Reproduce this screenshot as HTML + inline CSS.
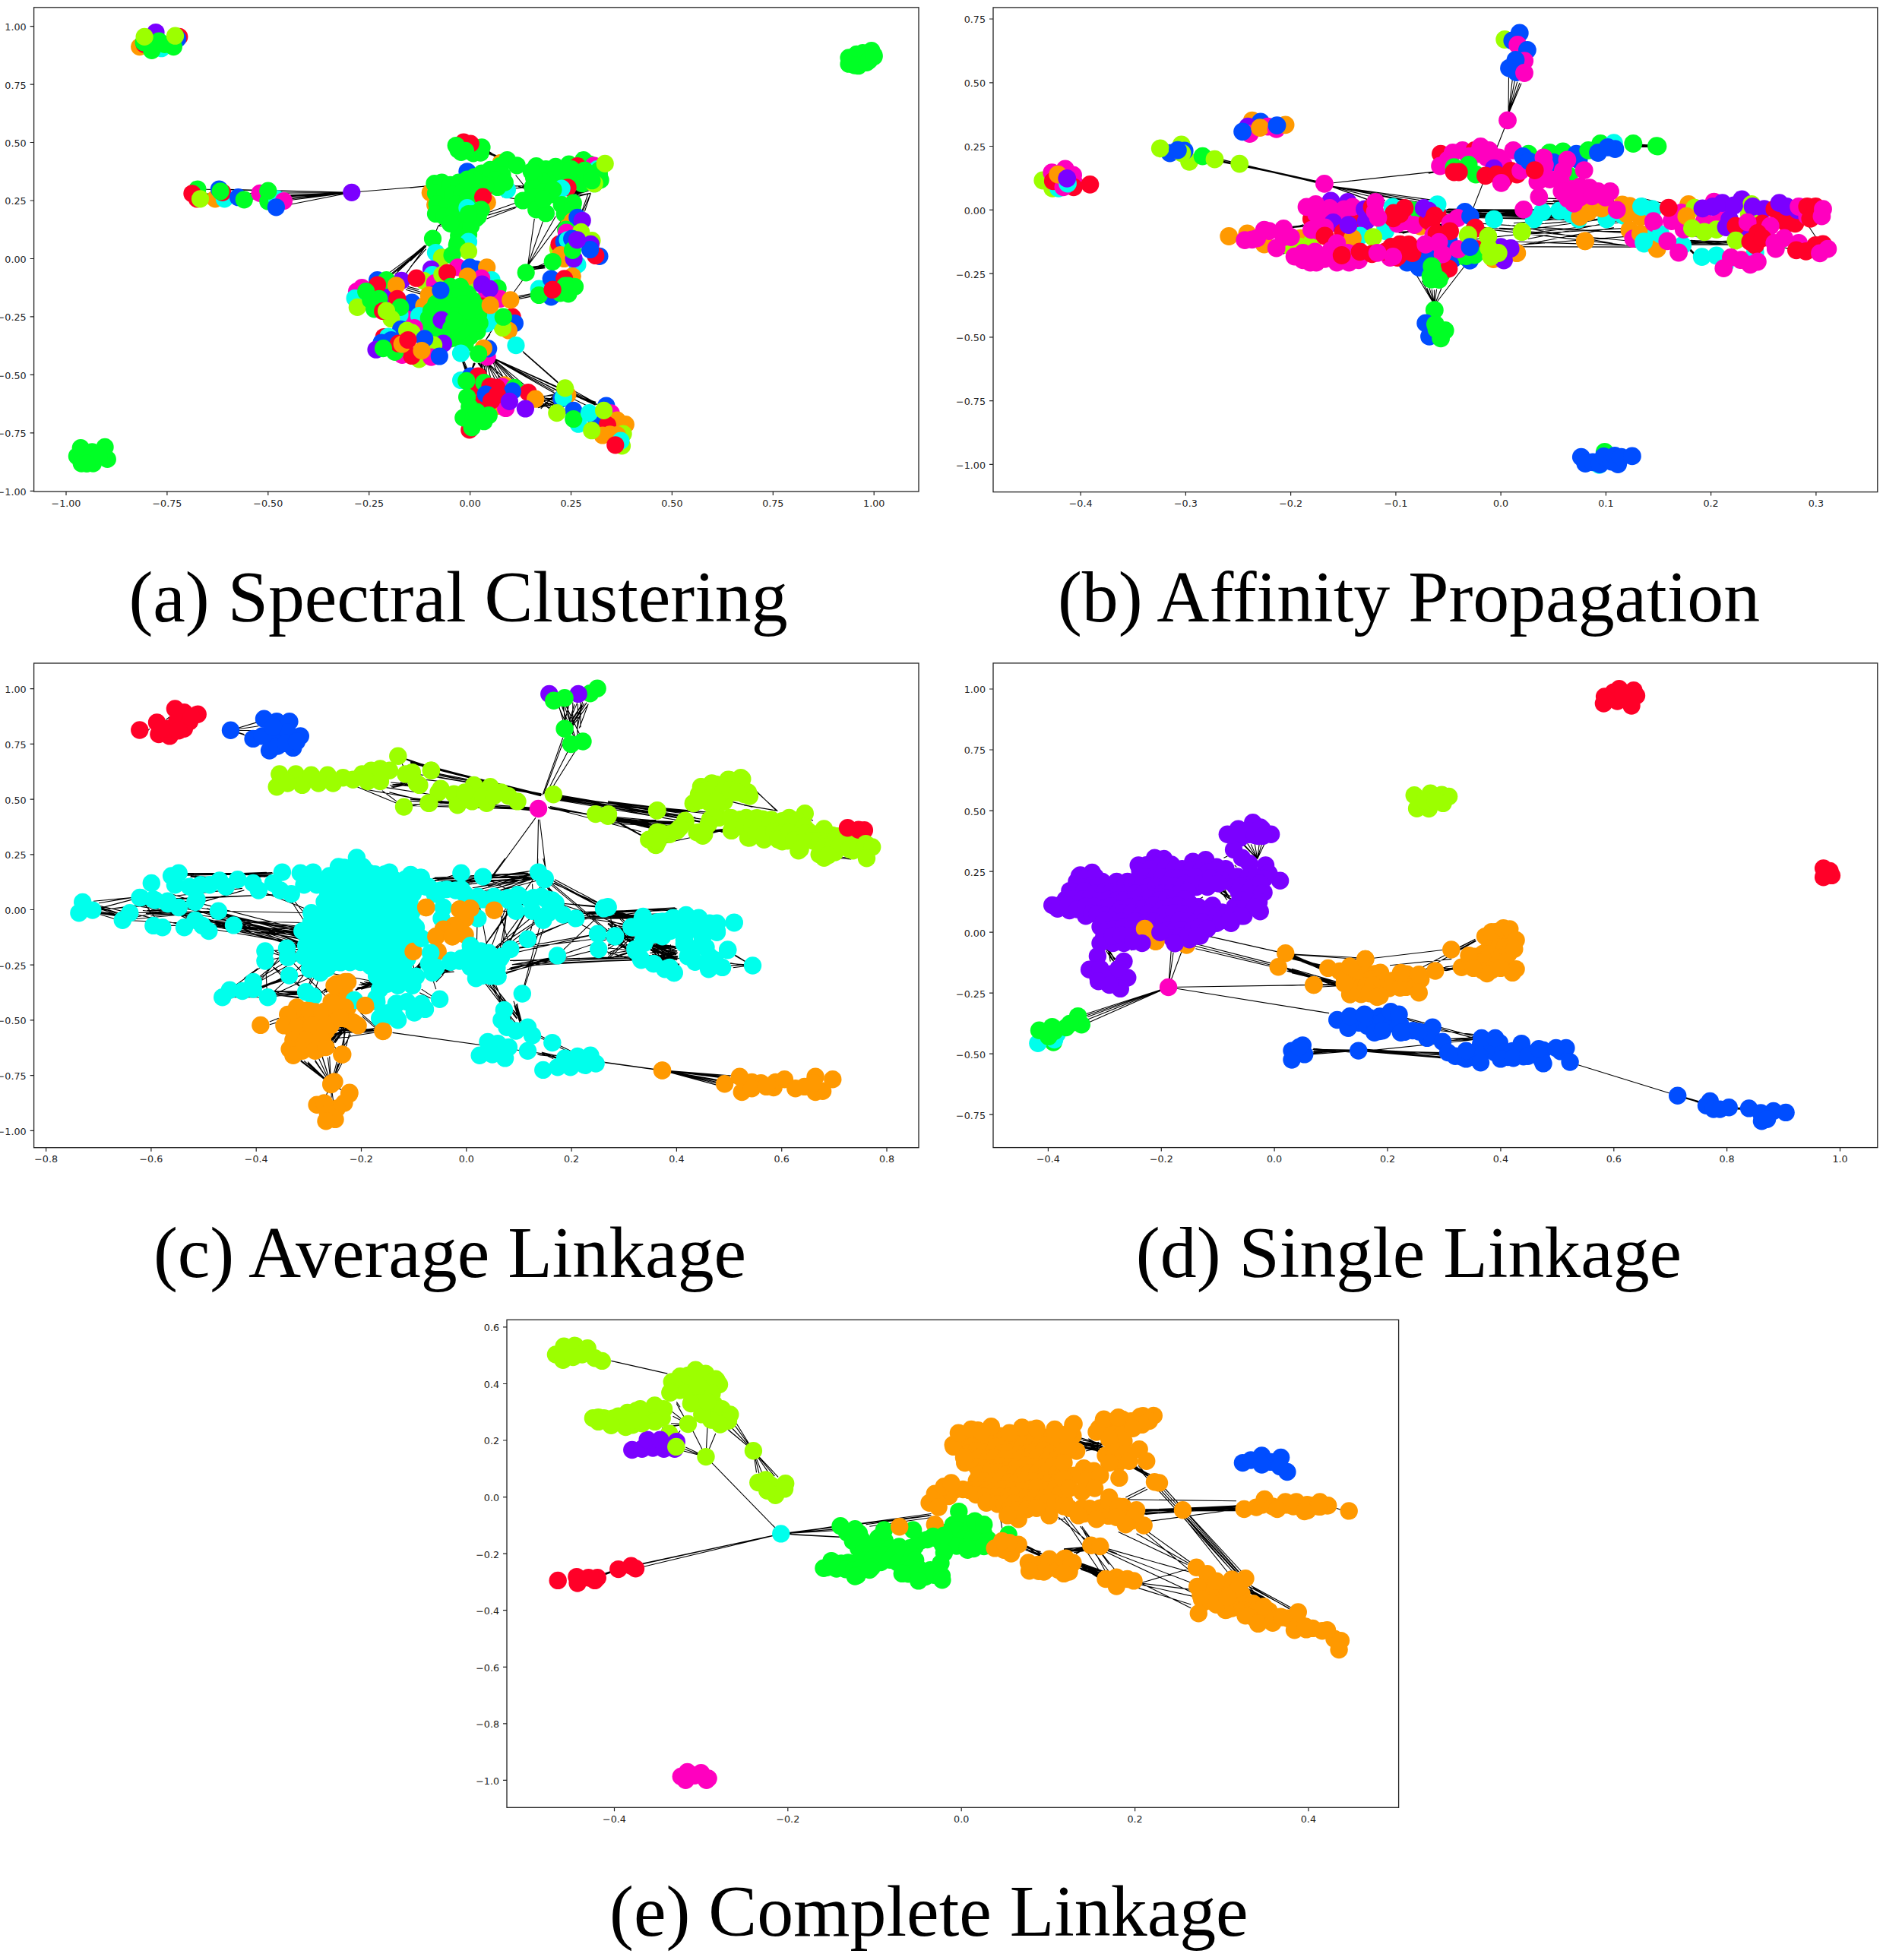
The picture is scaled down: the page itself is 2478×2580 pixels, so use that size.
<!DOCTYPE html>
<html><head><meta charset="utf-8"><title>Clustering figure</title>
<style>
html,body{margin:0;padding:0;background:#fff}
svg{display:block}
text{font-family:"DejaVu Sans","Liberation Sans",sans-serif;font-size:12.7px;fill:#222}
text.cap{font-family:"Liberation Serif","DejaVu Serif",serif;font-size:95.8px;fill:#000}
</style></head><body>
<svg width="2478" height="2580" viewBox="0 0 2478 2580">
<rect width="2478" height="2580" fill="#fff"/>
<g id="pa"><path d="M462.8 253.3L259.9 249.0M462.8 253.3L252.9 255.4M462.8 253.3L283.1 261.8M462.8 253.3L295.4 261.8M462.8 253.3L288.4 249.0M462.8 253.3L313.5 259.7M462.8 253.3L321.3 262.8M462.8 253.3L342.1 254.3M462.8 253.3L352.8 251.2M462.8 253.3L352.8 265.0M462.8 253.3L364.5 261.8M462.8 253.3L373.4 264.5M462.8 253.3L363.4 272.8M462.8 253.3L263.5 261.8M462.8 253.3L568.4 244.4M636.4 201.1L663.2 208.3M638.7 199.2L662.3 211.7M636.2 197.2L663.8 209.4M640.5 197.1L660.6 211.2M637.0 201.6L664.3 206.8M635.8 199.7L664.6 209.1M637.0 199.1L657.3 208.1M638.4 199.5L659.0 208.1M692.1 250.0L693.7 239.6M689.8 248.4L701.5 242.4M685.4 247.3L700.4 240.5M682.1 245.6L702.2 251.2M692.0 246.8L698.6 241.9M678.6 230.5L697.7 254.4M661.1 259.2L683.4 262.4M642.0 279.9L683.4 265.6M642.0 283.1L680.2 272.0M640.4 287.9L678.6 273.6M675.4 244.9L699.3 244.9M673.8 248.1L696.1 246.5M694.5 350.0L703.3 287.9M694.5 350.0L714.5 291.1M694.5 350.0L731.2 284.7M694.5 350.0L738.4 291.1M700.1 353.4L716.4 350.1M701.3 351.6L715.3 351.9M700.1 352.2L718.4 349.0M702.0 353.1L717.3 346.5M701.3 354.6L716.9 351.2M701.5 351.6L717.7 350.0M700.3 351.4L718.0 349.0M701.6 354.7L717.5 352.6M748.5 253.5L768.1 248.0M746.4 255.4L774.7 251.1M755.3 254.3L769.9 248.6M747.7 253.5L765.8 251.7M756.1 258.0L773.3 248.2M749.5 256.8L772.4 251.4M756.7 253.4L770.8 250.5M752.0 254.0L769.1 247.7M757.4 258.4L770.0 248.7M757.1 256.5L774.3 251.3M777.4 254.4L747.1 259.2M777.4 254.4L751.9 260.8M777.4 254.4L766.2 279.9M777.4 254.4L769.4 278.3M774.2 254.4L764.6 281.5M576.6 297.5L570.3 313.4M576.6 297.5L581.4 294.3M576.6 297.5L587.8 297.5M559.1 322.9L540.0 338.9M560.7 324.5L540.0 343.7M560.7 327.7L540.0 351.6M540.0 247.3L560.7 244.9M561.1 322.9L506.9 363.0M561.1 322.9L510.1 364.3M561.1 322.9L514.1 363.0M561.1 322.9L534.0 360.6M561.1 322.9L522.8 357.4M561.1 322.9L519.7 361.4M688.5 367.8L675.8 385.3M682.2 390.1L698.1 386.9M682.2 391.7L698.1 388.5M682.2 393.6L698.1 390.4M650.3 429.9L631.2 460.2M669.4 439.5L677.4 446.7M670.2 437.9L678.2 445.1M534.0 381.3L553.1 386.9M535.6 378.9L553.9 384.5M537.2 377.4L551.5 381.3M543.6 418.8L535.6 425.2M558.7 422.0L558.7 434.7M646.5 470.3L659.2 503.7M646.5 470.3L665.6 502.1M646.5 470.3L673.6 503.7M646.5 470.3L681.5 506.9M646.5 470.3L694.3 510.1M646.5 470.3L729.3 514.9M646.5 470.3L730.9 518.1M646.5 470.3L781.9 530.8M646.5 470.3L783.5 533.2M646.5 470.3L734.1 510.1M646.5 470.3L775.5 535.6M640.1 475.8L633.7 497.4M640.1 475.8L640.1 500.5M640.1 475.8L646.5 500.5M640.1 475.8L652.8 502.1M640.1 475.8L659.2 505.3M640.1 475.8L667.2 506.9M640.1 475.8L675.2 508.5M649.7 471.9L738.9 522.8M649.7 471.9L745.3 519.7M649.7 471.9L793.0 535.6M649.7 471.9L688.7 511.7M609.4 476.1L616.1 490.3M609.9 476.4L613.3 491.0M608.7 476.5L613.4 490.3M609.6 477.2L613.6 490.5M610.2 477.4L615.8 490.8M611.0 475.9L617.1 490.6M608.9 476.0L614.5 491.5M624.1 479.0L618.2 491.3M623.6 477.8L621.0 490.5M625.4 478.2L619.2 491.0M624.0 478.8L618.1 490.6M623.4 477.9L619.1 491.6M624.6 477.6L618.6 491.8M623.6 478.4L619.0 491.2M633.4 478.0L633.9 497.9M629.0 478.2L643.6 496.7M634.2 478.4L632.7 497.2M635.7 478.2L641.4 496.8M631.2 477.6L638.6 498.0M634.6 478.7L637.0 497.7M629.9 477.9L640.7 497.7M633.0 477.6L635.5 496.9M687.9 462.3L734.1 502.9M688.7 463.9L735.7 505.3M673.6 440.0L675.9 445.6M672.0 440.0L676.7 446.4M644.9 440.0L640.1 446.4M709.1 527.9L729.8 523.3M710.6 535.4L730.3 522.2M708.7 525.9L727.7 542.4M711.8 520.5L731.6 533.4M707.9 525.1L730.4 529.7M709.8 532.3L727.0 537.6M711.7 538.2L730.0 519.2M705.4 522.2L732.1 525.8M707.8 536.8L728.1 532.1M708.2 520.9L729.9 539.6M706.4 523.9L728.8 519.0M708.6 535.3L730.3 531.7M710.9 522.5L729.7 527.6M709.3 521.8L731.1 520.5M706.5 535.1L732.2 529.1M708.1 524.4L727.9 533.8M753.1 518.4L784.8 531.4M753.2 518.5L782.5 531.7M753.6 519.5L782.2 530.7M751.9 519.5L784.1 529.4M754.8 520.3L784.0 532.2M752.1 515.7L783.6 529.5M752.2 516.8L782.0 531.4M753.0 519.7L783.6 532.3M753.2 518.8L783.4 530.5M754.8 520.4L784.6 532.6M756.4 514.9L781.9 529.2" fill="none" stroke="#000" stroke-width="1.1"/>
<g fill="#ff9900"><circle cx="183.7" cy="61.6" r="11.6"/></g>
<g fill="#ff0028"><circle cx="190.1" cy="58.4" r="11.6"/></g>
<g fill="#00ffec"><circle cx="212.4" cy="63.7" r="11.6"/></g>
<g fill="#7b00ff"><circle cx="205.0" cy="42.5" r="11.6"/></g>
<g fill="#ff0028"><circle cx="235.8" cy="48.4" r="11.6"/></g>
<g fill="#004dff"><circle cx="233.7" cy="51.0" r="11.6"/></g>
<g fill="#00ff25"><circle cx="199.7" cy="66.3" r="11.6"/><circle cx="189.1" cy="55.7" r="11.6"/><circle cx="209.2" cy="54.2" r="11.6"/><circle cx="228.4" cy="61.6" r="11.6"/><circle cx="216.7" cy="58.4" r="11.6"/></g>
<g fill="#9cff00"><circle cx="190.1" cy="48.4" r="11.6"/><circle cx="230.5" cy="47.2" r="11.6"/></g>
<g fill="#00ff25"><circle cx="259.9" cy="249.0" r="11.6"/></g>
<g fill="#ff0028"><circle cx="252.9" cy="254.8" r="11.6"/><circle cx="259.3" cy="261.8" r="11.6"/></g>
<g fill="#ff9900"><circle cx="283.1" cy="261.8" r="11.6"/></g>
<g fill="#00ffec"><circle cx="295.4" cy="261.8" r="11.6"/></g>
<g fill="#004dff"><circle cx="288.4" cy="249.0" r="11.6"/></g>
<g fill="#ff0028"><circle cx="292.7" cy="253.3" r="11.6"/></g>
<g fill="#00ff25"><circle cx="290.1" cy="251.8" r="11.6"/></g>
<g fill="#9cff00"><circle cx="263.5" cy="261.8" r="11.6"/></g>
<g fill="#004dff"><circle cx="313.5" cy="259.7" r="11.6"/></g>
<g fill="#00ff25"><circle cx="321.3" cy="262.8" r="11.6"/></g>
<g fill="#ff00bf"><circle cx="342.1" cy="254.3" r="11.6"/></g>
<g fill="#00ff25"><circle cx="352.8" cy="265.0" r="11.6"/></g>
<g fill="#00ffec"><circle cx="364.5" cy="261.8" r="11.6"/></g>
<g fill="#ff00bf"><circle cx="373.4" cy="264.5" r="11.6"/></g>
<g fill="#00ff25"><circle cx="352.8" cy="251.2" r="11.6"/></g>
<g fill="#004dff"><circle cx="363.4" cy="272.8" r="11.6"/></g>
<g fill="#7b00ff"><circle cx="462.8" cy="253.3" r="11.6"/></g>
<g fill="#00ff25"><circle cx="634.0" cy="193.9" r="11.6"/><circle cx="632.4" cy="201.1" r="11.6"/><circle cx="622.8" cy="201.9" r="11.6"/></g>
<g fill="#ff0028"><circle cx="610.1" cy="187.2" r="11.6"/><circle cx="619.2" cy="189.1" r="11.6"/></g>
<g fill="#00ff25"><circle cx="600.2" cy="191.5" r="11.6"/><circle cx="612.5" cy="198.4" r="11.6"/><circle cx="606.9" cy="200.3" r="11.6"/><circle cx="602.9" cy="197.1" r="11.6"/></g>
<g fill="#ff9900"><circle cx="659.2" cy="214.3" r="11.6"/><circle cx="566.3" cy="253.6" r="11.6"/><circle cx="572.7" cy="269.6" r="11.6"/></g>
<g fill="#004dff"><circle cx="614.9" cy="225.8" r="11.6"/></g>
<g fill="#00ffec"><circle cx="667.5" cy="249.7" r="11.6"/></g>
<g fill="#00ff25"><circle cx="667.5" cy="210.6" r="11.6"/><circle cx="680.2" cy="217.8" r="11.6"/><circle cx="657.9" cy="218.6" r="11.6"/><circle cx="645.2" cy="223.4" r="11.6"/><circle cx="634.0" cy="228.2" r="11.6"/><circle cx="624.4" cy="232.9" r="11.6"/><circle cx="705.7" cy="218.6" r="11.6"/><circle cx="718.4" cy="222.6" r="11.6"/><circle cx="731.2" cy="219.4" r="11.6"/><circle cx="748.7" cy="216.2" r="11.6"/><circle cx="767.8" cy="210.6" r="11.6"/><circle cx="775.8" cy="216.2" r="11.6"/><circle cx="788.5" cy="230.5" r="11.6"/><circle cx="790.1" cy="236.9" r="11.6"/><circle cx="782.2" cy="241.7" r="11.6"/><circle cx="769.4" cy="233.7" r="11.6"/><circle cx="755.1" cy="230.5" r="11.6"/><circle cx="742.3" cy="233.7" r="11.6"/><circle cx="728.0" cy="236.9" r="11.6"/><circle cx="713.7" cy="238.5" r="11.6"/><circle cx="702.5" cy="233.7" r="11.6"/><circle cx="700.9" cy="246.5" r="11.6"/><circle cx="715.3" cy="252.8" r="11.6"/><circle cx="724.8" cy="256.0" r="11.6"/><circle cx="763.0" cy="222.6" r="11.6"/><circle cx="779.0" cy="225.8" r="11.6"/><circle cx="661.1" cy="230.5" r="11.6"/><circle cx="651.5" cy="236.9" r="11.6"/><circle cx="664.3" cy="240.1" r="11.6"/><circle cx="643.6" cy="243.3" r="11.6"/><circle cx="699.3" cy="225.8" r="11.6"/><circle cx="654.7" cy="246.5" r="11.6"/><circle cx="737.6" cy="224.2" r="11.6"/><circle cx="751.9" cy="240.1" r="11.6"/><circle cx="766.2" cy="241.7" r="11.6"/></g>
<g fill="#ff0028"><circle cx="759.9" cy="218.6" r="11.6"/></g>
<g fill="#ff00bf"><circle cx="781.4" cy="217.8" r="11.6"/></g>
<g fill="#00ffec"><circle cx="786.1" cy="222.6" r="11.6"/></g>
<g fill="#00ff25"><circle cx="751.9" cy="222.6" r="11.6"/><circle cx="769.4" cy="224.2" r="11.6"/><circle cx="779.0" cy="232.1" r="11.6"/><circle cx="788.5" cy="224.2" r="11.6"/></g>
<g fill="#9cff00"><circle cx="796.2" cy="215.4" r="11.6"/></g>
<g fill="#ff0028"><circle cx="747.1" cy="246.8" r="11.6"/></g>
<g fill="#9cff00"><circle cx="782.2" cy="241.7" r="11.6"/></g>
<g fill="#00ff25"><circle cx="779.0" cy="237.7" r="11.6"/></g>
<g fill="#00ffec"><circle cx="739.2" cy="248.1" r="11.6"/></g>
<g fill="#00ff25"><circle cx="688.2" cy="264.0" r="11.6"/><circle cx="699.3" cy="259.2" r="11.6"/><circle cx="705.7" cy="275.9" r="11.6"/><circle cx="718.4" cy="280.7" r="11.6"/><circle cx="739.2" cy="269.6" r="11.6"/><circle cx="754.3" cy="267.2" r="11.6"/><circle cx="743.1" cy="281.5" r="11.6"/><circle cx="753.5" cy="275.9" r="11.6"/><circle cx="728.0" cy="249.7" r="11.6"/><circle cx="715.3" cy="262.4" r="11.6"/></g>
<g fill="#ff0028"><circle cx="637.2" cy="248.1" r="11.6"/></g>
<g fill="#00ff25"><circle cx="571.9" cy="241.7" r="11.6"/><circle cx="581.4" cy="240.1" r="11.6"/><circle cx="592.6" cy="243.3" r="11.6"/><circle cx="603.7" cy="240.1" r="11.6"/><circle cx="613.3" cy="238.5" r="11.6"/><circle cx="573.5" cy="254.4" r="11.6"/><circle cx="584.6" cy="259.2" r="11.6"/><circle cx="595.8" cy="256.0" r="11.6"/><circle cx="608.5" cy="252.8" r="11.6"/><circle cx="619.7" cy="256.0" r="11.6"/><circle cx="575.1" cy="268.8" r="11.6"/><circle cx="587.8" cy="272.0" r="11.6"/><circle cx="600.5" cy="268.8" r="11.6"/><circle cx="614.9" cy="264.0" r="11.6"/><circle cx="573.5" cy="281.5" r="11.6"/><circle cx="584.6" cy="284.7" r="11.6"/><circle cx="597.4" cy="281.5" r="11.6"/><circle cx="638.8" cy="244.9" r="11.6"/><circle cx="629.2" cy="240.1" r="11.6"/><circle cx="622.8" cy="235.3" r="11.6"/><circle cx="614.9" cy="236.1" r="11.6"/></g>
<g fill="#ff9900"><circle cx="641.2" cy="266.4" r="11.6"/></g>
<g fill="#ff0028"><circle cx="635.6" cy="259.2" r="11.6"/></g>
<g fill="#00ffec"><circle cx="614.9" cy="273.6" r="11.6"/></g>
<g fill="#00ff25"><circle cx="622.8" cy="281.5" r="11.6"/><circle cx="633.2" cy="275.9" r="11.6"/><circle cx="611.7" cy="291.1" r="11.6"/><circle cx="626.0" cy="287.9" r="11.6"/><circle cx="600.5" cy="297.5" r="11.6"/><circle cx="613.3" cy="302.2" r="11.6"/><circle cx="603.7" cy="310.2" r="11.6"/><circle cx="616.5" cy="308.6" r="11.6"/><circle cx="602.1" cy="319.8" r="11.6"/><circle cx="629.2" cy="284.7" r="11.6"/><circle cx="592.6" cy="294.3" r="11.6"/><circle cx="619.7" cy="297.5" r="11.6"/><circle cx="616.5" cy="281.5" r="11.6"/></g>
<g fill="#00ffec"><circle cx="616.5" cy="318.2" r="11.6"/></g>
<g fill="#00ff25"><circle cx="569.5" cy="314.2" r="11.6"/><circle cx="601.3" cy="322.9" r="11.6"/></g>
<g fill="#00ffec"><circle cx="573.5" cy="332.5" r="11.6"/></g>
<g fill="#9cff00"><circle cx="581.4" cy="338.9" r="11.6"/><circle cx="616.5" cy="330.9" r="11.6"/></g>
<g fill="#00ff25"><circle cx="595.0" cy="335.7" r="11.6"/></g>
<g fill="#ff9900"><circle cx="753.5" cy="291.1" r="11.6"/><circle cx="747.1" cy="299.0" r="11.6"/></g>
<g fill="#004dff"><circle cx="759.9" cy="286.3" r="11.6"/></g>
<g fill="#7b00ff"><circle cx="766.2" cy="290.3" r="11.6"/></g>
<g fill="#00ff25"><circle cx="744.7" cy="302.2" r="11.6"/></g>
<g fill="#ff00bf"><circle cx="745.5" cy="306.2" r="11.6"/></g>
<g fill="#9cff00"><circle cx="764.6" cy="305.4" r="11.6"/><circle cx="779.0" cy="316.6" r="11.6"/><circle cx="734.4" cy="327.7" r="11.6"/></g>
<g fill="#ff0028"><circle cx="736.0" cy="321.4" r="11.6"/></g>
<g fill="#004dff"><circle cx="742.3" cy="318.2" r="11.6"/></g>
<g fill="#00ffec"><circle cx="747.1" cy="315.8" r="11.6"/></g>
<g fill="#004dff"><circle cx="752.7" cy="314.2" r="11.6"/></g>
<g fill="#ff9900"><circle cx="737.6" cy="335.7" r="11.6"/><circle cx="742.3" cy="340.5" r="11.6"/></g>
<g fill="#004dff"><circle cx="788.9" cy="337.3" r="11.6"/></g>
<g fill="#ff0028"><circle cx="783.8" cy="336.5" r="11.6"/></g>
<g fill="#00ffec"><circle cx="759.9" cy="348.4" r="11.6"/></g>
<g fill="#7b00ff"><circle cx="755.1" cy="340.5" r="11.6"/><circle cx="777.4" cy="321.4" r="11.6"/></g>
<g fill="#00ff25"><circle cx="753.5" cy="329.3" r="11.6"/></g>
<g fill="#004dff"><circle cx="776.6" cy="328.5" r="11.6"/></g>
<g fill="#7b00ff"><circle cx="759.5" cy="315.8" r="11.6"/></g>
<g fill="#00ff25"><circle cx="727.2" cy="344.5" r="11.6"/><circle cx="692.2" cy="358.8" r="11.6"/></g>
<g fill="#004dff"><circle cx="496.6" cy="368.6" r="11.6"/></g>
<g fill="#7b00ff"><circle cx="528.4" cy="369.4" r="11.6"/><circle cx="510.1" cy="388.5" r="11.6"/></g>
<g fill="#00ff25"><circle cx="508.5" cy="368.6" r="11.6"/></g>
<g fill="#ff00bf"><circle cx="469.5" cy="383.7" r="11.6"/><circle cx="476.3" cy="378.6" r="11.6"/></g>
<g fill="#00ffec"><circle cx="467.1" cy="392.5" r="11.6"/></g>
<g fill="#9cff00"><circle cx="470.3" cy="404.4" r="11.6"/></g>
<g fill="#ff0028"><circle cx="496.6" cy="375.0" r="11.6"/></g>
<g fill="#00ff25"><circle cx="481.7" cy="383.7" r="11.6"/><circle cx="487.8" cy="394.9" r="11.6"/><circle cx="498.9" cy="393.3" r="11.6"/></g>
<g fill="#ff9900"><circle cx="521.3" cy="375.8" r="11.6"/></g>
<g fill="#ff00bf"><circle cx="535.6" cy="414.0" r="11.6"/></g>
<g fill="#00ffec"><circle cx="526.0" cy="414.3" r="11.6"/></g>
<g fill="#004dff"><circle cx="542.0" cy="398.1" r="11.6"/></g>
<g fill="#ff0028"><circle cx="522.8" cy="393.3" r="11.6"/></g>
<g fill="#00ff25"><circle cx="526.8" cy="404.4" r="11.6"/><circle cx="492.6" cy="406.8" r="11.6"/></g>
<g fill="#9cff00"><circle cx="514.9" cy="419.6" r="11.6"/></g>
<g fill="#ff0028"><circle cx="503.7" cy="409.5" r="11.6"/></g>
<g fill="#9cff00"><circle cx="508.5" cy="409.2" r="11.6"/></g>
<g fill="#7b00ff"><circle cx="567.5" cy="354.3" r="11.6"/></g>
<g fill="#00ffec"><circle cx="569.0" cy="361.7" r="11.6"/></g>
<g fill="#9cff00"><circle cx="557.9" cy="369.7" r="11.6"/></g>
<g fill="#ff0028"><circle cx="548.0" cy="366.2" r="11.6"/></g>
<g fill="#ff00bf"><circle cx="572.2" cy="372.6" r="11.6"/><circle cx="602.5" cy="351.9" r="11.6"/></g>
<g fill="#9cff00"><circle cx="581.8" cy="361.7" r="11.6"/></g>
<g fill="#004dff"><circle cx="618.4" cy="351.9" r="11.6"/><circle cx="626.4" cy="354.3" r="11.6"/></g>
<g fill="#ff9900"><circle cx="640.7" cy="351.9" r="11.6"/></g>
<g fill="#00ffec"><circle cx="647.1" cy="368.6" r="11.6"/></g>
<g fill="#00ff25"><circle cx="655.1" cy="379.3" r="11.6"/></g>
<g fill="#9cff00"><circle cx="616.8" cy="378.9" r="11.6"/></g>
<g fill="#ff00bf"><circle cx="633.6" cy="366.2" r="11.6"/></g>
<g fill="#ff9900"><circle cx="615.3" cy="363.8" r="11.6"/></g>
<g fill="#ff0028"><circle cx="588.6" cy="359.0" r="11.6"/></g>
<g fill="#7b00ff"><circle cx="572.2" cy="386.9" r="11.6"/></g>
<g fill="#ff9900"><circle cx="564.3" cy="388.5" r="11.6"/><circle cx="557.9" cy="402.8" r="11.6"/></g>
<g fill="#00ffec"><circle cx="551.5" cy="415.6" r="11.6"/><circle cx="561.1" cy="428.3" r="11.6"/></g>
<g fill="#ff00bf"><circle cx="636.0" cy="394.9" r="11.6"/><circle cx="658.3" cy="393.3" r="11.6"/></g>
<g fill="#ff0028"><circle cx="634.4" cy="403.2" r="11.6"/><circle cx="674.2" cy="417.2" r="11.6"/></g>
<g fill="#004dff"><circle cx="677.4" cy="425.5" r="11.6"/></g>
<g fill="#ff9900"><circle cx="669.4" cy="435.0" r="11.6"/></g>
<g fill="#9cff00"><circle cx="661.5" cy="431.5" r="11.6"/></g>
<g fill="#00ffec"><circle cx="645.5" cy="418.8" r="11.6"/><circle cx="640.7" cy="425.9" r="11.6"/></g>
<g fill="#00ff25"><circle cx="592.9" cy="377.4" r="11.6"/><circle cx="605.7" cy="377.4" r="11.6"/><circle cx="615.3" cy="386.9" r="11.6"/><circle cx="599.3" cy="390.1" r="11.6"/><circle cx="586.6" cy="394.9" r="11.6"/><circle cx="573.8" cy="399.7" r="11.6"/><circle cx="567.5" cy="409.2" r="11.6"/><circle cx="564.3" cy="418.8" r="11.6"/><circle cx="567.5" cy="429.9" r="11.6"/><circle cx="572.2" cy="437.9" r="11.6"/><circle cx="583.4" cy="441.1" r="11.6"/><circle cx="592.9" cy="445.9" r="11.6"/><circle cx="605.7" cy="447.5" r="11.6"/><circle cx="612.1" cy="452.2" r="11.6"/><circle cx="618.4" cy="442.7" r="11.6"/><circle cx="628.0" cy="436.3" r="11.6"/><circle cx="631.2" cy="425.2" r="11.6"/><circle cx="629.6" cy="414.0" r="11.6"/><circle cx="626.4" cy="402.8" r="11.6"/><circle cx="621.6" cy="394.9" r="11.6"/><circle cx="608.9" cy="399.7" r="11.6"/><circle cx="596.1" cy="402.8" r="11.6"/><circle cx="583.4" cy="409.2" r="11.6"/><circle cx="599.3" cy="415.6" r="11.6"/><circle cx="612.1" cy="418.8" r="11.6"/><circle cx="620.0" cy="428.3" r="11.6"/><circle cx="607.3" cy="434.7" r="11.6"/><circle cx="592.9" cy="431.5" r="11.6"/><circle cx="615.3" cy="409.2" r="11.6"/><circle cx="602.5" cy="425.2" r="11.6"/></g>
<g fill="#7b00ff"><circle cx="634.4" cy="374.2" r="11.6"/><circle cx="644.2" cy="380.2" r="11.6"/></g>
<g fill="#004dff"><circle cx="579.9" cy="382.1" r="11.6"/></g>
<g fill="#ff9900"><circle cx="645.2" cy="401.7" r="11.6"/><circle cx="671.8" cy="394.9" r="11.6"/></g>
<g fill="#00ff25"><circle cx="662.3" cy="417.2" r="11.6"/></g>
<g fill="#7b00ff"><circle cx="581.0" cy="421.2" r="11.6"/></g>
<g fill="#00ff25"><circle cx="593.7" cy="432.3" r="11.6"/><circle cx="597.7" cy="422.0" r="11.6"/></g>
<g fill="#ff00bf"><circle cx="545.2" cy="431.5" r="11.6"/></g>
<g fill="#004dff"><circle cx="527.6" cy="433.4" r="11.6"/></g>
<g fill="#9cff00"><circle cx="535.6" cy="435.0" r="11.6"/><circle cx="542.0" cy="437.9" r="11.6"/></g>
<g fill="#ff0028"><circle cx="505.3" cy="443.5" r="11.6"/></g>
<g fill="#00ffec"><circle cx="510.9" cy="443.0" r="11.6"/></g>
<g fill="#004dff"><circle cx="502.1" cy="451.0" r="11.6"/><circle cx="514.9" cy="447.5" r="11.6"/></g>
<g fill="#7b00ff"><circle cx="495.0" cy="460.2" r="11.6"/><circle cx="583.4" cy="452.2" r="11.6"/></g>
<g fill="#9cff00"><circle cx="570.6" cy="454.1" r="11.6"/><circle cx="551.5" cy="472.9" r="11.6"/></g>
<g fill="#ff00bf"><circle cx="529.2" cy="467.4" r="11.6"/><circle cx="567.5" cy="470.1" r="11.6"/></g>
<g fill="#ff0028"><circle cx="542.0" cy="468.5" r="11.6"/></g>
<g fill="#00ff25"><circle cx="519.7" cy="463.4" r="11.6"/></g>
<g fill="#ff0028"><circle cx="524.4" cy="452.2" r="11.6"/></g>
<g fill="#ff9900"><circle cx="529.2" cy="453.0" r="11.6"/></g>
<g fill="#004dff"><circle cx="558.7" cy="445.9" r="11.6"/></g>
<g fill="#ff0028"><circle cx="536.9" cy="447.5" r="11.6"/></g>
<g fill="#00ff25"><circle cx="504.5" cy="458.6" r="11.6"/></g>
<g fill="#ff9900"><circle cx="555.0" cy="461.5" r="11.6"/></g>
<g fill="#004dff"><circle cx="578.3" cy="469.0" r="11.6"/></g>
<g fill="#ff00bf"><circle cx="641.1" cy="469.8" r="11.6"/></g>
<g fill="#004dff"><circle cx="642.7" cy="458.9" r="11.6"/></g>
<g fill="#ff9900"><circle cx="636.3" cy="458.3" r="11.6"/></g>
<g fill="#00ffec"><circle cx="606.5" cy="465.0" r="11.6"/><circle cx="679.0" cy="454.6" r="11.6"/></g>
<g fill="#00ff25"><circle cx="629.6" cy="465.8" r="11.6"/></g>
<g fill="#00ffec"><circle cx="709.3" cy="380.2" r="11.6"/></g>
<g fill="#004dff"><circle cx="725.2" cy="367.0" r="11.6"/><circle cx="725.2" cy="390.9" r="11.6"/></g>
<g fill="#00ff25"><circle cx="709.3" cy="388.5" r="11.6"/><circle cx="738.2" cy="381.3" r="11.6"/></g>
<g fill="#ff0028"><circle cx="727.3" cy="381.3" r="11.6"/><circle cx="617.8" cy="565.9" r="11.6"/></g>
<g fill="#00ffec"><circle cx="606.6" cy="500.5" r="11.6"/></g>
<g fill="#004dff"><circle cx="619.4" cy="495.0" r="11.6"/></g>
<g fill="#ff0028"><circle cx="629.3" cy="495.0" r="11.6"/><circle cx="624.2" cy="510.1" r="11.6"/></g>
<g fill="#00ff25"><circle cx="613.8" cy="501.3" r="11.6"/><circle cx="636.9" cy="503.7" r="11.6"/></g>
<g fill="#ff9900"><circle cx="664.0" cy="506.9" r="11.6"/><circle cx="656.0" cy="534.3" r="11.6"/></g>
<g fill="#ff00bf"><circle cx="660.8" cy="508.8" r="11.6"/><circle cx="633.7" cy="535.6" r="11.6"/><circle cx="665.6" cy="537.5" r="11.6"/></g>
<g fill="#00ff25"><circle cx="677.1" cy="510.4" r="11.6"/></g>
<g fill="#9cff00"><circle cx="628.9" cy="531.1" r="11.6"/></g>
<g fill="#ff0028"><circle cx="644.9" cy="508.5" r="11.6"/><circle cx="653.6" cy="510.1" r="11.6"/><circle cx="633.7" cy="529.2" r="11.6"/><circle cx="695.1" cy="516.5" r="11.6"/></g>
<g fill="#004dff"><circle cx="674.4" cy="514.9" r="11.6"/><circle cx="639.3" cy="518.9" r="11.6"/></g>
<g fill="#ff9900"><circle cx="704.6" cy="525.2" r="11.6"/></g>
<g fill="#ff0028"><circle cx="646.5" cy="527.6" r="11.6"/><circle cx="654.4" cy="519.7" r="11.6"/></g>
<g fill="#7b00ff"><circle cx="670.4" cy="528.4" r="11.6"/><circle cx="691.4" cy="538.0" r="11.6"/></g>
<g fill="#00ff25"><circle cx="614.6" cy="522.8" r="11.6"/><circle cx="617.8" cy="535.6" r="11.6"/><circle cx="609.8" cy="549.9" r="11.6"/><circle cx="622.6" cy="551.5" r="11.6"/><circle cx="633.7" cy="549.9" r="11.6"/><circle cx="643.3" cy="546.7" r="11.6"/><circle cx="621.0" cy="562.7" r="11.6"/><circle cx="636.9" cy="554.7" r="11.6"/><circle cx="627.4" cy="542.0" r="11.6"/></g>
<g fill="#ff9900"><circle cx="746.8" cy="519.7" r="11.6"/></g>
<g fill="#004dff"><circle cx="738.9" cy="524.8" r="11.6"/></g>
<g fill="#00ffec"><circle cx="741.3" cy="523.2" r="11.6"/></g>
<g fill="#9cff00"><circle cx="743.7" cy="510.9" r="11.6"/></g>
<g fill="#00ffec"><circle cx="761.2" cy="558.2" r="11.6"/></g>
<g fill="#004dff"><circle cx="754.8" cy="540.4" r="11.6"/><circle cx="797.8" cy="534.0" r="11.6"/><circle cx="785.1" cy="555.0" r="11.6"/></g>
<g fill="#9cff00"><circle cx="732.8" cy="543.6" r="11.6"/></g>
<g fill="#00ff25"><circle cx="754.8" cy="551.5" r="11.6"/></g>
<g fill="#ff00bf"><circle cx="804.2" cy="543.9" r="11.6"/></g>
<g fill="#ff9900"><circle cx="812.2" cy="553.1" r="11.6"/><circle cx="823.3" cy="558.7" r="11.6"/></g>
<g fill="#ff0028"><circle cx="799.4" cy="559.5" r="11.6"/></g>
<g fill="#00ffec"><circle cx="775.5" cy="543.6" r="11.6"/></g>
<g fill="#9cff00"><circle cx="794.6" cy="540.4" r="11.6"/><circle cx="820.1" cy="571.0" r="11.6"/><circle cx="818.5" cy="586.9" r="11.6"/></g>
<g fill="#ff9900"><circle cx="793.0" cy="573.0" r="11.6"/><circle cx="802.6" cy="571.9" r="11.6"/><circle cx="812.2" cy="572.6" r="11.6"/></g>
<g fill="#00ffec"><circle cx="816.9" cy="580.2" r="11.6"/></g>
<g fill="#9cff00"><circle cx="778.7" cy="566.7" r="11.6"/></g>
<g fill="#ff0028"><circle cx="809.8" cy="585.8" r="11.6"/></g>
<g fill="#ff9900"><circle cx="753.3" cy="363.5" r="11.6"/></g>
<g fill="#ff0028"><circle cx="742.7" cy="366.9" r="11.6"/></g>
<g fill="#00ff25"><circle cx="748.0" cy="376.2" r="11.6"/><circle cx="756.5" cy="377.3" r="11.6"/><circle cx="748.0" cy="386.8" r="11.6"/><circle cx="743.7" cy="376.2" r="11.6"/><circle cx="737.4" cy="385.8" r="11.6"/></g>
<g fill="#ff0028"><circle cx="727.1" cy="381.3" r="11.6"/></g>
<g fill="#00ff25"><circle cx="1146.9" cy="66.6" r="11.6"/><circle cx="1150.1" cy="72.7" r="11.6"/><circle cx="1135.4" cy="69.5" r="11.6"/><circle cx="1127.2" cy="71.4" r="11.6"/><circle cx="1117.0" cy="75.9" r="11.6"/><circle cx="1117.0" cy="84.2" r="11.6"/><circle cx="1124.6" cy="86.1" r="11.6"/><circle cx="1129.7" cy="86.7" r="11.6"/><circle cx="1140.5" cy="82.3" r="11.6"/><circle cx="1143.7" cy="79.7" r="11.6"/><circle cx="1150.1" cy="74.6" r="11.6"/><circle cx="106.2" cy="589.7" r="11.6"/><circle cx="138.1" cy="588.4" r="11.6"/><circle cx="121.2" cy="594.8" r="11.6"/><circle cx="101.4" cy="600.5" r="11.6"/><circle cx="141.3" cy="604.4" r="11.6"/><circle cx="107.2" cy="610.1" r="11.6"/><circle cx="122.5" cy="610.1" r="11.6"/><circle cx="117.4" cy="603.7" r="11.6"/><circle cx="130.1" cy="600.5" r="11.6"/><circle cx="114.2" cy="610.4" r="11.6"/></g></g>
<g id="pb"><path d="M1598.0 211.0L1743.3 241.2M1598.5 209.5L1743.1 242.6M1597.9 207.9L1743.4 241.7M1599.0 207.8L1742.8 242.4M1598.1 211.4L1743.5 240.6M1597.8 209.8L1743.6 241.5M1631.2 216.0L1743.1 240.9M1630.4 215.2L1742.5 242.6M1631.5 215.8L1743.0 242.3M1630.6 215.4L1742.3 242.9M1754.5 240.7L1891.6 225.6M1749.8 244.7L1900.0 268.6M1749.8 244.7L1900.0 265.4M1749.8 244.7L1799.2 262.2M1749.8 244.7L1807.1 265.4M1749.8 244.7L1854.9 265.4M1749.8 244.7L1870.8 267.0M1749.8 244.7L1823.0 263.8M1697.0 301.3L1714.9 295.9M1696.7 300.8L1716.8 296.5M1695.9 300.5L1716.6 296.1M1695.4 299.9L1717.0 298.3M1697.0 300.3L1716.1 296.4M1694.1 299.0L1716.2 296.5M1834.0 303.0L1899.8 298.8M1841.4 298.4L1899.2 301.0M1834.4 300.0L1900.8 297.5M1845.4 302.3L1900.2 294.5M1841.6 306.1L1900.0 300.1M1842.3 298.4L1900.4 298.7M1835.2 298.1L1900.6 297.5M1843.2 306.2L1900.3 301.8M1837.0 305.5L1899.9 302.0M1846.2 298.7L1899.4 295.1M1847.9 302.0L1900.2 295.9M1839.1 301.5L1899.8 298.6M1840.6 306.4L1900.3 301.9M1845.8 307.3L1900.3 294.6M1689.2 334.4L1697.2 324.9M1984.0 158.3L1934.2 285.4M1880.0 228.1L1889.6 226.5M1907.2 275.6L2051.3 276.7M1899.1 279.4L2071.2 287.0M1932.5 277.1L2056.7 278.7M1904.2 275.6L2044.3 289.0M1935.6 284.6L2066.7 277.4M1910.7 282.3L2064.1 287.9M1938.0 275.4L2059.3 285.0M1920.1 276.5L2054.2 275.7M1940.6 285.3L2057.1 279.1M1939.4 281.6L2069.9 287.8M1920.2 279.5L2059.0 281.1M1903.6 278.2L2067.2 275.0M1898.1 282.3L2046.9 282.8M1918.5 278.6L2074.3 277.4M1915.7 276.9L2060.3 278.7M1912.9 283.8L2048.4 283.2M1939.2 275.6L2038.5 277.9M1932.5 282.1L2045.2 279.5M1904.4 280.1L2037.8 285.4M1938.8 286.4L2064.2 289.6M1896.8 278.0L2073.1 286.6M1915.5 286.3L2059.9 287.3M1910.0 276.7L2053.1 276.4M1914.2 286.5L2048.8 274.4M1898.1 276.4L2066.1 280.0M1909.8 275.5L2073.7 281.0M1905.9 275.0L2038.2 277.0M1928.3 276.2L2037.7 282.1M1907.8 287.0L2040.8 282.7M1932.9 279.5L2073.9 281.9M1985.4 317.8L2167.8 323.9M1994.7 324.1L2123.8 299.6M2010.9 314.5L2173.8 281.6M1973.1 300.4L2153.4 305.1M1936.8 299.4L2138.2 322.6M1996.8 297.4L2167.9 282.9M1984.9 296.2L2122.3 320.3M1952.4 299.3L2178.5 320.3M1958.8 325.5L2153.1 310.4M1952.1 324.8L2161.8 325.1M2007.0 302.3L2142.9 284.3M1947.4 294.1L2139.5 306.6M1936.0 315.6L2141.5 291.7M2001.0 308.6L2140.3 300.4M1991.9 293.8L2178.1 277.0M2044.9 268.8L2180.0 266.5M2029.8 266.8L2179.9 276.0M2036.9 268.2L2179.3 276.9M2043.7 263.6L2180.1 274.6M2033.5 265.4L2181.0 266.6M2045.1 267.1L2181.1 267.9M2031.5 268.5L2181.0 270.0M2031.6 260.9L2180.4 267.1M2160.1 190.6L2171.8 190.9M2160.5 191.3L2170.9 192.2M2159.7 191.5L2170.9 190.9M2160.3 192.8L2171.0 191.3M2160.6 193.2L2171.7 191.9M2161.2 190.3L2172.1 191.5M2158.0 193.5L2175.3 193.1M2157.7 191.7L2176.7 191.9M2158.6 192.2L2175.9 192.6M2157.9 193.1L2175.3 191.9M2157.6 191.7L2175.8 193.6M2158.2 191.3L2175.5 193.9M2223.6 318.8L2273.6 322.1M2222.2 319.8L2276.0 317.1M2223.9 320.7L2273.2 319.0M2224.4 319.4L2275.4 317.6M2222.9 316.7L2274.7 322.5M2224.0 321.9L2274.3 321.3M2222.5 318.1L2275.3 321.2M2223.5 316.5L2274.0 317.9M2223.0 322.2L2273.8 322.2M2224.9 316.2L2274.3 319.7M2223.8 329.1L2231.8 334.8M2224.2 330.4L2231.9 334.6M2223.8 328.8L2231.3 337.1M2224.5 327.9L2232.3 336.0M2223.5 328.6L2232.0 335.6M2224.0 329.8L2231.1 336.5M2379.9 297.5L2389.4 311.8M2160.0 260.8L2187.1 267.2M2335.3 310.2L2328.9 305.4M2348.0 326.1L2357.6 327.7M2351.2 326.9L2359.2 329.3M1887.8 401.5L1861.9 358.5M1887.8 401.5L1871.4 369.7M1887.8 401.5L1877.8 379.2M1887.8 401.5L1884.2 380.8M1887.8 401.5L1890.5 380.8M1887.8 401.5L1896.9 379.2M1887.8 401.5L1927.2 350.5M1887.8 401.5L1881.0 379.2M1887.8 401.5L1887.4 381.6M1985.0 150.2L1985.5 101.3M1985.0 150.2L1990.3 104.5M1985.0 150.2L1993.5 105.6M1985.0 150.2L1996.7 107.7M1985.0 150.2L1999.8 109.3M1985.0 150.2L2002.0 109.8" fill="none" stroke="#000" stroke-width="1.1"/>
<g fill="#9cff00"><circle cx="1372.3" cy="237.5" r="11.9"/><circle cx="1385.1" cy="247.9" r="11.9"/></g>
<g fill="#ff00bf"><circle cx="1384.3" cy="227.2" r="11.9"/><circle cx="1401.8" cy="222.4" r="11.9"/><circle cx="1412.1" cy="230.4" r="11.9"/></g>
<g fill="#00ffec"><circle cx="1393.0" cy="247.9" r="11.9"/></g>
<g fill="#ff0028"><circle cx="1385.8" cy="238.3" r="11.9"/></g>
<g fill="#ff00bf"><circle cx="1413.7" cy="241.5" r="11.9"/></g>
<g fill="#ff0028"><circle cx="1412.9" cy="246.3" r="11.9"/></g>
<g fill="#ff00bf"><circle cx="1399.4" cy="246.3" r="11.9"/></g>
<g fill="#00ffec"><circle cx="1405.0" cy="241.5" r="11.9"/></g>
<g fill="#ff9900"><circle cx="1392.2" cy="229.6" r="11.9"/></g>
<g fill="#7b00ff"><circle cx="1404.2" cy="234.8" r="11.9"/></g>
<g fill="#ff0028"><circle cx="1434.4" cy="242.8" r="11.9"/></g>
<g fill="#9cff00"><circle cx="1554.7" cy="190.5" r="11.9"/><circle cx="1565.1" cy="212.8" r="11.9"/></g>
<g fill="#004dff"><circle cx="1558.7" cy="198.5" r="11.9"/><circle cx="1539.6" cy="201.7" r="11.9"/></g>
<g fill="#9cff00"><circle cx="1526.8" cy="195.3" r="11.9"/><circle cx="1555.5" cy="201.7" r="11.9"/></g>
<g fill="#004dff"><circle cx="1549.9" cy="197.7" r="11.9"/></g>
<g fill="#00ff25"><circle cx="1582.6" cy="205.7" r="11.9"/></g>
<g fill="#9cff00"><circle cx="1598.5" cy="209.7" r="11.9"/><circle cx="1631.2" cy="215.6" r="11.9"/></g>
<g fill="#ff9900"><circle cx="1647.8" cy="158.7" r="11.9"/></g>
<g fill="#004dff"><circle cx="1658.9" cy="160.3" r="11.9"/></g>
<g fill="#7b00ff"><circle cx="1642.2" cy="166.6" r="11.9"/></g>
<g fill="#ff00bf"><circle cx="1644.6" cy="176.2" r="11.9"/><circle cx="1668.5" cy="166.6" r="11.9"/></g>
<g fill="#004dff"><circle cx="1635.1" cy="173.3" r="11.9"/></g>
<g fill="#ff9900"><circle cx="1658.2" cy="168.2" r="11.9"/></g>
<g fill="#ff00bf"><circle cx="1679.7" cy="169.8" r="11.9"/></g>
<g fill="#ff9900"><circle cx="1691.6" cy="164.3" r="11.9"/></g>
<g fill="#004dff"><circle cx="1680.5" cy="165.1" r="11.9"/></g>
<g fill="#ff00bf"><circle cx="1742.9" cy="241.8" r="11.9"/></g>
<g fill="#ff9900"><circle cx="1617.2" cy="311.0" r="11.9"/><circle cx="1641.4" cy="307.4" r="11.9"/><circle cx="1663.7" cy="310.5" r="11.9"/><circle cx="1663.7" cy="321.7" r="11.9"/><circle cx="1711.5" cy="313.7" r="11.9"/><circle cx="1703.6" cy="318.5" r="11.9"/></g>
<g fill="#9cff00"><circle cx="1698.8" cy="324.9" r="11.9"/><circle cx="1727.5" cy="316.9" r="11.9"/><circle cx="1711.5" cy="324.9" r="11.9"/></g>
<g fill="#ff00bf"><circle cx="1663.7" cy="302.6" r="11.9"/><circle cx="1670.1" cy="304.2" r="11.9"/><circle cx="1689.2" cy="301.0" r="11.9"/><circle cx="1689.2" cy="312.1" r="11.9"/><circle cx="1679.7" cy="326.5" r="11.9"/><circle cx="1698.8" cy="312.1" r="11.9"/><circle cx="1638.2" cy="316.1" r="11.9"/><circle cx="1654.2" cy="313.7" r="11.9"/><circle cx="1647.8" cy="315.3" r="11.9"/></g>
<g fill="#ff0028"><circle cx="1725.9" cy="288.2" r="11.9"/><circle cx="1783.2" cy="288.2" r="11.9"/></g>
<g fill="#7b00ff"><circle cx="1751.4" cy="264.3" r="11.9"/><circle cx="1773.7" cy="265.9" r="11.9"/></g>
<g fill="#ff00bf"><circle cx="1719.5" cy="272.3" r="11.9"/><circle cx="1731.4" cy="268.8" r="11.9"/><circle cx="1749.8" cy="273.9" r="11.9"/><circle cx="1768.9" cy="275.5" r="11.9"/><circle cx="1780.0" cy="272.3" r="11.9"/><circle cx="1732.2" cy="281.9" r="11.9"/><circle cx="1743.4" cy="283.5" r="11.9"/><circle cx="1759.3" cy="281.9" r="11.9"/></g>
<g fill="#7b00ff"><circle cx="1796.0" cy="275.5" r="11.9"/><circle cx="1754.5" cy="293.0" r="11.9"/><circle cx="1797.6" cy="291.4" r="11.9"/></g>
<g fill="#ff0028"><circle cx="1805.5" cy="272.3" r="11.9"/></g>
<g fill="#ff00bf"><circle cx="1810.3" cy="265.9" r="11.9"/></g>
<g fill="#00ffec"><circle cx="1832.6" cy="272.3" r="11.9"/></g>
<g fill="#00ff25"><circle cx="1859.7" cy="277.1" r="11.9"/></g>
<g fill="#9cff00"><circle cx="1823.0" cy="297.8" r="11.9"/></g>
<g fill="#ff9900"><circle cx="1869.3" cy="297.8" r="11.9"/></g>
<g fill="#00ffec"><circle cx="1823.0" cy="304.2" r="11.9"/><circle cx="1789.6" cy="310.5" r="11.9"/></g>
<g fill="#ff00bf"><circle cx="1848.5" cy="291.4" r="11.9"/><circle cx="1861.3" cy="296.2" r="11.9"/><circle cx="1839.0" cy="294.6" r="11.9"/></g>
<g fill="#ff0028"><circle cx="1848.5" cy="273.9" r="11.9"/><circle cx="1834.2" cy="280.3" r="11.9"/><circle cx="1833.4" cy="287.4" r="11.9"/><circle cx="1891.6" cy="281.9" r="11.9"/><circle cx="1878.8" cy="289.8" r="11.9"/><circle cx="1842.2" cy="281.9" r="11.9"/></g>
<g fill="#ff00bf"><circle cx="1809.5" cy="278.7" r="11.9"/><circle cx="1813.5" cy="286.6" r="11.9"/></g>
<g fill="#00ffec"><circle cx="1891.6" cy="269.1" r="11.9"/></g>
<g fill="#7b00ff"><circle cx="1873.7" cy="273.9" r="11.9"/></g>
<g fill="#ff00bf"><circle cx="1725.9" cy="302.6" r="11.9"/><circle cx="1743.4" cy="299.4" r="11.9"/><circle cx="1735.4" cy="304.2" r="11.9"/></g>
<g fill="#ff0028"><circle cx="1743.4" cy="310.5" r="11.9"/><circle cx="1767.3" cy="305.8" r="11.9"/></g>
<g fill="#ff9900"><circle cx="1780.0" cy="313.7" r="11.9"/></g>
<g fill="#9cff00"><circle cx="1807.1" cy="312.1" r="11.9"/></g>
<g fill="#7b00ff"><circle cx="1774.5" cy="296.2" r="11.9"/></g>
<g fill="#004dff"><circle cx="1851.7" cy="345.6" r="11.9"/><circle cx="1867.7" cy="352.0" r="11.9"/><circle cx="1877.2" cy="339.2" r="11.9"/></g>
<g fill="#ff00bf"><circle cx="1703.6" cy="337.6" r="11.9"/><circle cx="1714.7" cy="342.4" r="11.9"/><circle cx="1724.3" cy="345.6" r="11.9"/><circle cx="1732.2" cy="345.6" r="11.9"/><circle cx="1743.4" cy="340.8" r="11.9"/><circle cx="1759.3" cy="345.6" r="11.9"/><circle cx="1788.0" cy="342.4" r="11.9"/><circle cx="1829.4" cy="339.2" r="11.9"/><circle cx="1730.6" cy="331.3" r="11.9"/><circle cx="1751.4" cy="329.7" r="11.9"/><circle cx="1759.3" cy="320.1" r="11.9"/><circle cx="1775.3" cy="345.6" r="11.9"/><circle cx="1773.7" cy="332.8" r="11.9"/><circle cx="1714.7" cy="332.8" r="11.9"/></g>
<g fill="#ff0028"><circle cx="1765.7" cy="336.0" r="11.9"/><circle cx="1789.6" cy="331.3" r="11.9"/><circle cx="1805.5" cy="334.4" r="11.9"/><circle cx="1823.0" cy="331.3" r="11.9"/><circle cx="1839.0" cy="339.2" r="11.9"/><circle cx="1842.2" cy="321.7" r="11.9"/><circle cx="1859.7" cy="332.8" r="11.9"/><circle cx="1853.3" cy="323.3" r="11.9"/><circle cx="1831.0" cy="324.9" r="11.9"/></g>
<g fill="#ff00bf"><circle cx="1812.7" cy="332.8" r="11.9"/><circle cx="1875.6" cy="321.7" r="11.9"/><circle cx="1894.7" cy="318.5" r="11.9"/><circle cx="1896.3" cy="334.4" r="11.9"/></g>
<g fill="#00ff25"><circle cx="1883.6" cy="352.0" r="11.9"/><circle cx="1883.6" cy="367.9" r="11.9"/><circle cx="1896.3" cy="361.5" r="11.9"/></g>
<g fill="#ff00bf"><circle cx="1984.0" cy="158.3" r="11.9"/></g>
<g fill="#ff0028"><circle cx="1895.9" cy="202.6" r="11.9"/></g>
<g fill="#ff00bf"><circle cx="1895.1" cy="218.5" r="11.9"/><circle cx="1911.9" cy="201.0" r="11.9"/><circle cx="1924.6" cy="197.8" r="11.9"/><circle cx="1905.5" cy="210.5" r="11.9"/></g>
<g fill="#ff0028"><circle cx="1940.5" cy="197.8" r="11.9"/></g>
<g fill="#ff00bf"><circle cx="1948.5" cy="193.0" r="11.9"/><circle cx="1959.7" cy="197.8" r="11.9"/><circle cx="1943.7" cy="202.6" r="11.9"/><circle cx="1956.5" cy="207.4" r="11.9"/><circle cx="1972.4" cy="207.4" r="11.9"/><circle cx="1978.8" cy="216.9" r="11.9"/><circle cx="1991.5" cy="197.8" r="11.9"/><circle cx="1932.6" cy="205.8" r="11.9"/></g>
<g fill="#00ff25"><circle cx="1913.5" cy="220.1" r="11.9"/><circle cx="1932.6" cy="216.9" r="11.9"/><circle cx="1942.1" cy="229.7" r="11.9"/></g>
<g fill="#ff0028"><circle cx="1913.5" cy="226.5" r="11.9"/><circle cx="1919.8" cy="226.5" r="11.9"/></g>
<g fill="#7b00ff"><circle cx="1966.0" cy="221.7" r="11.9"/></g>
<g fill="#ff0028"><circle cx="1954.9" cy="231.3" r="11.9"/><circle cx="1969.2" cy="229.7" r="11.9"/><circle cx="1978.8" cy="236.0" r="11.9"/><circle cx="1996.3" cy="229.7" r="11.9"/><circle cx="1988.3" cy="224.9" r="11.9"/></g>
<g fill="#ff00bf"><circle cx="1975.6" cy="240.8" r="11.9"/><circle cx="2001.1" cy="224.9" r="11.9"/></g>
<g fill="#00ff25"><circle cx="2011.4" cy="202.6" r="11.9"/><circle cx="2039.3" cy="201.0" r="11.9"/><circle cx="2056.8" cy="199.4" r="11.9"/><circle cx="2064.8" cy="231.3" r="11.9"/></g>
<g fill="#004dff"><circle cx="2004.3" cy="205.8" r="11.9"/><circle cx="2012.2" cy="212.1" r="11.9"/><circle cx="2044.1" cy="213.7" r="11.9"/><circle cx="2074.4" cy="202.6" r="11.9"/><circle cx="2077.6" cy="210.5" r="11.9"/><circle cx="2031.4" cy="229.7" r="11.9"/></g>
<g fill="#ff00bf"><circle cx="2031.4" cy="207.4" r="11.9"/><circle cx="2032.9" cy="216.9" r="11.9"/><circle cx="2023.4" cy="239.2" r="11.9"/><circle cx="2039.3" cy="236.0" r="11.9"/></g>
<g fill="#ff0028"><circle cx="2019.7" cy="224.1" r="11.9"/></g>
<g fill="#ff00bf"><circle cx="2062.4" cy="210.5" r="11.9"/><circle cx="2056.8" cy="224.9" r="11.9"/><circle cx="2053.7" cy="236.0" r="11.9"/><circle cx="2084.7" cy="224.1" r="11.9"/></g>
<g fill="#00ff25"><circle cx="2090.3" cy="197.8" r="11.9"/><circle cx="2106.2" cy="189.0" r="11.9"/></g>
<g fill="#004dff"><circle cx="2103.0" cy="201.0" r="11.9"/></g>
<g fill="#00ffec"><circle cx="2123.8" cy="188.2" r="11.9"/></g>
<g fill="#004dff"><circle cx="2125.4" cy="196.2" r="11.9"/><circle cx="2115.8" cy="193.8" r="11.9"/></g>
<g fill="#00ff25"><circle cx="2149.3" cy="189.0" r="11.9"/><circle cx="2180.0" cy="192.2" r="11.9"/></g>
<g fill="#00ffec"><circle cx="2029.8" cy="279.0" r="11.9"/><circle cx="2018.6" cy="288.6" r="11.9"/><circle cx="2052.1" cy="277.5" r="11.9"/><circle cx="2068.0" cy="282.2" r="11.9"/><circle cx="2077.6" cy="288.6" r="11.9"/><circle cx="2114.2" cy="288.6" r="11.9"/><circle cx="2136.5" cy="283.8" r="11.9"/><circle cx="2157.2" cy="275.9" r="11.9"/></g>
<g fill="#ff9900"><circle cx="2090.3" cy="279.0" r="11.9"/><circle cx="2107.8" cy="274.3" r="11.9"/><circle cx="2079.2" cy="285.4" r="11.9"/><circle cx="2134.9" cy="269.5" r="11.9"/><circle cx="2144.5" cy="271.1" r="11.9"/><circle cx="2141.3" cy="282.2" r="11.9"/><circle cx="2144.5" cy="302.9" r="11.9"/><circle cx="2085.8" cy="317.3" r="11.9"/></g>
<g fill="#ff00bf"><circle cx="2149.3" cy="314.1" r="11.9"/></g>
<g fill="#ff9900"><circle cx="2158.8" cy="285.4" r="11.9"/><circle cx="2158.8" cy="307.7" r="11.9"/></g>
<g fill="#00ffec"><circle cx="2163.6" cy="320.5" r="11.9"/><circle cx="2174.7" cy="275.9" r="11.9"/><circle cx="2180.0" cy="306.1" r="11.9"/></g>
<g fill="#ff00bf"><circle cx="2176.3" cy="293.4" r="11.9"/><circle cx="2127.7" cy="276.3" r="11.9"/><circle cx="2055.3" cy="252.0" r="11.9"/><circle cx="2068.0" cy="248.8" r="11.9"/><circle cx="2079.2" cy="245.6" r="11.9"/><circle cx="2091.9" cy="247.2" r="11.9"/><circle cx="2103.0" cy="252.0" r="11.9"/><circle cx="2119.0" cy="252.0" r="11.9"/><circle cx="2063.2" cy="261.5" r="11.9"/><circle cx="2079.2" cy="259.9" r="11.9"/><circle cx="2095.1" cy="258.3" r="11.9"/><circle cx="2071.2" cy="267.9" r="11.9"/><circle cx="2112.6" cy="259.9" r="11.9"/><circle cx="2025.3" cy="259.1" r="11.9"/><circle cx="2005.1" cy="275.9" r="11.9"/></g>
<g fill="#9cff00"><circle cx="2002.7" cy="305.0" r="11.9"/></g>
<g fill="#00ffec"><circle cx="1890.4" cy="271.1" r="11.9"/></g>
<g fill="#7b00ff"><circle cx="1880.0" cy="277.5" r="11.9"/></g>
<g fill="#ff0028"><circle cx="1888.0" cy="283.8" r="11.9"/><circle cx="1883.2" cy="293.4" r="11.9"/></g>
<g fill="#004dff"><circle cx="1927.8" cy="279.0" r="11.9"/></g>
<g fill="#ff00bf"><circle cx="1918.2" cy="287.0" r="11.9"/><circle cx="1908.7" cy="293.4" r="11.9"/></g>
<g fill="#004dff"><circle cx="1935.0" cy="284.6" r="11.9"/></g>
<g fill="#00ffec"><circle cx="1966.0" cy="288.6" r="11.9"/></g>
<g fill="#ff0028"><circle cx="1940.5" cy="301.4" r="11.9"/><circle cx="1907.1" cy="306.1" r="11.9"/><circle cx="1943.7" cy="328.4" r="11.9"/></g>
<g fill="#004dff"><circle cx="1905.5" cy="315.7" r="11.9"/><circle cx="1911.9" cy="341.2" r="11.9"/><circle cx="1934.2" cy="342.8" r="11.9"/></g>
<g fill="#00ff25"><circle cx="1927.8" cy="338.0" r="11.9"/><circle cx="1884.8" cy="346.0" r="11.9"/></g>
<g fill="#9cff00"><circle cx="1931.8" cy="310.1" r="11.9"/><circle cx="1958.1" cy="310.9" r="11.9"/></g>
<g fill="#ff00bf"><circle cx="1895.9" cy="322.1" r="11.9"/><circle cx="1900.7" cy="334.8" r="11.9"/><circle cx="1919.8" cy="328.4" r="11.9"/><circle cx="1886.4" cy="309.3" r="11.9"/></g>
<g fill="#004dff"><circle cx="1934.2" cy="325.3" r="11.9"/></g>
<g fill="#ff9900"><circle cx="1996.3" cy="333.2" r="11.9"/></g>
<g fill="#7b00ff"><circle cx="1988.3" cy="326.8" r="11.9"/><circle cx="1978.8" cy="341.2" r="11.9"/></g>
<g fill="#9cff00"><circle cx="1959.7" cy="330.0" r="11.9"/><circle cx="1970.8" cy="333.2" r="11.9"/></g>
<g fill="#00ff25"><circle cx="2181.5" cy="192.6" r="11.9"/></g>
<g fill="#ff9900"><circle cx="2180.7" cy="327.7" r="11.9"/><circle cx="2222.1" cy="268.8" r="11.9"/><circle cx="2268.3" cy="272.0" r="11.9"/><circle cx="2292.2" cy="342.1" r="11.9"/></g>
<g fill="#00ffec"><circle cx="2160.0" cy="272.0" r="11.9"/><circle cx="2174.3" cy="275.2" r="11.9"/><circle cx="2185.5" cy="308.6" r="11.9"/><circle cx="2163.2" cy="318.2" r="11.9"/><circle cx="2214.2" cy="322.9" r="11.9"/><circle cx="2309.8" cy="332.5" r="11.9"/><circle cx="2269.9" cy="348.4" r="11.9"/></g>
<g fill="#ff00bf"><circle cx="2175.9" cy="291.1" r="11.9"/><circle cx="2199.8" cy="291.1" r="11.9"/><circle cx="2212.6" cy="279.9" r="11.9"/><circle cx="2215.8" cy="302.2" r="11.9"/><circle cx="2194.3" cy="317.4" r="11.9"/><circle cx="2209.1" cy="332.5" r="11.9"/></g>
<g fill="#ff0028"><circle cx="2195.8" cy="273.6" r="11.9"/></g>
<g fill="#9cff00"><circle cx="2230.1" cy="273.6" r="11.9"/></g>
<g fill="#ff9900"><circle cx="2219.3" cy="284.7" r="11.9"/></g>
<g fill="#7b00ff"><circle cx="2292.2" cy="262.4" r="11.9"/><circle cx="2234.9" cy="300.6" r="11.9"/><circle cx="2295.4" cy="305.4" r="11.9"/></g>
<g fill="#ff00bf"><circle cx="2255.6" cy="265.6" r="11.9"/><circle cx="2265.2" cy="284.7" r="11.9"/><circle cx="2242.8" cy="291.1" r="11.9"/><circle cx="2255.6" cy="295.9" r="11.9"/></g>
<g fill="#9cff00"><circle cx="2226.9" cy="300.6" r="11.9"/><circle cx="2242.8" cy="305.4" r="11.9"/><circle cx="2258.8" cy="302.2" r="11.9"/><circle cx="2305.0" cy="268.8" r="11.9"/><circle cx="2301.8" cy="281.5" r="11.9"/></g>
<g fill="#7b00ff"><circle cx="2240.5" cy="274.4" r="11.9"/><circle cx="2254.0" cy="272.0" r="11.9"/><circle cx="2266.7" cy="267.2" r="11.9"/><circle cx="2281.9" cy="270.4" r="11.9"/><circle cx="2271.5" cy="299.0" r="11.9"/><circle cx="2276.0" cy="288.7" r="11.9"/><circle cx="2306.6" cy="272.0" r="11.9"/><circle cx="2321.7" cy="275.2" r="11.9"/></g>
<g fill="#ff0028"><circle cx="2284.3" cy="297.5" r="11.9"/><circle cx="2335.3" cy="275.2" r="11.9"/><circle cx="2346.4" cy="284.7" r="11.9"/><circle cx="2362.3" cy="294.3" r="11.9"/><circle cx="2319.3" cy="294.3" r="11.9"/><circle cx="2351.2" cy="294.3" r="11.9"/></g>
<g fill="#7b00ff"><circle cx="2341.6" cy="267.2" r="11.9"/><circle cx="2351.2" cy="272.0" r="11.9"/><circle cx="2365.5" cy="276.7" r="11.9"/></g>
<g fill="#ff00bf"><circle cx="2367.1" cy="272.0" r="11.9"/><circle cx="2378.3" cy="284.7" r="11.9"/></g>
<g fill="#ff0028"><circle cx="2378.3" cy="272.0" r="11.9"/><circle cx="2389.4" cy="272.0" r="11.9"/><circle cx="2382.3" cy="287.9" r="11.9"/></g>
<g fill="#ff00bf"><circle cx="2399.0" cy="275.2" r="11.9"/><circle cx="2397.4" cy="284.7" r="11.9"/><circle cx="2299.7" cy="292.7" r="11.9"/><circle cx="2329.7" cy="297.5" r="11.9"/></g>
<g fill="#9cff00"><circle cx="2284.3" cy="316.6" r="11.9"/></g>
<g fill="#ff0028"><circle cx="2303.4" cy="318.2" r="11.9"/><circle cx="2309.8" cy="322.9" r="11.9"/><circle cx="2312.9" cy="307.0" r="11.9"/><circle cx="2319.3" cy="313.4" r="11.9"/></g>
<g fill="#ff00bf"><circle cx="2335.3" cy="319.8" r="11.9"/><circle cx="2348.0" cy="313.4" r="11.9"/><circle cx="2336.8" cy="327.7" r="11.9"/><circle cx="2367.1" cy="319.8" r="11.9"/></g>
<g fill="#ff0028"><circle cx="2363.9" cy="329.3" r="11.9"/><circle cx="2376.7" cy="330.9" r="11.9"/><circle cx="2389.4" cy="322.9" r="11.9"/><circle cx="2399.0" cy="321.4" r="11.9"/></g>
<g fill="#ff00bf"><circle cx="2405.4" cy="327.7" r="11.9"/><circle cx="2395.0" cy="333.3" r="11.9"/></g>
<g fill="#00ffec"><circle cx="2239.7" cy="338.1" r="11.9"/><circle cx="2258.8" cy="336.5" r="11.9"/></g>
<g fill="#ff00bf"><circle cx="2277.9" cy="338.9" r="11.9"/><circle cx="2290.6" cy="342.1" r="11.9"/><circle cx="2268.3" cy="353.2" r="11.9"/><circle cx="2312.9" cy="344.5" r="11.9"/><circle cx="2303.4" cy="348.4" r="11.9"/></g>
<g fill="#004dff"><circle cx="1852.3" cy="341.0" r="11.9"/><circle cx="1866.6" cy="350.5" r="11.9"/><circle cx="1877.8" cy="337.8" r="11.9"/><circle cx="1908.1" cy="344.2" r="11.9"/><circle cx="1933.6" cy="341.0" r="11.9"/><circle cx="1906.5" cy="317.1" r="11.9"/></g>
<g fill="#ff0028"><circle cx="1906.5" cy="353.7" r="11.9"/><circle cx="1858.7" cy="333.0" r="11.9"/><circle cx="1842.7" cy="321.9" r="11.9"/><circle cx="1839.6" cy="337.8" r="11.9"/><circle cx="1853.9" cy="321.9" r="11.9"/><circle cx="1908.1" cy="304.3" r="11.9"/><circle cx="1890.5" cy="307.5" r="11.9"/><circle cx="1941.5" cy="299.6" r="11.9"/><circle cx="1944.7" cy="328.2" r="11.9"/></g>
<g fill="#00ff25"><circle cx="1929.6" cy="337.2" r="11.9"/><circle cx="1940.7" cy="335.6" r="11.9"/></g>
<g fill="#ff00bf"><circle cx="1833.2" cy="337.8" r="11.9"/><circle cx="1876.2" cy="321.9" r="11.9"/><circle cx="1893.7" cy="318.7" r="11.9"/><circle cx="1898.5" cy="334.6" r="11.9"/><circle cx="1919.2" cy="328.2" r="11.9"/></g>
<g fill="#9cff00"><circle cx="1932.0" cy="309.1" r="11.9"/></g>
<g fill="#004dff"><circle cx="1934.4" cy="325.1" r="11.9"/></g>
<g fill="#00ff25"><circle cx="1884.2" cy="350.5" r="11.9"/><circle cx="1882.6" cy="363.3" r="11.9"/><circle cx="1893.7" cy="368.1" r="11.9"/><circle cx="1885.8" cy="356.9" r="11.9"/></g>
<g fill="#ff9900"><circle cx="1995.7" cy="333.0" r="11.9"/><circle cx="1965.4" cy="341.0" r="11.9"/></g>
<g fill="#7b00ff"><circle cx="1975.0" cy="325.1" r="11.9"/><circle cx="1987.7" cy="327.4" r="11.9"/><circle cx="1979.0" cy="342.6" r="11.9"/></g>
<g fill="#9cff00"><circle cx="1958.3" cy="311.5" r="11.9"/><circle cx="1959.0" cy="326.6" r="11.9"/><circle cx="1971.8" cy="333.0" r="11.9"/><circle cx="1962.2" cy="337.8" r="11.9"/><circle cx="2002.9" cy="305.1" r="11.9"/></g>
<g fill="#ff9900"><circle cx="2086.0" cy="317.4" r="11.9"/></g>
<g fill="#00ff25"><circle cx="1887.8" cy="408.2" r="11.9"/></g>
<g fill="#004dff"><circle cx="1876.2" cy="425.4" r="11.9"/><circle cx="1881.0" cy="442.9" r="11.9"/></g>
<g fill="#00ff25"><circle cx="1890.5" cy="433.4" r="11.9"/><circle cx="1901.7" cy="435.0" r="11.9"/><circle cx="1896.1" cy="445.3" r="11.9"/><circle cx="1888.9" cy="427.0" r="11.9"/></g>
<g fill="#9cff00"><circle cx="1980.2" cy="52.0" r="11.9"/></g>
<g fill="#004dff"><circle cx="1990.3" cy="53.5" r="11.9"/><circle cx="1999.8" cy="43.5" r="11.9"/></g>
<g fill="#ff00bf"><circle cx="1997.2" cy="58.9" r="11.9"/></g>
<g fill="#004dff"><circle cx="2009.9" cy="65.8" r="11.9"/></g>
<g fill="#ff00bf"><circle cx="2006.2" cy="80.1" r="11.9"/></g>
<g fill="#004dff"><circle cx="1994.5" cy="79.0" r="11.9"/><circle cx="1986.0" cy="89.7" r="11.9"/><circle cx="1995.6" cy="95.0" r="11.9"/></g>
<g fill="#ff00bf"><circle cx="2006.0" cy="96.0" r="11.9"/></g>
<g fill="#00ff25"><circle cx="2111.8" cy="594.8" r="11.9"/></g>
<g fill="#00ffec"><circle cx="2104.6" cy="611.8" r="11.9"/></g>
<g fill="#004dff"><circle cx="2080.8" cy="601.6" r="11.9"/><circle cx="2086.3" cy="610.1" r="11.9"/><circle cx="2096.1" cy="608.4" r="11.9"/><circle cx="2105.4" cy="611.0" r="11.9"/><circle cx="2110.5" cy="600.8" r="11.9"/><circle cx="2120.7" cy="607.6" r="11.9"/><circle cx="2125.0" cy="599.9" r="11.9"/><circle cx="2129.2" cy="611.0" r="11.9"/><circle cx="2133.5" cy="601.6" r="11.9"/><circle cx="2147.9" cy="600.4" r="11.9"/></g></g>
<g id="pc"><path d="M303.5 961.2L337.9 950.9M303.5 961.2L340.3 955.7M303.5 961.2L321.2 966.5M303.5 961.2L326.0 968.9M303.5 961.2L345.1 961.7M371.4 978.4L376.1 973.6M196.9 959.3L194.5 961.7M218.4 947.4L223.2 943.8M523.8 995.2L557.8 1009.5M523.8 995.2L580.0 1014.3M523.8 995.2L580.0 1019.0M523.8 995.2L536.3 1019.0M514.9 1035.9L546.1 1031.6M521.8 1033.0L543.9 1035.5M514.2 1030.0L547.5 1032.9M526.9 1029.8L540.0 1035.0M516.7 1036.6L548.7 1030.0M512.9 1033.7L549.4 1032.5M516.5 1032.8L532.0 1031.4M520.7 1033.4L535.9 1031.5M516.6 1033.1L537.0 1030.0M528.4 1033.8L543.8 1031.1M464.6 1033.4L521.9 1057.3M476.5 1038.2L580.0 1057.3M502.8 1040.6L521.9 1054.9M502.8 1035.8L580.0 1047.7M512.4 1042.9L560.2 1054.9M536.3 1062.1L560.2 1057.3M536.3 1023.8L580.0 1028.6M548.2 1019.0L580.0 1023.8M130.0 1188.7L173.0 1181.6M248.9 1152.3L350.7 1148.4M247.1 1151.6L359.5 1149.3M243.8 1151.3L358.2 1148.7M241.3 1150.7L360.2 1151.9M248.8 1151.1L356.2 1149.1M235.7 1149.6L356.5 1149.3M240.6 1152.1L357.4 1150.2M250.5 1154.2L276.9 1155.6M256.1 1152.8L273.5 1156.2M250.8 1153.3L282.9 1155.2M259.1 1154.0L279.5 1154.3M256.2 1155.1L278.4 1156.0M256.7 1152.8L280.6 1155.5M333.0 1152.9L351.3 1151.9M331.4 1153.8L356.2 1153.7M338.1 1153.3L352.6 1152.2M332.4 1152.9L349.5 1154.1M338.7 1155.0L355.1 1152.0M261.4 1188.7L321.2 1172.0M488.5 1138.5L502.8 1148.1M567.3 1160.0L580.0 1156.5M225.6 1176.8L254.3 1186.3M760.4 927.0L759.7 970.4M765.4 927.9L741.4 963.6M774.2 926.6L762.3 958.5M753.8 924.6L753.7 965.1M734.1 924.5L747.4 970.1M766.5 924.2L759.8 958.9M760.1 924.1L740.8 969.4M742.6 924.5L764.2 969.4M746.0 928.1L753.6 966.6M742.4 928.0L757.2 970.8M772.0 924.9L749.4 959.3M739.8 923.8L747.9 965.6M733.7 926.7L748.8 961.4M768.8 925.8L748.3 963.8M763.9 923.7L764.0 957.2M765.8 927.5L741.2 968.2M749.3 926.2L741.0 957.6M741.4 928.0L745.4 967.8M773.6 928.0L749.0 962.0M756.1 927.2L743.3 967.6M767.9 927.6L741.6 970.5M737.5 925.1L755.3 970.1M740.7 971.3L714.0 1046.5M742.7 972.4L715.7 1045.3M747.9 988.0L717.3 1047.7M757.5 988.0L721.6 1045.3M540.0 1004.6L712.0 1045.6M540.0 1003.5L712.0 1047.5M540.0 1004.3L711.5 1047.7M540.0 1001.7L712.2 1047.2M540.0 1002.7L712.8 1045.6M540.0 1003.7L712.9 1045.9M574.2 1017.7L712.4 1044.9M576.2 1019.3L711.0 1046.6M571.4 1019.8L711.0 1045.0M575.1 1022.6L711.2 1045.5M577.1 1023.5L712.3 1046.1M540.0 1060.4L696.8 1065.4M540.0 1051.9L698.9 1063.1M540.0 1054.4L697.6 1064.4M540.0 1058.8L696.7 1063.2M540.0 1052.1L697.5 1066.4M540.0 1050.3L697.1 1066.8M730.7 1049.2L901.6 1081.7M724.1 1050.1L945.2 1070.4M732.0 1051.0L896.0 1074.7M734.1 1049.8L935.3 1071.5M727.4 1047.3L922.7 1082.5M732.5 1052.1L915.7 1079.9M725.5 1048.6L932.4 1079.6M730.1 1047.2L909.0 1072.2M728.0 1052.3L905.1 1081.9M736.6 1046.9L915.4 1076.3M724.4 1049.6L945.7 1070.8M732.6 1047.4L926.9 1082.1M722.0 1063.0L852.9 1084.1M723.1 1064.5L855.1 1083.5M721.7 1062.6L843.5 1094.8M724.0 1061.5L861.0 1089.8M721.1 1062.4L855.7 1087.7M809.8 1077.9L870.0 1087.7M810.1 1078.0L848.8 1088.6M810.7 1079.0L846.2 1084.6M808.1 1079.1L863.4 1079.6M812.4 1079.8L862.3 1090.6M808.4 1075.3L858.7 1079.9M808.6 1076.4L844.4 1087.7M809.8 1079.2L858.4 1091.0M810.0 1078.4L856.6 1084.1M812.4 1080.0L867.6 1092.3M812.4 1081.2L845.9 1100.3M874.6 1109.9L908.0 1102.7M912.8 1042.9L990.0 1062.1M941.1 1093.9L957.4 1091.4M934.5 1092.5L953.7 1094.6M944.2 1093.6L956.4 1093.9M936.4 1092.8L952.6 1095.1M935.2 1094.7L951.8 1094.0M939.1 1092.7L959.1 1090.8M935.2 1095.1L955.9 1091.2M948.5 1095.3L952.1 1092.8M704.9 1076.4L647.5 1155.3M708.5 1078.8L707.3 1138.5M710.2 1078.8L718.0 1143.3M571.1 1160.0L597.4 1151.7M618.9 1152.9L695.3 1149.3M728.8 1160.0L783.8 1189.9M730.0 1157.7L786.1 1187.5M721.6 1169.6L743.1 1189.9M628.7 1174.7L704.3 1156.2M626.6 1168.1L699.1 1150.3M642.3 1166.7L702.8 1150.1M629.7 1171.0L705.7 1153.9M621.7 1168.8L699.1 1156.4M644.5 1176.4L705.6 1155.2M648.5 1176.2L700.2 1156.2M635.2 1175.7L703.1 1152.2M580.3 1163.9L621.0 1163.2M583.4 1160.7L622.2 1161.2M584.0 1163.8L617.4 1162.0M580.5 1160.5L624.6 1159.0M583.2 1164.6L620.8 1157.5M588.8 1163.6L614.1 1161.1M988.8 1034.8L1021.1 1066.6M991.2 1038.4L1023.4 1067.6M979.2 1059.9L1022.3 1067.1M1103.5 1128.0L1120.2 1129.2M1103.5 1129.7L1120.2 1130.9M1058.1 1074.3L1070.0 1080.2M800.0 1054.7L903.8 1067.5M800.0 1054.8L905.8 1070.5M800.0 1060.4L896.6 1068.6M800.0 1056.3L897.0 1067.9M800.0 1059.7L904.6 1067.9M800.0 1057.6L896.5 1069.2M800.0 1055.1L901.3 1068.7M800.0 1060.0L902.5 1068.9M800.0 1080.1L894.0 1085.6M800.0 1081.8L891.0 1087.8M800.0 1078.4L892.4 1081.9M800.0 1078.4L901.1 1091.7M800.0 1084.0L901.5 1088.2M800.0 1079.8L898.0 1083.8M800.0 1078.4L891.0 1089.7M800.0 1079.5L898.3 1091.6M800.0 1075.9L904.7 1090.2M800.0 1080.5L890.5 1082.1M800.0 1079.9L887.3 1088.6M800.0 1075.6L902.1 1086.1M814.3 1083.8L843.0 1099.4M938.8 1095.8L956.2 1091.4M940.5 1095.4L954.1 1090.7M935.2 1094.1L954.7 1091.2M938.6 1093.9L955.4 1093.9M937.9 1096.5L949.8 1093.4M941.3 1093.2L954.4 1092.4M941.9 1093.5L953.2 1093.7M939.6 1093.9L949.9 1093.9M800.0 1204.9L836.7 1204.7M800.0 1203.3L838.0 1206.6M800.0 1201.0L840.1 1205.6M800.0 1206.1L841.7 1210.1M800.0 1200.8L840.5 1207.4M800.0 1205.0L841.8 1209.3M800.0 1225.5L828.9 1225.0M800.0 1229.5L826.7 1219.8M800.0 1215.5L827.0 1221.5M800.0 1216.7L826.9 1225.8M800.0 1211.8L825.8 1225.4M800.0 1224.5L831.6 1223.6M800.0 1224.4L831.1 1223.3M800.0 1216.2L832.6 1229.6M863.6 1246.2L886.2 1249.5M857.4 1245.9L887.5 1249.3M860.4 1243.2L882.8 1249.9M856.0 1244.1L887.9 1247.3M857.0 1244.1L887.5 1246.7M859.1 1245.9L886.6 1247.5M855.7 1245.6L879.2 1245.6M856.8 1246.3L881.6 1248.4M126.2 1200.4L159.5 1206.2M126.4 1201.6L160.3 1206.6M127.8 1195.0L156.5 1204.9M128.2 1193.0L160.3 1203.3M126.5 1192.6L161.2 1209.3M129.6 1199.5L156.6 1204.4M127.8 1193.5L161.0 1204.9M126.1 1201.9L157.1 1211.6M127.6 1198.7L158.1 1206.3M126.3 1192.6L160.6 1203.3M123.0 1186.2L175.6 1181.4M232.9 1179.0L319.0 1169.4M268.8 1186.2L321.4 1171.8M383.5 1186.2L402.6 1216.0M402.6 1216.0L419.4 1219.6M388.3 1187.4L400.2 1201.7M279.5 1198.6L391.2 1247.1M257.3 1198.0L406.2 1228.3M277.6 1201.2L413.6 1227.6M269.3 1221.3L407.1 1244.9M272.4 1195.9L411.7 1235.3M261.0 1200.0L411.0 1235.1M279.0 1216.7L413.6 1234.7M272.1 1212.1L396.8 1245.9M261.0 1216.9L413.5 1237.1M256.1 1218.2L406.6 1223.7M253.5 1209.8L391.4 1245.0M266.6 1209.4L400.5 1237.4M278.3 1203.3L399.6 1235.1M260.6 1211.6L403.7 1230.9M271.4 1209.7L392.8 1247.0M262.3 1206.9L400.3 1245.1M279.4 1209.2L400.2 1221.2M277.7 1199.4L403.7 1228.4M261.5 1204.8L395.2 1219.5M267.4 1217.3L406.1 1224.2M272.0 1196.0L400.5 1242.2M278.5 1207.7L410.9 1232.7M267.1 1211.3L414.4 1239.7M265.6 1215.4L406.0 1228.6M274.6 1218.0L405.2 1245.5M252.6 1208.9L405.8 1228.2M198.4 1205.7L269.1 1200.5M193.6 1198.2L262.2 1201.2M187.9 1198.5L256.3 1205.8M185.5 1193.4L265.6 1205.3M192.5 1202.7L258.9 1200.1M196.4 1200.6L264.6 1208.2M199.1 1197.3L266.6 1204.6M193.4 1201.6L258.1 1200.5M191.9 1202.4L263.4 1205.7M194.4 1194.7L255.5 1203.9M342.9 1273.4L309.4 1297.3M339.3 1274.6L321.4 1287.7M350.0 1278.2L351.2 1302.1M359.6 1273.4L373.9 1287.7M364.4 1254.3L370.4 1254.3M362.0 1251.9L371.6 1256.7M346.3 1299.7L372.4 1288.9M343.8 1298.5L372.0 1287.8M343.6 1298.8L375.0 1287.8M345.0 1299.9L376.3 1284.7M345.3 1300.6L375.1 1286.3M356.3 1312.1L401.1 1306.5M359.9 1309.3L393.5 1313.6M355.5 1306.2L397.1 1310.1M354.5 1309.8L401.0 1309.4M359.3 1309.2L400.9 1306.2M356.2 1307.7L394.1 1313.8M358.2 1304.2L398.6 1308.4M355.0 1304.8L397.5 1305.1M357.7 1308.2L394.3 1312.8M353.9 1304.9L400.9 1306.6M390.7 1294.9L400.2 1282.9M354.8 1345.1L366.8 1340.3M354.8 1348.7L366.8 1345.1M517.3 1359.4L530.0 1361.3M426.5 1304.7L435.7 1295.6M419.9 1308.8L441.0 1291.6M425.9 1306.9L439.8 1298.1M428.8 1306.2L441.8 1296.9M428.6 1303.5L442.7 1292.9M473.3 1301.6L497.8 1292.0M467.8 1302.8L491.8 1293.7M474.9 1296.6L497.4 1294.8M467.8 1303.7L494.1 1290.9M475.2 1302.3L495.7 1296.4M476.6 1295.0L498.0 1296.3M469.6 1300.8L491.9 1296.3M473.9 1299.9L489.6 1293.9M470.0 1302.1L497.6 1297.5M472.2 1296.5L495.4 1292.7M435.6 1427.5L395.5 1395.3M435.6 1427.5L405.0 1397.7M435.6 1427.5L414.6 1395.3M435.6 1427.5L424.1 1390.5M435.6 1427.5L433.7 1390.5M435.6 1427.5L448.0 1395.3M435.6 1427.5L400.2 1396.5M435.6 1427.5L419.4 1392.9M435.6 1427.5L443.3 1397.7M434.8 1367.8L463.8 1344.4M435.0 1371.0L461.2 1344.7M437.4 1374.6L457.1 1344.5M434.0 1368.9L456.6 1352.1M436.7 1376.0L457.1 1351.3M438.5 1373.2L464.7 1345.3M435.9 1373.1L457.1 1342.8M441.1 1372.6L458.9 1347.7M442.4 1369.3L457.0 1346.7M435.3 1370.1L455.7 1350.0M463.1 1358.7L497.5 1356.0M462.5 1358.7L495.4 1359.3M456.7 1359.2L494.5 1356.3M469.5 1358.6L496.3 1356.6M465.7 1359.2L494.3 1356.7M474.3 1333.1L495.8 1352.3M476.7 1337.9L495.8 1354.6M452.8 1357.0L452.8 1378.5M460.0 1359.4L455.2 1378.5M569.4 1156.4L696.6 1154.1M573.0 1156.4L694.3 1155.2M573.3 1163.9L700.4 1146.3M584.4 1160.4L696.8 1158.6M571.7 1155.3L704.4 1150.1M574.7 1159.0L696.2 1158.0M575.1 1157.7L699.3 1152.2M596.4 1165.1L696.0 1147.3M593.0 1166.9L691.4 1154.9M594.0 1162.9L694.1 1155.8M647.9 1152.7L664.6 1130.0M707.7 1130.0L707.7 1139.6M714.8 1130.0L717.2 1139.6M726.8 1158.7L784.1 1189.7M729.2 1162.3L786.5 1192.1M722.0 1168.2L743.5 1192.1M700.5 1163.5L702.9 1201.7M765.8 1202.5L889.1 1207.4M769.8 1207.4L888.1 1201.8M773.1 1205.5L892.1 1207.2M768.6 1200.5L891.2 1196.3M765.1 1207.5L891.6 1206.5M774.1 1202.4L888.0 1196.3M774.4 1201.6L888.4 1194.8M765.5 1200.9L889.3 1196.9M768.0 1209.4L888.4 1206.2M772.1 1205.9L890.4 1205.6M770.6 1202.7L889.2 1198.0M768.8 1209.9L889.6 1195.5M679.5 1269.4L891.6 1261.9M686.3 1267.3L892.1 1258.5M675.3 1264.7L890.1 1256.6M674.7 1269.7L891.3 1260.9M671.1 1264.4L888.8 1259.4M685.5 1271.5L892.1 1259.7M669.9 1275.2L738.7 1260.8M667.4 1276.7L737.0 1260.2M671.9 1276.5L734.2 1258.4M671.5 1274.0L738.7 1258.4M673.8 1269.9L738.5 1258.4M858.1 1256.3L891.1 1262.3M864.8 1254.3L888.8 1256.7M857.0 1251.5L889.8 1255.4M861.2 1248.6L890.8 1263.5M858.4 1253.0L890.9 1252.2M855.2 1247.1L890.6 1254.7M856.1 1251.0L889.6 1261.7M855.9 1248.9L889.7 1263.5M855.4 1254.4L889.8 1251.8M856.4 1247.0L891.0 1263.8M866.9 1249.2L889.4 1254.4M862.8 1243.2L891.2 1246.3M856.8 1241.4L889.2 1245.9M856.9 1244.7L891.0 1255.1M862.4 1244.2L889.2 1255.5M863.9 1239.2L890.4 1248.7M863.3 1244.3L889.2 1247.4M864.8 1247.9L889.0 1262.0M814.5 1225.0L837.8 1247.3M816.0 1233.0L838.0 1233.8M813.1 1225.3L838.5 1240.4M810.7 1230.4L839.0 1235.9M817.2 1241.8L839.9 1225.8M808.7 1228.7L835.4 1243.4M815.9 1234.0L838.0 1239.6M808.4 1233.3L834.0 1235.2M710.0 1220.8L688.5 1302.1M714.8 1223.2L690.9 1297.3M702.9 1208.9L698.1 1225.6M516.5 1359.4L860.6 1407.2M702.9 1359.4L750.7 1383.3M705.3 1363.0L753.1 1386.9M647.5 1294.6L682.2 1338.9M648.4 1294.3L680.5 1340.4M643.3 1293.8L676.5 1348.3M645.1 1297.1L680.2 1341.1M647.1 1295.0L673.8 1345.5M638.5 1294.3L679.5 1347.8M652.1 1295.4L672.2 1344.7M641.9 1296.1L684.6 1339.2M676.9 1320.4L684.0 1344.3M679.4 1322.2L684.4 1344.1M676.7 1323.4L684.7 1347.8M675.9 1317.7L685.6 1344.5M680.8 1323.8L686.2 1343.6M680.5 1320.9L684.4 1343.8M709.8 1388.7L728.2 1390.6M713.4 1387.7L728.9 1391.0M712.8 1386.6L728.2 1393.6M707.4 1387.6L732.4 1391.5M713.4 1385.4L732.3 1389.8M713.4 1385.2L731.6 1393.3M712.8 1385.0L734.3 1393.3M708.7 1388.1L729.6 1390.0M474.1 1293.4L494.2 1298.4M477.0 1300.0L497.9 1290.8M479.2 1298.4L500.0 1294.8M480.7 1296.4L494.1 1287.5M479.0 1292.5L498.8 1294.2M469.5 1301.4L492.9 1297.8M480.7 1293.2L499.5 1295.8M470.5 1299.7L493.8 1298.4M440.0 1354.9L491.5 1354.5M440.0 1361.1L494.5 1353.9M440.0 1354.9L491.2 1355.9M440.0 1356.5L493.3 1356.1M440.0 1360.3L494.1 1353.5M440.0 1361.3L491.8 1354.2M573.8 1292.5L583.4 1282.9M573.8 1302.1L569.0 1287.7M552.3 1306.8L566.7 1314.0M554.7 1302.1L569.0 1311.6M444.8 1400.0L440.0 1416.8M454.3 1359.4L449.6 1378.5M461.5 1361.8L451.9 1378.5M540.7 1277.7L551.3 1270.6M546.8 1278.6L554.3 1271.0M540.6 1275.1L553.5 1274.4M545.6 1278.2L554.1 1267.9M548.5 1278.8L553.5 1267.1M545.3 1275.7L557.3 1271.9M545.2 1276.5L553.5 1266.7M541.0 1280.0L558.0 1269.0M580.1 1280.8L596.4 1276.6M578.4 1278.3L589.3 1275.8M577.7 1280.6L597.6 1279.1M579.8 1280.1L594.8 1277.3M576.9 1282.2L594.1 1276.3M576.9 1278.6L597.3 1276.3M582.2 1282.8L588.5 1277.6M580.8 1282.6L590.0 1277.0M515.6 1177.6L512.9 1185.8M512.7 1170.8L515.8 1183.7M516.2 1181.3L512.2 1188.5M513.6 1182.0L522.3 1184.6M523.9 1180.9L512.8 1186.5M521.7 1183.9L514.2 1185.0M865.1 1254.7L885.1 1254.6M869.7 1253.6L877.3 1256.7M855.6 1245.3L881.5 1272.4M868.8 1258.0L894.0 1270.5M871.2 1248.9L886.5 1255.0M882.4 1243.3L883.6 1264.4M872.2 1258.3L891.0 1251.6M879.1 1268.6L877.1 1254.3M865.4 1253.3L886.8 1252.0M873.6 1267.6L894.2 1269.0M861.2 1263.7L891.3 1262.1M874.3 1250.5L891.3 1251.6M870.9 1249.8L886.7 1245.9M863.9 1264.7L881.4 1265.7M877.9 1259.7L888.5 1250.6M868.9 1269.9L895.3 1260.7M867.7 1270.5L886.9 1267.8M857.3 1249.9L892.0 1260.4M877.4 1254.8L894.0 1245.7M862.6 1260.8L886.4 1264.0M868.5 1262.6L891.7 1253.7M855.6 1249.3L883.1 1273.2M882.4 1262.2L879.9 1271.1M858.6 1246.2L891.5 1254.6M866.2 1250.0L876.5 1248.2M856.9 1242.9L877.3 1249.9M869.6 1256.4L891.4 1268.0M870.1 1258.5L876.7 1246.8M878.9 1268.8L882.9 1269.6M880.1 1249.0L877.6 1248.2M962.7 1268.4L982.1 1270.2M964.6 1268.8L982.3 1269.7M964.7 1273.7L980.7 1271.6M961.2 1271.1L982.5 1269.7M961.2 1267.9L980.6 1271.0M960.9 1268.3L982.1 1270.2M967.3 1257.9L981.6 1266.2M964.9 1255.5L984.0 1267.4M800.0 1198.9L834.0 1210.1M800.0 1197.2L833.7 1210.0M800.0 1200.4L836.5 1208.9M800.0 1199.8L836.2 1208.4M800.0 1197.6L835.5 1208.3M800.0 1225.2L834.1 1231.3M800.0 1262.3L831.5 1233.8M800.0 1215.7L831.8 1250.8M800.0 1228.0L832.0 1255.7M800.0 1243.0L834.0 1244.4M800.0 1261.9L834.4 1250.8M800.0 1245.1L833.1 1230.8M800.0 1260.1L834.4 1226.7M800.0 1225.5L834.4 1238.6M800.0 1222.3L833.8 1237.0M800.0 1247.8L835.0 1251.7M800.0 1262.1L833.4 1252.9M800.0 1254.2L831.7 1242.3M800.0 1216.2L832.8 1240.5M800.0 1211.7L833.9 1237.0M800.0 1256.0L835.0 1250.1M800.0 1249.4L831.5 1227.8M800.0 1224.2L831.2 1240.5M435.7 1427.5L459.6 1439.9M435.7 1427.5L429.0 1442.3M435.7 1427.5L436.2 1444.7M435.7 1427.5L438.6 1449.5M435.7 1427.5L395.6 1396.9M435.7 1427.5L405.2 1399.3M435.7 1427.5L414.7 1396.9M435.7 1427.5L424.3 1392.1M435.7 1427.5L431.4 1392.1M435.7 1427.5L448.2 1396.9M435.7 1427.5L450.1 1399.3M795.8 1398.8L860.4 1407.7M871.6 1408.9L963.1 1416.0M871.6 1408.9L946.4 1423.2M871.6 1408.9L948.8 1425.6M871.6 1408.9L951.2 1428.0M871.6 1408.9L967.9 1425.6M871.6 1408.9L965.5 1420.8M871.6 1408.9L958.4 1418.4M871.6 1408.9L951.2 1430.4M871.6 1408.9L960.7 1417.2M681.4 1177.8L650.3 1198.1M741.1 1204.1L652.3 1181.6M800.0 1193.8L887.2 1280.6M671.8 1249.5L652.3 1181.6M708.5 1148.1L809.2 1232.8M800.0 1194.5L831.1 1220.0M716.8 1157.7L800.0 1194.5M645.9 1284.9L717.2 1156.3M628.8 1180.2L626.4 1287.7M669.4 1185.0L653.9 1273.9M843.0 1261.4L855.0 1224.8M733.5 1257.9L800.0 1193.8M794.5 1195.9L643.1 1254.3M800.0 1193.8L731.2 1188.7M722.0 1201.7L643.1 1254.3M671.8 1249.5L626.4 1287.7M633.2 1264.3L757.8 1208.9M741.1 1204.1L882.1 1225.6M719.2 1183.9L858.2 1230.4M809.6 1232.8L671.8 1249.5M794.5 1195.9L865.4 1213.6M669.4 1185.0L638.4 1268.6M886.0 1208.1L809.6 1232.0M645.9 1284.9L787.7 1249.5M843.9 1263.8L716.8 1157.7M702.5 1181.6L657.5 1262.6M787.7 1249.5L874.9 1275.8M860.6 1268.6L741.1 1204.1M708.5 1148.1L741.1 1204.1M628.8 1180.2L717.2 1156.3M757.8 1208.9L650.3 1198.1M794.9 1195.0L698.1 1185.0M683.4 1179.2L632.8 1251.9M786.5 1229.2L860.6 1268.6M722.0 1201.7L630.7 1272.9M809.6 1232.0L871.7 1232.0M650.3 1180.2L719.2 1183.9M716.8 1157.7L650.3 1273.4M882.1 1225.6L831.1 1220.0M643.1 1254.3L626.4 1287.7M835.8 1249.5L846.3 1206.5M643.1 1254.3L786.5 1229.2M700.5 1199.3L716.8 1157.7M717.2 1156.3L657.5 1262.6M836.7 1220.8L887.2 1280.6M786.5 1229.2L633.2 1264.3M809.6 1232.8L800.0 1194.5M669.0 1181.6L659.9 1259.0M628.8 1180.2L644.1 1262.6M847.8 1241.6L809.6 1232.8M757.8 1208.9L845.4 1209.3M708.5 1148.1L632.8 1251.9M847.8 1239.9L887.2 1280.6M702.5 1181.6L626.4 1287.7M887.2 1280.6L846.3 1206.5M635.6 1154.1L681.4 1177.8M800.0 1194.5L652.3 1181.6M847.8 1241.6L809.2 1232.8M655.1 1285.3L809.6 1232.8M726.8 1185.0L643.1 1254.3M534.3 1237.5L455.2 1177.6M433.4 1256.8L427.0 1186.9M472.3 1207.5L534.1 1195.8M472.3 1207.5L540.4 1201.7M488.5 1181.6L508.2 1236.0M333.3 1292.5L415.6 1225.5M442.3 1238.4L494.6 1206.6M528.8 1167.7L503.0 1205.3M413.9 1243.1L521.5 1294.9M431.5 1178.7L513.3 1205.9M464.6 1181.6L491.5 1226.0M511.7 1285.3L415.6 1225.5M499.7 1302.1L526.6 1207.3M515.6 1224.2L460.4 1209.7M484.4 1263.1L475.1 1219.3M499.7 1340.3L507.7 1265.8M507.7 1265.8L444.9 1177.4M475.8 1189.7L474.3 1266.5M430.5 1195.9L459.9 1227.3M428.5 1224.8L470.2 1186.5M465.0 1216.2L502.0 1237.7M427.2 1206.1L340.3 1172.0M473.6 1223.6L444.9 1177.4M421.7 1280.6L456.3 1233.2M540.3 1204.6L475.8 1189.7M494.6 1265.8L421.2 1214.4M474.3 1266.5L483.2 1204.9M512.4 1176.8L508.2 1236.0M456.7 1199.1L473.6 1223.6M544.2 1217.5L489.1 1178.9M407.4 1275.8L509.5 1295.2M427.2 1206.1L430.1 1274.4M523.0 1237.9L507.7 1265.8M428.5 1224.8L488.5 1181.6M465.0 1216.2L499.7 1302.1M519.5 1176.4L547.5 1285.3M475.1 1219.3L503.0 1168.5M456.3 1233.2L408.2 1234.0M352.4 1312.8L421.7 1280.6M499.7 1165.8L530.4 1179.1M235.3 1194.5L406.5 1226.3M185.0 1181.6L256.8 1187.4M184.0 1181.4L121.8 1198.1M201.7 1183.9L287.4 1199.3M184.0 1181.4L213.8 1220.8M108.7 1187.4L274.8 1225.6M185.0 1181.6L266.4 1218.4M256.8 1211.3L409.2 1214.8M235.3 1194.5L161.3 1211.3M266.4 1218.4L201.9 1218.4M287.4 1199.3L170.8 1201.7M409.8 1201.7L287.4 1199.3M220.8 1186.3L103.9 1201.7M121.8 1198.1L221.0 1189.7M404.2 1244.3L287.4 1199.3M287.4 1199.3L161.3 1211.3M307.5 1217.9L408.2 1234.0M402.6 1244.7L220.8 1186.3M406.5 1226.3L256.8 1187.4M235.3 1194.5L184.0 1181.4M402.6 1244.7L287.4 1199.3M307.5 1217.9L161.3 1211.3M383.3 1176.8L201.7 1183.9M204.3 1185.0L266.4 1218.4M383.3 1176.8L204.3 1185.0M352.4 1312.8L292.7 1312.8M421.7 1280.6L420.0 1253.2M377.5 1248.3L333.3 1302.1M415.3 1263.8L377.5 1248.3M377.5 1248.3L420.0 1253.2M319.0 1304.5L352.4 1312.8M377.5 1248.3L422.2 1275.2M411.3 1257.4L352.4 1312.8M424.9 1248.1L348.9 1265.0M380.6 1284.1L402.6 1305.7M333.3 1292.5L302.3 1303.3M412.2 1311.6L421.7 1280.6M378.7 1260.2L436.1 1318.8M402.6 1305.7L424.9 1248.1M402.6 1305.7L425.0 1265.7M378.7 1260.2L348.9 1251.9M413.9 1243.1L333.3 1292.5M424.9 1248.1L348.9 1251.9M430.1 1274.4L333.3 1302.1M348.9 1265.0L412.2 1311.6M348.9 1265.0L412.2 1311.6M348.9 1265.0L412.2 1311.6M402.6 1244.7L377.5 1248.3M404.2 1244.3L377.5 1248.3M319.0 1304.5L400.2 1259.0M450.8 1388.1L455.7 1341.2M414.6 1383.3L454.4 1322.4M428.8 1357.5L418.2 1381.5M395.0 1343.2L385.9 1389.3M449.9 1388.1L422.4 1359.9M414.6 1383.3L445.3 1311.6M446.8 1331.7L387.2 1360.0M422.4 1359.9L406.5 1340.6M391.6 1333.1L443.3 1330.7M481.5 1323.6L394.5 1351.0M467.1 1347.5L428.9 1349.9M447.2 1340.3L378.7 1335.5M385.9 1369.0L454.3 1326.0M471.1 1349.9L387.2 1360.0M426.6 1331.4L445.3 1311.6M414.5 1371.2L504.0 1357.5M426.0 1351.1L389.5 1371.4M402.2 1367.3L436.1 1332.4M436.1 1318.8L389.5 1371.4M383.9 1379.1L391.6 1333.1M390.7 1326.0L440.9 1342.0M426.0 1351.1L390.7 1326.0M383.9 1379.1L412.5 1352.3M408.5 1378.3L467.1 1347.5M449.9 1388.1L390.7 1326.0" fill="none" stroke="#000" stroke-width="1.1"/>
<g fill="#ff0028"><circle cx="183.8" cy="961.0" r="11.7"/><circle cx="206.5" cy="950.9" r="11.7"/><circle cx="208.9" cy="966.5" r="11.7"/><circle cx="223.2" cy="968.9" r="11.7"/><circle cx="230.4" cy="933.0" r="11.7"/><circle cx="242.3" cy="937.8" r="11.7"/><circle cx="260.2" cy="940.2" r="11.7"/><circle cx="242.3" cy="959.3" r="11.7"/><circle cx="232.8" cy="949.7" r="11.7"/><circle cx="249.5" cy="949.7" r="11.7"/><circle cx="220.8" cy="959.3" r="11.7"/><circle cx="213.6" cy="959.3" r="11.7"/><circle cx="235.2" cy="961.7" r="11.7"/><circle cx="251.9" cy="943.8" r="11.7"/></g>
<g fill="#004dff"><circle cx="303.5" cy="961.2" r="11.7"/><circle cx="333.1" cy="972.4" r="11.7"/><circle cx="347.5" cy="946.2" r="11.7"/><circle cx="364.2" cy="949.7" r="11.7"/><circle cx="380.9" cy="949.7" r="11.7"/><circle cx="395.3" cy="968.9" r="11.7"/><circle cx="385.7" cy="984.4" r="11.7"/><circle cx="354.6" cy="988.0" r="11.7"/><circle cx="369.0" cy="968.9" r="11.7"/><circle cx="357.0" cy="966.5" r="11.7"/><circle cx="378.5" cy="964.1" r="11.7"/><circle cx="345.1" cy="968.9" r="11.7"/><circle cx="365.4" cy="982.0" r="11.7"/><circle cx="376.1" cy="978.4" r="11.7"/><circle cx="359.4" cy="956.9" r="11.7"/><circle cx="390.5" cy="976.0" r="11.7"/></g>
<g fill="#9cff00"><circle cx="367.8" cy="1019.0" r="11.7"/><circle cx="364.2" cy="1035.8" r="11.7"/><circle cx="389.3" cy="1019.0" r="11.7"/><circle cx="397.7" cy="1033.4" r="11.7"/><circle cx="409.6" cy="1020.2" r="11.7"/><circle cx="419.2" cy="1031.0" r="11.7"/><circle cx="431.1" cy="1020.2" r="11.7"/><circle cx="438.3" cy="1031.0" r="11.7"/><circle cx="451.4" cy="1023.8" r="11.7"/><circle cx="464.6" cy="1026.2" r="11.7"/><circle cx="476.5" cy="1019.0" r="11.7"/><circle cx="488.5" cy="1014.3" r="11.7"/><circle cx="500.4" cy="1011.9" r="11.7"/><circle cx="512.4" cy="1014.3" r="11.7"/><circle cx="483.7" cy="1028.6" r="11.7"/><circle cx="500.4" cy="1028.6" r="11.7"/><circle cx="523.8" cy="995.2" r="11.7"/><circle cx="533.9" cy="1019.0" r="11.7"/><circle cx="548.2" cy="1031.0" r="11.7"/><circle cx="567.3" cy="1014.3" r="11.7"/><circle cx="580.0" cy="1038.2" r="11.7"/><circle cx="531.5" cy="1062.1" r="11.7"/><circle cx="564.9" cy="1057.3" r="11.7"/><circle cx="378.5" cy="1031.0" r="11.7"/></g>
<g fill="#00ffec"><circle cx="199.3" cy="1162.4" r="11.7"/><circle cx="185.0" cy="1181.6" r="11.7"/><circle cx="201.7" cy="1183.9" r="11.7"/><circle cx="225.6" cy="1152.9" r="11.7"/><circle cx="235.2" cy="1149.3" r="11.7"/><circle cx="230.4" cy="1164.8" r="11.7"/><circle cx="249.5" cy="1167.2" r="11.7"/><circle cx="263.8" cy="1164.8" r="11.7"/><circle cx="275.8" cy="1164.8" r="11.7"/><circle cx="288.9" cy="1158.9" r="11.7"/><circle cx="297.3" cy="1167.2" r="11.7"/><circle cx="312.8" cy="1157.7" r="11.7"/><circle cx="333.1" cy="1162.4" r="11.7"/><circle cx="340.3" cy="1172.0" r="11.7"/><circle cx="359.4" cy="1162.4" r="11.7"/><circle cx="371.4" cy="1148.1" r="11.7"/><circle cx="369.0" cy="1172.0" r="11.7"/><circle cx="383.3" cy="1176.8" r="11.7"/><circle cx="395.3" cy="1149.3" r="11.7"/><circle cx="412.0" cy="1148.1" r="11.7"/><circle cx="400.0" cy="1164.8" r="11.7"/><circle cx="416.8" cy="1164.8" r="11.7"/><circle cx="433.5" cy="1152.9" r="11.7"/><circle cx="445.5" cy="1140.9" r="11.7"/><circle cx="469.4" cy="1129.0" r="11.7"/><circle cx="464.6" cy="1148.1" r="11.7"/><circle cx="483.7" cy="1148.1" r="11.7"/><circle cx="452.6" cy="1164.8" r="11.7"/><circle cx="471.7" cy="1167.2" r="11.7"/><circle cx="488.5" cy="1164.8" r="11.7"/><circle cx="502.8" cy="1152.9" r="11.7"/><circle cx="512.4" cy="1148.1" r="11.7"/><circle cx="524.3" cy="1162.4" r="11.7"/><circle cx="541.0" cy="1152.9" r="11.7"/><circle cx="553.0" cy="1155.3" r="11.7"/><circle cx="560.2" cy="1167.2" r="11.7"/><circle cx="440.7" cy="1176.8" r="11.7"/><circle cx="464.6" cy="1181.6" r="11.7"/><circle cx="488.5" cy="1181.6" r="11.7"/><circle cx="512.4" cy="1176.8" r="11.7"/><circle cx="536.3" cy="1176.8" r="11.7"/><circle cx="572.1" cy="1176.8" r="11.7"/><circle cx="259.0" cy="1183.9" r="11.7"/><circle cx="220.8" cy="1186.3" r="11.7"/></g>
<g fill="#7b00ff"><circle cx="722.8" cy="913.4" r="11.7"/></g>
<g fill="#00ff25"><circle cx="786.1" cy="906.3" r="11.7"/><circle cx="776.6" cy="912.7" r="11.7"/></g>
<g fill="#7b00ff"><circle cx="761.1" cy="913.4" r="11.7"/></g>
<g fill="#00ff25"><circle cx="728.8" cy="922.3" r="11.7"/><circle cx="743.1" cy="918.7" r="11.7"/><circle cx="743.1" cy="959.3" r="11.7"/><circle cx="751.5" cy="979.6" r="11.7"/><circle cx="767.0" cy="976.0" r="11.7"/></g>
<g fill="#ff00bf"><circle cx="708.5" cy="1064.5" r="11.7"/></g>
<g fill="#9cff00"><circle cx="567.5" cy="1014.3" r="11.7"/><circle cx="542.4" cy="1016.7" r="11.7"/><circle cx="551.9" cy="1033.4" r="11.7"/><circle cx="577.0" cy="1042.9" r="11.7"/><circle cx="563.9" cy="1057.3" r="11.7"/><circle cx="597.4" cy="1045.3" r="11.7"/><circle cx="602.1" cy="1059.7" r="11.7"/><circle cx="623.6" cy="1033.4" r="11.7"/><circle cx="621.3" cy="1054.9" r="11.7"/><circle cx="645.2" cy="1035.8" r="11.7"/><circle cx="640.4" cy="1057.3" r="11.7"/><circle cx="659.5" cy="1042.9" r="11.7"/><circle cx="669.0" cy="1047.7" r="11.7"/><circle cx="681.0" cy="1054.9" r="11.7"/><circle cx="611.7" cy="1042.9" r="11.7"/><circle cx="635.6" cy="1047.7" r="11.7"/><circle cx="649.9" cy="1047.7" r="11.7"/><circle cx="728.3" cy="1045.8" r="11.7"/><circle cx="783.8" cy="1071.6" r="11.7"/><circle cx="800.5" cy="1071.6" r="11.7"/><circle cx="865.0" cy="1066.8" r="11.7"/><circle cx="855.5" cy="1105.1" r="11.7"/><circle cx="865.0" cy="1095.5" r="11.7"/><circle cx="862.6" cy="1112.3" r="11.7"/><circle cx="879.4" cy="1097.9" r="11.7"/><circle cx="891.3" cy="1093.1" r="11.7"/><circle cx="902.1" cy="1081.2" r="11.7"/><circle cx="912.8" cy="1057.3" r="11.7"/><circle cx="920.0" cy="1095.5" r="11.7"/><circle cx="924.8" cy="1100.3" r="11.7"/><circle cx="934.3" cy="1078.8" r="11.7"/><circle cx="922.4" cy="1035.8" r="11.7"/><circle cx="936.7" cy="1031.0" r="11.7"/><circle cx="958.2" cy="1026.2" r="11.7"/><circle cx="974.9" cy="1023.8" r="11.7"/><circle cx="946.3" cy="1045.3" r="11.7"/><circle cx="965.4" cy="1042.9" r="11.7"/><circle cx="984.5" cy="1042.9" r="11.7"/><circle cx="934.3" cy="1057.3" r="11.7"/><circle cx="960.6" cy="1076.4" r="11.7"/><circle cx="963.0" cy="1093.1" r="11.7"/><circle cx="982.1" cy="1076.4" r="11.7"/><circle cx="984.5" cy="1102.7" r="11.7"/><circle cx="946.3" cy="1076.4" r="11.7"/></g>
<g fill="#00ffec"><circle cx="606.9" cy="1149.3" r="11.7"/><circle cx="635.6" cy="1154.1" r="11.7"/><circle cx="708.5" cy="1148.1" r="11.7"/><circle cx="716.8" cy="1157.7" r="11.7"/><circle cx="794.5" cy="1195.9" r="11.7"/><circle cx="540.0" cy="1152.9" r="11.7"/><circle cx="554.3" cy="1155.3" r="11.7"/><circle cx="563.9" cy="1167.2" r="11.7"/><circle cx="580.6" cy="1172.0" r="11.7"/><circle cx="599.7" cy="1172.0" r="11.7"/><circle cx="611.7" cy="1176.8" r="11.7"/><circle cx="635.6" cy="1183.9" r="11.7"/><circle cx="652.3" cy="1181.6" r="11.7"/><circle cx="669.0" cy="1181.6" r="11.7"/><circle cx="683.4" cy="1179.2" r="11.7"/><circle cx="702.5" cy="1181.6" r="11.7"/><circle cx="719.2" cy="1183.9" r="11.7"/><circle cx="731.2" cy="1188.7" r="11.7"/></g>
<g fill="#9cff00"><circle cx="923.1" cy="1036.0" r="11.7"/><circle cx="938.6" cy="1032.4" r="11.7"/><circle cx="960.1" cy="1026.5" r="11.7"/><circle cx="976.8" cy="1025.3" r="11.7"/><circle cx="979.2" cy="1045.6" r="11.7"/><circle cx="986.4" cy="1048.0" r="11.7"/><circle cx="967.3" cy="1040.8" r="11.7"/><circle cx="948.2" cy="1045.6" r="11.7"/><circle cx="933.8" cy="1050.4" r="11.7"/><circle cx="912.3" cy="1057.5" r="11.7"/><circle cx="919.5" cy="1045.6" r="11.7"/><circle cx="952.9" cy="1055.2" r="11.7"/><circle cx="864.5" cy="1067.1" r="11.7"/><circle cx="901.6" cy="1080.2" r="11.7"/><circle cx="864.5" cy="1095.8" r="11.7"/><circle cx="853.8" cy="1105.3" r="11.7"/><circle cx="863.3" cy="1112.5" r="11.7"/><circle cx="881.3" cy="1098.2" r="11.7"/><circle cx="890.8" cy="1093.4" r="11.7"/><circle cx="917.1" cy="1095.8" r="11.7"/><circle cx="926.7" cy="1098.2" r="11.7"/><circle cx="933.8" cy="1081.4" r="11.7"/><circle cx="941.0" cy="1076.7" r="11.7"/><circle cx="800.0" cy="1074.3" r="11.7"/><circle cx="962.5" cy="1076.7" r="11.7"/><circle cx="962.5" cy="1093.4" r="11.7"/><circle cx="979.2" cy="1083.8" r="11.7"/><circle cx="986.4" cy="1102.9" r="11.7"/><circle cx="996.0" cy="1076.7" r="11.7"/><circle cx="1005.5" cy="1105.3" r="11.7"/><circle cx="1015.1" cy="1079.0" r="11.7"/><circle cx="1010.3" cy="1093.4" r="11.7"/><circle cx="1027.0" cy="1083.8" r="11.7"/><circle cx="1039.0" cy="1079.0" r="11.7"/><circle cx="1059.3" cy="1070.7" r="11.7"/><circle cx="1029.4" cy="1107.7" r="11.7"/><circle cx="1048.5" cy="1102.9" r="11.7"/><circle cx="1050.9" cy="1119.7" r="11.7"/><circle cx="1062.9" cy="1093.4" r="11.7"/><circle cx="1074.8" cy="1107.7" r="11.7"/><circle cx="1084.4" cy="1091.0" r="11.7"/><circle cx="1101.1" cy="1100.6" r="11.7"/><circle cx="1086.8" cy="1117.3" r="11.7"/><circle cx="1084.4" cy="1129.2" r="11.7"/><circle cx="1098.7" cy="1122.1" r="11.7"/><circle cx="1117.8" cy="1112.5" r="11.7"/><circle cx="1122.6" cy="1119.7" r="11.7"/><circle cx="1129.8" cy="1107.7" r="11.7"/><circle cx="1110.7" cy="1102.9" r="11.7"/><circle cx="974.1" cy="1078.6" r="11.7"/><circle cx="983.9" cy="1078.9" r="11.7"/><circle cx="993.1" cy="1077.8" r="11.7"/><circle cx="1003.6" cy="1078.3" r="11.7"/><circle cx="1029.4" cy="1080.7" r="11.7"/><circle cx="1038.5" cy="1076.4" r="11.7"/><circle cx="1049.2" cy="1079.8" r="11.7"/><circle cx="968.9" cy="1088.6" r="11.7"/><circle cx="978.7" cy="1088.4" r="11.7"/><circle cx="989.9" cy="1089.5" r="11.7"/><circle cx="1001.7" cy="1086.3" r="11.7"/><circle cx="1012.6" cy="1087.7" r="11.7"/><circle cx="1025.2" cy="1085.5" r="11.7"/><circle cx="1033.7" cy="1090.2" r="11.7"/><circle cx="1042.6" cy="1088.9" r="11.7"/><circle cx="1058.4" cy="1088.2" r="11.7"/><circle cx="995.5" cy="1095.9" r="11.7"/><circle cx="1004.7" cy="1098.8" r="11.7"/><circle cx="1018.9" cy="1094.5" r="11.7"/><circle cx="1026.3" cy="1098.5" r="11.7"/><circle cx="1039.0" cy="1095.3" r="11.7"/><circle cx="1053.1" cy="1096.3" r="11.7"/><circle cx="1059.4" cy="1096.7" r="11.7"/><circle cx="1072.3" cy="1098.1" r="11.7"/><circle cx="1085.4" cy="1094.9" r="11.7"/><circle cx="1094.9" cy="1099.5" r="11.7"/><circle cx="1024.0" cy="1105.1" r="11.7"/><circle cx="1036.4" cy="1106.8" r="11.7"/><circle cx="1044.7" cy="1106.0" r="11.7"/><circle cx="1055.5" cy="1108.5" r="11.7"/><circle cx="1069.6" cy="1106.7" r="11.7"/><circle cx="1078.6" cy="1106.7" r="11.7"/><circle cx="1087.4" cy="1109.0" r="11.7"/><circle cx="1100.2" cy="1104.2" r="11.7"/><circle cx="1110.2" cy="1105.8" r="11.7"/><circle cx="1132.0" cy="1109.1" r="11.7"/><circle cx="1053.1" cy="1117.7" r="11.7"/><circle cx="1084.8" cy="1115.5" r="11.7"/><circle cx="1094.7" cy="1118.5" r="11.7"/><circle cx="1103.7" cy="1114.9" r="11.7"/><circle cx="1118.0" cy="1118.1" r="11.7"/><circle cx="1128.6" cy="1117.2" r="11.7"/><circle cx="1136.8" cy="1116.9" r="11.7"/><circle cx="1078.2" cy="1124.8" r="11.7"/><circle cx="1089.9" cy="1125.9" r="11.7"/><circle cx="934.7" cy="1034.4" r="11.7"/><circle cx="942.3" cy="1032.5" r="11.7"/><circle cx="955.4" cy="1031.6" r="11.7"/><circle cx="965.6" cy="1031.9" r="11.7"/><circle cx="976.2" cy="1034.9" r="11.7"/><circle cx="930.6" cy="1040.4" r="11.7"/><circle cx="937.6" cy="1041.1" r="11.7"/><circle cx="951.7" cy="1041.8" r="11.7"/><circle cx="960.9" cy="1039.9" r="11.7"/><circle cx="970.5" cy="1043.0" r="11.7"/><circle cx="921.1" cy="1053.7" r="11.7"/><circle cx="934.1" cy="1049.8" r="11.7"/><circle cx="943.1" cy="1054.3" r="11.7"/><circle cx="894.7" cy="1089.4" r="11.7"/><circle cx="932.2" cy="1085.2" r="11.7"/><circle cx="869.6" cy="1096.3" r="11.7"/><circle cx="924.7" cy="1095.1" r="11.7"/><circle cx="865.9" cy="1107.3" r="11.7"/></g>
<g fill="#ff0028"><circle cx="1115.5" cy="1089.8" r="11.7"/><circle cx="1129.8" cy="1092.2" r="11.7"/><circle cx="1137.4" cy="1092.7" r="11.7"/></g>
<g fill="#9cff00"><circle cx="1139.4" cy="1110.6" r="11.7"/><circle cx="1147.7" cy="1114.9" r="11.7"/><circle cx="1140.5" cy="1129.7" r="11.7"/></g>
<g fill="#00ffec"><circle cx="800.0" cy="1193.8" r="11.7"/><circle cx="845.4" cy="1209.3" r="11.7"/><circle cx="831.1" cy="1220.0" r="11.7"/><circle cx="809.6" cy="1232.0" r="11.7"/><circle cx="855.0" cy="1224.8" r="11.7"/><circle cx="871.7" cy="1212.9" r="11.7"/><circle cx="886.0" cy="1208.1" r="11.7"/><circle cx="902.8" cy="1204.5" r="11.7"/><circle cx="919.5" cy="1208.1" r="11.7"/><circle cx="933.8" cy="1215.3" r="11.7"/><circle cx="943.4" cy="1215.3" r="11.7"/><circle cx="966.1" cy="1214.1" r="11.7"/><circle cx="943.4" cy="1227.2" r="11.7"/><circle cx="919.5" cy="1224.8" r="11.7"/><circle cx="895.6" cy="1222.4" r="11.7"/><circle cx="871.7" cy="1232.0" r="11.7"/><circle cx="847.8" cy="1241.6" r="11.7"/><circle cx="900.4" cy="1236.8" r="11.7"/><circle cx="926.7" cy="1246.3" r="11.7"/><circle cx="957.7" cy="1249.9" r="11.7"/><circle cx="909.9" cy="1248.7" r="11.7"/><circle cx="108.7" cy="1187.4" r="11.7"/><circle cx="103.9" cy="1201.7" r="11.7"/><circle cx="121.8" cy="1198.1" r="11.7"/><circle cx="161.3" cy="1211.3" r="11.7"/><circle cx="170.8" cy="1201.7" r="11.7"/><circle cx="184.0" cy="1181.4" r="11.7"/><circle cx="204.3" cy="1185.0" r="11.7"/><circle cx="201.9" cy="1218.4" r="11.7"/><circle cx="213.8" cy="1220.8" r="11.7"/><circle cx="221.0" cy="1189.7" r="11.7"/><circle cx="235.3" cy="1194.5" r="11.7"/><circle cx="256.8" cy="1187.4" r="11.7"/><circle cx="242.5" cy="1220.8" r="11.7"/><circle cx="256.8" cy="1211.3" r="11.7"/><circle cx="266.4" cy="1218.4" r="11.7"/><circle cx="274.8" cy="1225.6" r="11.7"/><circle cx="287.4" cy="1199.3" r="11.7"/><circle cx="307.5" cy="1217.9" r="11.7"/><circle cx="348.9" cy="1251.9" r="11.7"/><circle cx="348.9" cy="1265.0" r="11.7"/><circle cx="377.5" cy="1248.3" r="11.7"/><circle cx="378.7" cy="1260.2" r="11.7"/><circle cx="380.6" cy="1284.1" r="11.7"/><circle cx="333.3" cy="1292.5" r="11.7"/><circle cx="319.0" cy="1304.5" r="11.7"/><circle cx="302.3" cy="1303.3" r="11.7"/><circle cx="292.7" cy="1312.8" r="11.7"/><circle cx="352.4" cy="1312.8" r="11.7"/><circle cx="402.6" cy="1305.7" r="11.7"/><circle cx="412.2" cy="1311.6" r="11.7"/><circle cx="333.3" cy="1302.1" r="11.7"/><circle cx="397.8" cy="1225.6" r="11.7"/><circle cx="409.8" cy="1201.7" r="11.7"/><circle cx="402.6" cy="1244.7" r="11.7"/><circle cx="407.4" cy="1275.8" r="11.7"/><circle cx="421.7" cy="1280.6" r="11.7"/><circle cx="400.2" cy="1259.0" r="11.7"/><circle cx="462.4" cy="1318.8" r="11.7"/><circle cx="495.8" cy="1318.8" r="11.7"/><circle cx="522.1" cy="1321.2" r="11.7"/><circle cx="505.4" cy="1340.3" r="11.7"/><circle cx="522.1" cy="1340.3" r="11.7"/><circle cx="438.5" cy="1153.9" r="11.7"/><circle cx="452.8" cy="1141.9" r="11.7"/><circle cx="467.2" cy="1139.0" r="11.7"/><circle cx="477.3" cy="1140.9" r="11.7"/><circle cx="451.7" cy="1151.2" r="11.7"/><circle cx="458.8" cy="1149.7" r="11.7"/><circle cx="471.5" cy="1147.3" r="11.7"/><circle cx="482.3" cy="1151.9" r="11.7"/><circle cx="493.2" cy="1150.8" r="11.7"/><circle cx="506.4" cy="1150.8" r="11.7"/><circle cx="444.0" cy="1156.3" r="11.7"/><circle cx="456.0" cy="1159.3" r="11.7"/><circle cx="467.5" cy="1160.5" r="11.7"/><circle cx="478.4" cy="1159.0" r="11.7"/><circle cx="487.2" cy="1159.5" r="11.7"/><circle cx="497.5" cy="1157.4" r="11.7"/><circle cx="511.7" cy="1159.5" r="11.7"/><circle cx="519.7" cy="1158.6" r="11.7"/><circle cx="533.3" cy="1157.4" r="11.7"/><circle cx="437.0" cy="1166.3" r="11.7"/><circle cx="450.8" cy="1168.4" r="11.7"/><circle cx="458.3" cy="1171.0" r="11.7"/><circle cx="469.3" cy="1166.0" r="11.7"/><circle cx="485.0" cy="1168.3" r="11.7"/><circle cx="495.9" cy="1169.1" r="11.7"/><circle cx="503.0" cy="1168.5" r="11.7"/><circle cx="517.6" cy="1165.9" r="11.7"/><circle cx="528.8" cy="1167.7" r="11.7"/><circle cx="538.4" cy="1167.6" r="11.7"/><circle cx="431.5" cy="1178.7" r="11.7"/><circle cx="444.9" cy="1177.4" r="11.7"/><circle cx="455.2" cy="1177.6" r="11.7"/><circle cx="463.6" cy="1180.1" r="11.7"/><circle cx="477.4" cy="1180.2" r="11.7"/><circle cx="489.1" cy="1178.9" r="11.7"/><circle cx="497.3" cy="1178.9" r="11.7"/><circle cx="510.2" cy="1177.0" r="11.7"/><circle cx="519.5" cy="1176.4" r="11.7"/><circle cx="530.4" cy="1179.1" r="11.7"/><circle cx="543.5" cy="1176.1" r="11.7"/><circle cx="427.0" cy="1186.9" r="11.7"/><circle cx="437.7" cy="1186.0" r="11.7"/><circle cx="450.5" cy="1189.8" r="11.7"/><circle cx="463.1" cy="1187.1" r="11.7"/><circle cx="470.2" cy="1186.5" r="11.7"/><circle cx="480.1" cy="1188.8" r="11.7"/><circle cx="491.9" cy="1187.8" r="11.7"/><circle cx="507.0" cy="1188.9" r="11.7"/><circle cx="516.8" cy="1189.3" r="11.7"/><circle cx="527.8" cy="1189.6" r="11.7"/><circle cx="539.0" cy="1186.3" r="11.7"/><circle cx="430.5" cy="1195.9" r="11.7"/><circle cx="442.5" cy="1199.1" r="11.7"/><circle cx="456.7" cy="1199.1" r="11.7"/><circle cx="468.2" cy="1199.5" r="11.7"/><circle cx="475.4" cy="1200.2" r="11.7"/><circle cx="487.5" cy="1198.6" r="11.7"/><circle cx="501.0" cy="1195.9" r="11.7"/><circle cx="512.9" cy="1198.1" r="11.7"/><circle cx="522.7" cy="1196.7" r="11.7"/><circle cx="534.1" cy="1195.8" r="11.7"/><circle cx="543.0" cy="1198.6" r="11.7"/><circle cx="414.9" cy="1206.5" r="11.7"/><circle cx="427.2" cy="1206.1" r="11.7"/><circle cx="439.5" cy="1204.9" r="11.7"/><circle cx="446.9" cy="1208.2" r="11.7"/><circle cx="460.4" cy="1209.7" r="11.7"/><circle cx="472.3" cy="1207.5" r="11.7"/><circle cx="483.2" cy="1204.9" r="11.7"/><circle cx="494.6" cy="1206.6" r="11.7"/><circle cx="503.0" cy="1205.3" r="11.7"/><circle cx="513.3" cy="1205.9" r="11.7"/><circle cx="526.6" cy="1207.3" r="11.7"/><circle cx="540.3" cy="1204.6" r="11.7"/><circle cx="409.2" cy="1214.8" r="11.7"/><circle cx="421.2" cy="1214.4" r="11.7"/><circle cx="430.9" cy="1215.4" r="11.7"/><circle cx="442.8" cy="1216.4" r="11.7"/><circle cx="454.2" cy="1217.6" r="11.7"/><circle cx="465.0" cy="1216.2" r="11.7"/><circle cx="475.1" cy="1219.3" r="11.7"/><circle cx="490.2" cy="1214.5" r="11.7"/><circle cx="501.0" cy="1217.5" r="11.7"/><circle cx="512.6" cy="1219.0" r="11.7"/><circle cx="523.3" cy="1218.3" r="11.7"/><circle cx="532.5" cy="1216.1" r="11.7"/><circle cx="544.2" cy="1217.5" r="11.7"/><circle cx="406.5" cy="1226.3" r="11.7"/><circle cx="415.6" cy="1225.5" r="11.7"/><circle cx="428.5" cy="1224.8" r="11.7"/><circle cx="439.8" cy="1225.3" r="11.7"/><circle cx="447.3" cy="1224.1" r="11.7"/><circle cx="459.9" cy="1227.3" r="11.7"/><circle cx="473.6" cy="1223.6" r="11.7"/><circle cx="485.0" cy="1226.6" r="11.7"/><circle cx="491.5" cy="1226.0" r="11.7"/><circle cx="503.2" cy="1228.8" r="11.7"/><circle cx="515.6" cy="1224.2" r="11.7"/><circle cx="524.8" cy="1225.5" r="11.7"/><circle cx="536.5" cy="1226.3" r="11.7"/><circle cx="408.2" cy="1234.0" r="11.7"/><circle cx="419.3" cy="1237.3" r="11.7"/><circle cx="434.0" cy="1233.6" r="11.7"/><circle cx="442.3" cy="1238.4" r="11.7"/><circle cx="456.3" cy="1233.2" r="11.7"/><circle cx="465.7" cy="1238.3" r="11.7"/><circle cx="478.4" cy="1235.0" r="11.7"/><circle cx="490.1" cy="1236.8" r="11.7"/><circle cx="502.0" cy="1237.7" r="11.7"/><circle cx="508.2" cy="1236.0" r="11.7"/><circle cx="523.0" cy="1237.9" r="11.7"/><circle cx="534.3" cy="1237.5" r="11.7"/><circle cx="404.2" cy="1244.3" r="11.7"/><circle cx="413.9" cy="1243.1" r="11.7"/><circle cx="424.9" cy="1248.1" r="11.7"/><circle cx="439.4" cy="1244.3" r="11.7"/><circle cx="452.0" cy="1243.1" r="11.7"/><circle cx="462.8" cy="1243.1" r="11.7"/><circle cx="470.6" cy="1242.9" r="11.7"/><circle cx="482.4" cy="1246.5" r="11.7"/><circle cx="495.9" cy="1246.2" r="11.7"/><circle cx="502.4" cy="1245.5" r="11.7"/><circle cx="518.5" cy="1246.4" r="11.7"/><circle cx="525.1" cy="1248.2" r="11.7"/><circle cx="535.6" cy="1248.1" r="11.7"/><circle cx="411.3" cy="1257.4" r="11.7"/><circle cx="420.0" cy="1253.2" r="11.7"/><circle cx="433.4" cy="1256.8" r="11.7"/><circle cx="445.5" cy="1254.5" r="11.7"/><circle cx="457.4" cy="1255.9" r="11.7"/><circle cx="463.9" cy="1257.3" r="11.7"/><circle cx="477.6" cy="1254.9" r="11.7"/><circle cx="489.7" cy="1253.2" r="11.7"/><circle cx="498.9" cy="1254.2" r="11.7"/><circle cx="513.0" cy="1257.8" r="11.7"/><circle cx="521.6" cy="1256.3" r="11.7"/><circle cx="532.1" cy="1254.1" r="11.7"/><circle cx="415.3" cy="1263.8" r="11.7"/><circle cx="425.0" cy="1265.7" r="11.7"/><circle cx="439.0" cy="1266.7" r="11.7"/><circle cx="448.2" cy="1266.9" r="11.7"/><circle cx="460.6" cy="1266.8" r="11.7"/><circle cx="474.3" cy="1266.5" r="11.7"/><circle cx="484.4" cy="1263.1" r="11.7"/><circle cx="494.6" cy="1265.8" r="11.7"/><circle cx="507.7" cy="1265.8" r="11.7"/><circle cx="516.8" cy="1266.6" r="11.7"/><circle cx="526.4" cy="1267.4" r="11.7"/><circle cx="536.0" cy="1262.1" r="11.7"/><circle cx="411.2" cy="1274.3" r="11.7"/><circle cx="422.2" cy="1275.2" r="11.7"/><circle cx="430.1" cy="1274.4" r="11.7"/><circle cx="487.9" cy="1271.8" r="11.7"/><circle cx="498.7" cy="1274.2" r="11.7"/><circle cx="509.3" cy="1272.8" r="11.7"/><circle cx="520.4" cy="1272.3" r="11.7"/><circle cx="495.6" cy="1284.8" r="11.7"/><circle cx="506.5" cy="1284.0" r="11.7"/><circle cx="515.8" cy="1285.5" r="11.7"/><circle cx="528.8" cy="1281.5" r="11.7"/><circle cx="509.5" cy="1295.2" r="11.7"/><circle cx="521.5" cy="1294.9" r="11.7"/></g>
<g fill="#ff9900"><circle cx="449.6" cy="1294.3" r="11.7"/><circle cx="445.3" cy="1311.6" r="11.7"/><circle cx="444.7" cy="1320.2" r="11.7"/><circle cx="454.4" cy="1322.4" r="11.7"/><circle cx="391.6" cy="1333.1" r="11.7"/><circle cx="402.7" cy="1330.1" r="11.7"/><circle cx="414.8" cy="1331.9" r="11.7"/><circle cx="426.6" cy="1331.4" r="11.7"/><circle cx="436.1" cy="1332.4" r="11.7"/><circle cx="446.8" cy="1331.7" r="11.7"/><circle cx="389.0" cy="1342.1" r="11.7"/><circle cx="395.0" cy="1343.2" r="11.7"/><circle cx="406.5" cy="1340.6" r="11.7"/><circle cx="420.2" cy="1342.3" r="11.7"/><circle cx="429.1" cy="1342.5" r="11.7"/><circle cx="440.9" cy="1342.0" r="11.7"/><circle cx="455.7" cy="1341.2" r="11.7"/><circle cx="381.4" cy="1351.1" r="11.7"/><circle cx="394.5" cy="1351.0" r="11.7"/><circle cx="403.9" cy="1351.8" r="11.7"/><circle cx="412.5" cy="1352.3" r="11.7"/><circle cx="426.0" cy="1351.1" r="11.7"/><circle cx="434.7" cy="1350.5" r="11.7"/><circle cx="387.2" cy="1360.0" r="11.7"/><circle cx="400.4" cy="1361.7" r="11.7"/><circle cx="408.0" cy="1361.6" r="11.7"/><circle cx="422.4" cy="1359.9" r="11.7"/><circle cx="428.8" cy="1357.5" r="11.7"/><circle cx="389.5" cy="1371.4" r="11.7"/><circle cx="402.2" cy="1367.3" r="11.7"/><circle cx="414.5" cy="1371.2" r="11.7"/><circle cx="424.4" cy="1367.5" r="11.7"/><circle cx="383.9" cy="1379.1" r="11.7"/><circle cx="395.3" cy="1379.4" r="11.7"/><circle cx="408.5" cy="1378.3" r="11.7"/><circle cx="418.2" cy="1381.5" r="11.7"/><circle cx="443.3" cy="1294.9" r="11.7"/><circle cx="457.6" cy="1292.5" r="11.7"/><circle cx="452.8" cy="1304.5" r="11.7"/><circle cx="436.1" cy="1318.8" r="11.7"/><circle cx="457.6" cy="1326.0" r="11.7"/><circle cx="481.5" cy="1323.6" r="11.7"/><circle cx="390.7" cy="1326.0" r="11.7"/><circle cx="378.7" cy="1335.5" r="11.7"/><circle cx="407.4" cy="1330.7" r="11.7"/><circle cx="424.1" cy="1333.1" r="11.7"/><circle cx="373.9" cy="1349.9" r="11.7"/><circle cx="390.7" cy="1352.3" r="11.7"/><circle cx="409.8" cy="1349.9" r="11.7"/><circle cx="428.9" cy="1349.9" r="11.7"/><circle cx="385.9" cy="1369.0" r="11.7"/><circle cx="402.6" cy="1369.0" r="11.7"/><circle cx="421.7" cy="1366.6" r="11.7"/><circle cx="381.1" cy="1380.9" r="11.7"/><circle cx="397.8" cy="1383.3" r="11.7"/><circle cx="414.6" cy="1383.3" r="11.7"/><circle cx="428.9" cy="1378.5" r="11.7"/><circle cx="385.9" cy="1389.3" r="11.7"/><circle cx="467.1" cy="1347.5" r="11.7"/><circle cx="450.4" cy="1340.3" r="11.7"/><circle cx="342.9" cy="1349.4" r="11.7"/><circle cx="449.9" cy="1388.1" r="11.7"/><circle cx="504.2" cy="1357.0" r="11.7"/><circle cx="436.1" cy="1426.3" r="11.7"/><circle cx="460.0" cy="1438.3" r="11.7"/><circle cx="443.3" cy="1330.7" r="11.7"/></g>
<g fill="#00ffec"><circle cx="616.9" cy="1256.6" r="11.7"/><circle cx="632.8" cy="1251.9" r="11.7"/><circle cx="568.8" cy="1265.4" r="11.7"/><circle cx="593.3" cy="1264.1" r="11.7"/><circle cx="604.9" cy="1265.0" r="11.7"/><circle cx="616.1" cy="1263.2" r="11.7"/><circle cx="624.7" cy="1266.3" r="11.7"/><circle cx="633.2" cy="1264.3" r="11.7"/><circle cx="644.1" cy="1262.6" r="11.7"/><circle cx="657.5" cy="1262.6" r="11.7"/><circle cx="619.1" cy="1273.0" r="11.7"/><circle cx="630.7" cy="1272.9" r="11.7"/><circle cx="643.7" cy="1272.3" r="11.7"/><circle cx="653.9" cy="1273.9" r="11.7"/><circle cx="634.2" cy="1284.4" r="11.7"/><circle cx="645.9" cy="1284.9" r="11.7"/></g>
<g fill="#ff9900"><circle cx="560.7" cy="1194.5" r="11.7"/><circle cx="604.9" cy="1196.9" r="11.7"/><circle cx="619.2" cy="1195.7" r="11.7"/><circle cx="650.3" cy="1198.1" r="11.7"/><circle cx="612.1" cy="1208.9" r="11.7"/><circle cx="597.7" cy="1218.4" r="11.7"/><circle cx="583.4" cy="1223.2" r="11.7"/><circle cx="573.8" cy="1232.8" r="11.7"/><circle cx="595.3" cy="1232.8" r="11.7"/><circle cx="612.1" cy="1230.4" r="11.7"/><circle cx="544.0" cy="1252.4" r="11.7"/><circle cx="576.2" cy="1252.4" r="11.7"/></g>
<g fill="#00ffec"><circle cx="583.4" cy="1194.5" r="11.7"/><circle cx="581.0" cy="1208.9" r="11.7"/><circle cx="540.4" cy="1201.7" r="11.7"/><circle cx="547.5" cy="1220.8" r="11.7"/><circle cx="554.7" cy="1235.2" r="11.7"/><circle cx="463.9" cy="1232.8" r="11.7"/><circle cx="499.7" cy="1165.8" r="11.7"/><circle cx="475.8" cy="1189.7" r="11.7"/><circle cx="454.3" cy="1254.3" r="11.7"/><circle cx="511.7" cy="1149.1" r="11.7"/><circle cx="540.4" cy="1151.5" r="11.7"/><circle cx="552.3" cy="1156.3" r="11.7"/><circle cx="573.8" cy="1173.0" r="11.7"/><circle cx="588.2" cy="1170.6" r="11.7"/><circle cx="607.3" cy="1170.6" r="11.7"/><circle cx="628.8" cy="1180.2" r="11.7"/><circle cx="650.3" cy="1180.2" r="11.7"/><circle cx="669.4" cy="1185.0" r="11.7"/><circle cx="681.4" cy="1177.8" r="11.7"/><circle cx="698.1" cy="1185.0" r="11.7"/><circle cx="712.4" cy="1180.2" r="11.7"/><circle cx="726.8" cy="1185.0" r="11.7"/><circle cx="717.2" cy="1156.3" r="11.7"/><circle cx="679.0" cy="1199.3" r="11.7"/><circle cx="700.5" cy="1199.3" r="11.7"/><circle cx="722.0" cy="1201.7" r="11.7"/><circle cx="714.8" cy="1211.3" r="11.7"/><circle cx="741.1" cy="1204.1" r="11.7"/><circle cx="757.8" cy="1208.9" r="11.7"/><circle cx="794.9" cy="1195.0" r="11.7"/><circle cx="628.8" cy="1208.9" r="11.7"/></g>
<g fill="#ff9900"><circle cx="560.7" cy="1194.5" r="11.7"/><circle cx="604.9" cy="1196.9" r="11.7"/><circle cx="619.2" cy="1195.7" r="11.7"/><circle cx="650.3" cy="1198.1" r="11.7"/><circle cx="612.1" cy="1208.9" r="11.7"/><circle cx="597.7" cy="1218.4" r="11.7"/><circle cx="583.4" cy="1223.2" r="11.7"/><circle cx="573.8" cy="1232.8" r="11.7"/><circle cx="595.3" cy="1232.8" r="11.7"/></g>
<g fill="#00ffec"><circle cx="694.5" cy="1236.3" r="11.7"/><circle cx="733.5" cy="1257.9" r="11.7"/><circle cx="671.8" cy="1249.5" r="11.7"/><circle cx="659.9" cy="1259.0" r="11.7"/><circle cx="786.5" cy="1229.2" r="11.7"/><circle cx="809.2" cy="1232.8" r="11.7"/><circle cx="787.7" cy="1249.5" r="11.7"/><circle cx="836.7" cy="1220.8" r="11.7"/><circle cx="846.3" cy="1206.5" r="11.7"/><circle cx="865.4" cy="1213.6" r="11.7"/><circle cx="884.5" cy="1208.9" r="11.7"/><circle cx="882.1" cy="1225.6" r="11.7"/><circle cx="846.3" cy="1237.5" r="11.7"/><circle cx="836.7" cy="1251.9" r="11.7"/><circle cx="843.9" cy="1263.8" r="11.7"/><circle cx="860.6" cy="1268.6" r="11.7"/><circle cx="874.9" cy="1275.8" r="11.7"/><circle cx="886.9" cy="1280.6" r="11.7"/><circle cx="858.2" cy="1230.4" r="11.7"/><circle cx="619.2" cy="1244.7" r="11.7"/><circle cx="631.2" cy="1254.3" r="11.7"/><circle cx="607.3" cy="1261.4" r="11.7"/><circle cx="621.6" cy="1268.6" r="11.7"/><circle cx="638.4" cy="1268.6" r="11.7"/><circle cx="650.3" cy="1273.4" r="11.7"/><circle cx="626.4" cy="1287.7" r="11.7"/><circle cx="655.1" cy="1285.3" r="11.7"/><circle cx="643.1" cy="1254.3" r="11.7"/><circle cx="566.7" cy="1254.3" r="11.7"/><circle cx="564.3" cy="1268.6" r="11.7"/><circle cx="573.8" cy="1273.4" r="11.7"/><circle cx="569.0" cy="1280.6" r="11.7"/><circle cx="592.9" cy="1266.2" r="11.7"/><circle cx="547.5" cy="1285.3" r="11.7"/><circle cx="542.8" cy="1297.3" r="11.7"/><circle cx="511.7" cy="1285.3" r="11.7"/><circle cx="523.6" cy="1297.3" r="11.7"/><circle cx="499.7" cy="1302.1" r="11.7"/><circle cx="530.8" cy="1273.4" r="11.7"/><circle cx="578.6" cy="1315.2" r="11.7"/><circle cx="554.7" cy="1321.2" r="11.7"/><circle cx="535.6" cy="1318.8" r="11.7"/><circle cx="521.3" cy="1321.2" r="11.7"/><circle cx="511.7" cy="1333.1" r="11.7"/><circle cx="499.7" cy="1340.3" r="11.7"/><circle cx="523.6" cy="1342.7" r="11.7"/><circle cx="545.2" cy="1333.1" r="11.7"/><circle cx="559.5" cy="1328.4" r="11.7"/><circle cx="466.3" cy="1316.4" r="11.7"/><circle cx="495.0" cy="1314.0" r="11.7"/><circle cx="687.3" cy="1308.0" r="11.7"/><circle cx="663.4" cy="1329.5" r="11.7"/><circle cx="659.9" cy="1342.7" r="11.7"/><circle cx="667.0" cy="1352.3" r="11.7"/><circle cx="679.0" cy="1357.0" r="11.7"/><circle cx="694.5" cy="1352.3" r="11.7"/><circle cx="700.5" cy="1363.0" r="11.7"/><circle cx="641.9" cy="1371.4" r="11.7"/><circle cx="655.1" cy="1373.8" r="11.7"/><circle cx="669.4" cy="1378.5" r="11.7"/><circle cx="631.2" cy="1389.3" r="11.7"/><circle cx="647.9" cy="1388.1" r="11.7"/><circle cx="664.6" cy="1392.9" r="11.7"/><circle cx="694.5" cy="1383.3" r="11.7"/><circle cx="726.8" cy="1372.6" r="11.7"/><circle cx="743.5" cy="1392.9" r="11.7"/><circle cx="760.2" cy="1390.5" r="11.7"/><circle cx="777.0" cy="1389.3" r="11.7"/><circle cx="784.1" cy="1400.0" r="11.7"/><circle cx="714.8" cy="1408.4" r="11.7"/><circle cx="733.9" cy="1404.8" r="11.7"/><circle cx="750.7" cy="1404.8" r="11.7"/><circle cx="769.8" cy="1402.4" r="11.7"/></g>
<g fill="#ff9900"><circle cx="871.4" cy="1409.1" r="11.7"/><circle cx="504.0" cy="1357.5" r="11.7"/><circle cx="450.8" cy="1388.1" r="11.7"/><circle cx="440.0" cy="1423.9" r="11.7"/><circle cx="454.3" cy="1292.5" r="11.7"/><circle cx="440.0" cy="1297.3" r="11.7"/><circle cx="480.6" cy="1323.6" r="11.7"/><circle cx="454.3" cy="1326.0" r="11.7"/><circle cx="440.0" cy="1321.2" r="11.7"/><circle cx="463.9" cy="1345.1" r="11.7"/><circle cx="447.2" cy="1340.3" r="11.7"/><circle cx="471.1" cy="1349.9" r="11.7"/></g>
<g fill="#00ffec"><circle cx="800.0" cy="1194.5" r="11.7"/><circle cx="845.4" cy="1209.3" r="11.7"/><circle cx="831.1" cy="1220.8" r="11.7"/><circle cx="809.6" cy="1232.8" r="11.7"/><circle cx="855.0" cy="1225.6" r="11.7"/><circle cx="871.7" cy="1213.6" r="11.7"/><circle cx="886.0" cy="1208.9" r="11.7"/><circle cx="902.8" cy="1205.3" r="11.7"/><circle cx="919.5" cy="1208.9" r="11.7"/><circle cx="933.8" cy="1216.0" r="11.7"/><circle cx="943.4" cy="1216.0" r="11.7"/><circle cx="966.1" cy="1214.8" r="11.7"/><circle cx="943.4" cy="1225.6" r="11.7"/><circle cx="919.5" cy="1224.4" r="11.7"/><circle cx="895.6" cy="1223.2" r="11.7"/><circle cx="871.7" cy="1232.8" r="11.7"/><circle cx="847.8" cy="1239.9" r="11.7"/><circle cx="835.8" cy="1249.5" r="11.7"/><circle cx="843.0" cy="1261.4" r="11.7"/><circle cx="859.7" cy="1268.6" r="11.7"/><circle cx="881.3" cy="1273.4" r="11.7"/><circle cx="887.2" cy="1280.6" r="11.7"/><circle cx="900.4" cy="1242.3" r="11.7"/><circle cx="905.2" cy="1259.0" r="11.7"/><circle cx="914.7" cy="1266.2" r="11.7"/><circle cx="929.0" cy="1247.1" r="11.7"/><circle cx="933.8" cy="1259.0" r="11.7"/><circle cx="932.6" cy="1275.8" r="11.7"/><circle cx="950.6" cy="1273.4" r="11.7"/><circle cx="941.0" cy="1263.8" r="11.7"/><circle cx="957.7" cy="1250.7" r="11.7"/><circle cx="990.5" cy="1271.0" r="11.7"/><circle cx="912.3" cy="1249.5" r="11.7"/><circle cx="924.3" cy="1235.2" r="11.7"/><circle cx="905.2" cy="1225.6" r="11.7"/></g>
<g fill="#ff9900"><circle cx="435.7" cy="1427.5" r="11.7"/><circle cx="459.6" cy="1439.9" r="11.7"/><circle cx="452.9" cy="1451.9" r="11.7"/><circle cx="443.4" cy="1459.0" r="11.7"/><circle cx="417.1" cy="1454.3" r="11.7"/><circle cx="426.7" cy="1451.9" r="11.7"/><circle cx="431.4" cy="1466.2" r="11.7"/><circle cx="441.0" cy="1473.4" r="11.7"/><circle cx="429.0" cy="1475.8" r="11.7"/><circle cx="450.1" cy="1388.1" r="11.7"/><circle cx="871.6" cy="1408.9" r="11.7"/><circle cx="953.6" cy="1426.8" r="11.7"/><circle cx="973.4" cy="1417.2" r="11.7"/><circle cx="976.3" cy="1437.5" r="11.7"/><circle cx="989.4" cy="1424.4" r="11.7"/><circle cx="1001.4" cy="1425.6" r="11.7"/><circle cx="989.4" cy="1432.8" r="11.7"/><circle cx="1018.1" cy="1431.6" r="11.7"/><circle cx="1020.5" cy="1424.4" r="11.7"/><circle cx="1032.4" cy="1420.8" r="11.7"/><circle cx="1046.8" cy="1432.8" r="11.7"/><circle cx="1058.7" cy="1430.4" r="11.7"/><circle cx="1073.1" cy="1417.2" r="11.7"/><circle cx="1073.1" cy="1437.5" r="11.7"/><circle cx="1082.6" cy="1436.3" r="11.7"/><circle cx="1095.8" cy="1420.8" r="11.7"/><circle cx="1070.7" cy="1425.6" r="11.7"/><circle cx="1008.5" cy="1430.4" r="11.7"/></g></g>
<g id="pd"><path d="M1537.6 1299.5L1541.2 1251.2M1537.6 1299.5L1544.1 1253.6M1537.6 1299.5L1555.5 1251.2M1537.6 1299.5L1718.0 1296.6M1537.6 1299.5L1749.1 1333.6M1537.6 1299.5L1428.9 1334.8M1537.6 1299.5L1431.3 1338.4M1537.6 1299.5L1431.3 1342.0M1537.6 1299.5L1433.6 1345.6M1537.6 1299.5L1421.7 1339.6M1589.0 1232.1L1684.6 1253.6M1572.3 1245.2L1672.6 1270.3M1573.4 1248.8L1675.0 1272.7M1574.6 1242.8L1672.6 1267.9M1701.3 1256.0L1787.3 1260.7M1739.5 1296.6L1761.0 1295.4M1739.5 1299.0L1761.0 1297.8M1699.6 1261.2L1745.6 1273.3M1701.3 1259.3L1745.0 1277.2M1699.4 1257.3L1745.9 1274.6M1702.6 1257.2L1744.1 1276.7M1700.0 1261.7L1746.2 1271.7M1699.0 1259.7L1746.4 1274.2M1699.9 1259.2L1742.1 1273.1M1701.0 1259.5L1743.0 1273.2M1696.3 1278.4L1754.1 1293.4M1695.7 1277.4L1757.1 1294.5M1694.6 1276.8L1756.7 1293.8M1693.8 1275.8L1757.3 1297.8M1696.3 1276.5L1756.0 1294.3M1691.9 1274.0L1756.1 1294.5M1693.6 1278.1L1756.4 1295.7M1692.9 1274.0L1755.4 1293.7M1654.7 1130.5L1632.0 1107.8M1654.7 1130.5L1641.6 1110.2M1654.7 1130.5L1651.1 1110.2M1654.7 1130.5L1660.7 1110.2M1654.7 1130.5L1665.5 1107.8M1654.7 1130.5L1636.8 1111.4M1654.7 1130.5L1646.3 1111.4M1654.7 1130.5L1657.1 1111.4M1610.5 1129.3L1615.3 1126.9M1624.8 1138.9L1627.2 1141.3M1455.7 1251.5L1463.8 1263.9M1458.4 1248.1L1461.2 1265.6M1455.8 1249.3L1468.3 1262.9M1460.0 1251.0L1465.7 1260.6M1458.5 1253.8L1464.9 1264.9M1458.8 1248.1L1466.6 1263.8M1456.1 1247.8L1467.3 1262.9M1459.1 1253.9L1466.2 1266.2M1605.6 1170.9L1616.7 1179.4M1604.0 1173.8L1621.7 1184.0M1610.6 1172.1L1618.0 1180.3M1605.0 1170.9L1614.9 1184.9M1611.2 1177.6L1620.5 1179.7M1606.3 1175.9L1619.9 1184.4M1611.7 1170.8L1618.7 1183.1M1608.2 1171.6L1617.4 1178.9M1577.0 1184.3L1583.0 1180.7M1488.6 1251.2L1493.4 1246.4M1850.6 1340.1L1939.0 1364.0M1852.9 1342.5L1939.0 1366.4M1896.0 1356.8L1939.0 1361.6M1800.4 1383.1L1939.0 1368.8M1700.0 1256.5L1786.0 1262.4M1700.0 1297.1L1716.7 1296.6M1807.5 1261.3L1898.4 1250.5M1829.0 1270.8L1910.3 1262.4M1867.3 1275.6L1941.4 1236.2M1872.1 1278.0L1942.6 1238.6M1919.9 1246.9L1941.4 1236.2M1921.1 1249.3L1941.8 1237.8M1728.0 1387.6L1775.6 1383.9M1727.7 1381.4L1777.7 1382.0M1729.0 1383.3L1776.4 1383.1M1727.9 1386.5L1775.5 1382.1M1727.5 1381.6L1776.3 1384.7M1728.4 1380.3L1775.9 1385.0M1727.6 1384.6L1776.2 1383.7M1728.3 1385.3L1776.5 1383.7M1797.9 1382.6L1895.1 1392.3M1796.8 1383.1L1896.9 1385.5M1798.1 1383.6L1894.9 1388.1M1798.5 1382.9L1896.5 1386.2M1797.4 1381.6L1896.0 1392.8M1798.2 1384.2L1895.7 1391.2M1797.0 1382.3L1896.4 1391.0M1797.8 1381.6L1895.4 1386.6M1797.5 1384.3L1895.2 1392.4M1798.9 1381.4L1895.7 1389.0M1700.0 1259.7L1741.0 1273.0M1700.0 1261.6L1741.4 1272.8M1700.0 1259.2L1739.4 1276.6M1700.0 1257.9L1742.3 1274.9M1700.0 1259.0L1741.5 1274.2M1700.0 1260.8L1738.9 1275.7M1700.0 1262.3L1741.2 1272.2M1700.0 1258.3L1742.7 1273.5M1700.0 1278.3L1761.8 1294.5M1700.0 1278.5L1758.2 1294.8M1700.0 1279.7L1757.8 1293.8M1700.0 1279.8L1760.7 1292.5M1700.0 1280.6L1760.5 1295.3M1700.0 1275.2L1759.9 1292.6M1700.0 1276.5L1757.5 1294.5M1700.0 1279.9L1759.8 1295.4M1740.6 1296.3L1760.1 1294.5M1739.5 1295.6L1759.2 1297.1M1741.1 1296.1L1759.9 1296.5M1739.8 1295.8L1758.9 1297.5M1739.6 1296.7L1758.7 1296.6M1899.6 1276.9L1916.0 1275.7M1899.2 1273.7L1913.4 1271.2M1901.9 1272.9L1915.2 1271.2M1899.8 1275.1L1916.7 1274.0M1898.4 1274.0L1913.4 1275.9M1902.2 1277.8L1916.6 1275.0M1902.9 1277.7L1913.9 1275.7M1900.7 1277.4L1915.4 1272.7M1906.5 1369.8L1939.7 1368.5M1908.1 1367.6L1940.1 1367.2M1908.4 1369.7L1938.5 1367.7M1906.7 1367.5L1940.9 1365.7M1908.0 1370.2L1939.6 1364.7M2066.2 1398.5L2207.7 1442.2M2208.0 1443.0L2243.1 1453.0M2207.6 1443.6L2242.6 1451.3M2207.4 1441.5L2242.7 1451.8M2207.2 1441.7L2242.6 1453.3M2207.3 1441.0L2242.4 1453.2M2207.6 1442.9L2243.8 1452.5M2207.1 1442.8L2243.7 1452.5M2207.9 1441.6L2244.1 1454.5M2282.3 1459.6L2296.3 1460.5M2280.7 1459.4L2296.6 1460.3M2281.5 1457.7L2295.4 1460.8M2280.4 1458.2L2296.7 1458.7M2280.6 1458.2L2296.6 1458.3M2281.1 1459.4L2296.4 1458.9" fill="none" stroke="#000" stroke-width="1.1"/>
<g fill="#ff9900"><circle cx="1506.5" cy="1222.5" r="11.7"/><circle cx="1520.9" cy="1239.2" r="11.7"/><circle cx="1561.5" cy="1244.0" r="11.7"/><circle cx="1493.4" cy="1217.7" r="11.7"/></g>
<g fill="#7b00ff"><circle cx="1615.3" cy="1098.2" r="11.7"/><circle cx="1629.6" cy="1091.1" r="11.7"/><circle cx="1648.7" cy="1082.7" r="11.7"/><circle cx="1660.7" cy="1091.1" r="11.7"/><circle cx="1672.6" cy="1098.2" r="11.7"/><circle cx="1643.9" cy="1098.2" r="11.7"/><circle cx="1655.9" cy="1100.6" r="11.7"/><circle cx="1632.0" cy="1103.0" r="11.7"/><circle cx="1623.6" cy="1118.6" r="11.7"/><circle cx="1634.4" cy="1129.3" r="11.7"/><circle cx="1643.9" cy="1136.5" r="11.7"/><circle cx="1498.2" cy="1138.9" r="11.7"/><circle cx="1519.7" cy="1129.3" r="11.7"/><circle cx="1531.6" cy="1130.5" r="11.7"/><circle cx="1541.2" cy="1138.9" r="11.7"/><circle cx="1569.9" cy="1134.1" r="11.7"/><circle cx="1586.6" cy="1131.7" r="11.7"/><circle cx="1600.9" cy="1141.3" r="11.7"/><circle cx="1612.9" cy="1143.6" r="11.7"/><circle cx="1665.5" cy="1138.9" r="11.7"/><circle cx="1670.2" cy="1150.8" r="11.7"/><circle cx="1684.6" cy="1159.2" r="11.7"/><circle cx="1658.3" cy="1155.6" r="11.7"/><circle cx="1663.1" cy="1174.7" r="11.7"/><circle cx="1655.9" cy="1189.0" r="11.7"/><circle cx="1658.3" cy="1199.8" r="11.7"/><circle cx="1636.8" cy="1205.8" r="11.7"/><circle cx="1620.0" cy="1215.3" r="11.7"/><circle cx="1643.9" cy="1172.3" r="11.7"/><circle cx="1632.0" cy="1160.4" r="11.7"/><circle cx="1617.7" cy="1160.4" r="11.7"/><circle cx="1600.9" cy="1160.4" r="11.7"/><circle cx="1584.2" cy="1155.6" r="11.7"/><circle cx="1565.1" cy="1153.2" r="11.7"/><circle cx="1548.4" cy="1155.6" r="11.7"/><circle cx="1531.6" cy="1150.8" r="11.7"/><circle cx="1514.9" cy="1150.8" r="11.7"/><circle cx="1502.9" cy="1155.6" r="11.7"/><circle cx="1646.3" cy="1150.8" r="11.7"/><circle cx="1632.0" cy="1184.3" r="11.7"/><circle cx="1639.2" cy="1193.8" r="11.7"/><circle cx="1421.7" cy="1152.0" r="11.7"/><circle cx="1437.2" cy="1148.4" r="11.7"/><circle cx="1416.9" cy="1160.4" r="11.7"/><circle cx="1431.3" cy="1167.5" r="11.7"/><circle cx="1450.4" cy="1160.4" r="11.7"/><circle cx="1469.5" cy="1160.4" r="11.7"/><circle cx="1483.8" cy="1160.4" r="11.7"/><circle cx="1412.1" cy="1179.5" r="11.7"/><circle cx="1384.7" cy="1191.4" r="11.7"/><circle cx="1391.8" cy="1196.2" r="11.7"/><circle cx="1407.4" cy="1198.6" r="11.7"/><circle cx="1428.9" cy="1205.8" r="11.7"/><circle cx="1421.7" cy="1189.0" r="11.7"/><circle cx="1440.8" cy="1184.3" r="11.7"/><circle cx="1457.5" cy="1179.5" r="11.7"/><circle cx="1474.3" cy="1177.1" r="11.7"/><circle cx="1493.4" cy="1172.3" r="11.7"/><circle cx="1450.4" cy="1201.0" r="11.7"/><circle cx="1448.0" cy="1220.1" r="11.7"/><circle cx="1464.7" cy="1215.3" r="11.7"/><circle cx="1481.4" cy="1203.4" r="11.7"/><circle cx="1402.6" cy="1184.3" r="11.7"/><circle cx="1464.7" cy="1196.2" r="11.7"/><circle cx="1505.3" cy="1184.3" r="11.7"/><circle cx="1522.1" cy="1174.7" r="11.7"/><circle cx="1541.2" cy="1172.3" r="11.7"/><circle cx="1560.3" cy="1174.7" r="11.7"/><circle cx="1577.0" cy="1193.8" r="11.7"/><circle cx="1593.8" cy="1203.4" r="11.7"/><circle cx="1608.1" cy="1201.0" r="11.7"/><circle cx="1624.8" cy="1193.8" r="11.7"/><circle cx="1517.3" cy="1203.4" r="11.7"/><circle cx="1536.4" cy="1198.6" r="11.7"/><circle cx="1555.5" cy="1203.4" r="11.7"/><circle cx="1574.6" cy="1212.9" r="11.7"/><circle cx="1589.0" cy="1222.5" r="11.7"/><circle cx="1579.4" cy="1232.1" r="11.7"/><circle cx="1560.3" cy="1227.3" r="11.7"/><circle cx="1541.2" cy="1222.5" r="11.7"/><circle cx="1526.8" cy="1217.7" r="11.7"/><circle cx="1546.0" cy="1241.6" r="11.7"/><circle cx="1565.1" cy="1236.8" r="11.7"/><circle cx="1483.8" cy="1227.3" r="11.7"/><circle cx="1498.2" cy="1232.1" r="11.7"/><circle cx="1469.5" cy="1234.5" r="11.7"/><circle cx="1448.0" cy="1241.6" r="11.7"/><circle cx="1464.7" cy="1241.6" r="11.7"/><circle cx="1479.0" cy="1241.6" r="11.7"/><circle cx="1565.1" cy="1189.0" r="11.7"/><circle cx="1589.0" cy="1167.5" r="11.7"/><circle cx="1574.6" cy="1167.5" r="11.7"/><circle cx="1555.5" cy="1189.0" r="11.7"/><circle cx="1536.4" cy="1184.3" r="11.7"/><circle cx="1498.2" cy="1203.4" r="11.7"/><circle cx="1488.6" cy="1217.7" r="11.7"/><circle cx="1600.9" cy="1215.3" r="11.7"/><circle cx="1610.5" cy="1205.8" r="11.7"/><circle cx="1546.0" cy="1232.1" r="11.7"/><circle cx="1508.8" cy="1138.6" r="11.7"/><circle cx="1517.6" cy="1138.2" r="11.7"/><circle cx="1531.0" cy="1137.7" r="11.7"/><circle cx="1541.5" cy="1138.0" r="11.7"/><circle cx="1575.5" cy="1137.7" r="11.7"/><circle cx="1583.9" cy="1139.1" r="11.7"/><circle cx="1500.2" cy="1147.3" r="11.7"/><circle cx="1513.6" cy="1143.7" r="11.7"/><circle cx="1523.8" cy="1144.7" r="11.7"/><circle cx="1532.6" cy="1144.2" r="11.7"/><circle cx="1545.2" cy="1144.5" r="11.7"/><circle cx="1555.6" cy="1143.7" r="11.7"/><circle cx="1568.2" cy="1145.6" r="11.7"/><circle cx="1580.1" cy="1146.7" r="11.7"/><circle cx="1589.2" cy="1148.5" r="11.7"/><circle cx="1599.0" cy="1145.7" r="11.7"/><circle cx="1611.6" cy="1145.7" r="11.7"/><circle cx="1668.9" cy="1148.8" r="11.7"/><circle cx="1420.5" cy="1153.1" r="11.7"/><circle cx="1427.3" cy="1156.2" r="11.7"/><circle cx="1441.2" cy="1153.9" r="11.7"/><circle cx="1498.7" cy="1158.2" r="11.7"/><circle cx="1507.8" cy="1154.5" r="11.7"/><circle cx="1521.1" cy="1155.8" r="11.7"/><circle cx="1529.0" cy="1154.9" r="11.7"/><circle cx="1543.3" cy="1155.8" r="11.7"/><circle cx="1550.6" cy="1155.7" r="11.7"/><circle cx="1560.8" cy="1156.5" r="11.7"/><circle cx="1573.7" cy="1154.7" r="11.7"/><circle cx="1586.6" cy="1157.7" r="11.7"/><circle cx="1593.5" cy="1156.0" r="11.7"/><circle cx="1606.1" cy="1158.3" r="11.7"/><circle cx="1620.0" cy="1154.4" r="11.7"/><circle cx="1628.3" cy="1153.9" r="11.7"/><circle cx="1643.4" cy="1154.7" r="11.7"/><circle cx="1652.4" cy="1155.7" r="11.7"/><circle cx="1663.7" cy="1156.4" r="11.7"/><circle cx="1423.7" cy="1167.8" r="11.7"/><circle cx="1437.2" cy="1165.7" r="11.7"/><circle cx="1443.4" cy="1167.0" r="11.7"/><circle cx="1456.9" cy="1165.9" r="11.7"/><circle cx="1469.5" cy="1166.2" r="11.7"/><circle cx="1479.4" cy="1167.8" r="11.7"/><circle cx="1490.0" cy="1164.9" r="11.7"/><circle cx="1503.7" cy="1163.8" r="11.7"/><circle cx="1511.7" cy="1167.3" r="11.7"/><circle cx="1521.5" cy="1167.4" r="11.7"/><circle cx="1536.1" cy="1165.1" r="11.7"/><circle cx="1545.0" cy="1167.0" r="11.7"/><circle cx="1559.6" cy="1163.5" r="11.7"/><circle cx="1568.3" cy="1165.8" r="11.7"/><circle cx="1579.5" cy="1164.5" r="11.7"/><circle cx="1588.7" cy="1166.0" r="11.7"/><circle cx="1603.5" cy="1163.1" r="11.7"/><circle cx="1625.6" cy="1166.4" r="11.7"/><circle cx="1632.5" cy="1166.7" r="11.7"/><circle cx="1648.9" cy="1168.3" r="11.7"/><circle cx="1658.4" cy="1163.0" r="11.7"/><circle cx="1407.9" cy="1172.6" r="11.7"/><circle cx="1416.2" cy="1174.4" r="11.7"/><circle cx="1427.1" cy="1172.6" r="11.7"/><circle cx="1441.0" cy="1176.5" r="11.7"/><circle cx="1453.8" cy="1173.1" r="11.7"/><circle cx="1462.4" cy="1174.1" r="11.7"/><circle cx="1474.5" cy="1175.1" r="11.7"/><circle cx="1487.5" cy="1174.4" r="11.7"/><circle cx="1493.7" cy="1176.2" r="11.7"/><circle cx="1505.3" cy="1175.8" r="11.7"/><circle cx="1518.4" cy="1177.4" r="11.7"/><circle cx="1529.8" cy="1175.8" r="11.7"/><circle cx="1539.3" cy="1175.4" r="11.7"/><circle cx="1550.4" cy="1176.5" r="11.7"/><circle cx="1562.9" cy="1173.1" r="11.7"/><circle cx="1630.1" cy="1173.7" r="11.7"/><circle cx="1642.8" cy="1175.0" r="11.7"/><circle cx="1650.8" cy="1176.8" r="11.7"/><circle cx="1660.3" cy="1176.4" r="11.7"/><circle cx="1402.4" cy="1183.9" r="11.7"/><circle cx="1411.3" cy="1183.8" r="11.7"/><circle cx="1424.5" cy="1183.9" r="11.7"/><circle cx="1434.4" cy="1182.7" r="11.7"/><circle cx="1448.0" cy="1185.6" r="11.7"/><circle cx="1459.0" cy="1184.4" r="11.7"/><circle cx="1470.3" cy="1184.8" r="11.7"/><circle cx="1480.0" cy="1185.1" r="11.7"/><circle cx="1491.9" cy="1184.2" r="11.7"/><circle cx="1499.5" cy="1182.1" r="11.7"/><circle cx="1511.2" cy="1182.2" r="11.7"/><circle cx="1526.1" cy="1184.6" r="11.7"/><circle cx="1536.5" cy="1182.0" r="11.7"/><circle cx="1546.0" cy="1186.9" r="11.7"/><circle cx="1558.0" cy="1184.3" r="11.7"/><circle cx="1633.6" cy="1184.6" r="11.7"/><circle cx="1643.6" cy="1187.1" r="11.7"/><circle cx="1656.6" cy="1187.2" r="11.7"/><circle cx="1394.5" cy="1191.7" r="11.7"/><circle cx="1405.7" cy="1192.0" r="11.7"/><circle cx="1417.8" cy="1197.0" r="11.7"/><circle cx="1428.7" cy="1193.3" r="11.7"/><circle cx="1440.4" cy="1193.2" r="11.7"/><circle cx="1453.0" cy="1195.6" r="11.7"/><circle cx="1460.9" cy="1192.9" r="11.7"/><circle cx="1474.9" cy="1196.8" r="11.7"/><circle cx="1485.9" cy="1194.0" r="11.7"/><circle cx="1498.8" cy="1191.6" r="11.7"/><circle cx="1504.8" cy="1195.9" r="11.7"/><circle cx="1517.9" cy="1191.8" r="11.7"/><circle cx="1529.8" cy="1197.1" r="11.7"/><circle cx="1540.7" cy="1193.5" r="11.7"/><circle cx="1549.5" cy="1192.0" r="11.7"/><circle cx="1565.1" cy="1194.3" r="11.7"/><circle cx="1595.6" cy="1191.9" r="11.7"/><circle cx="1627.0" cy="1197.0" r="11.7"/><circle cx="1638.9" cy="1194.4" r="11.7"/><circle cx="1651.2" cy="1194.5" r="11.7"/><circle cx="1436.8" cy="1202.5" r="11.7"/><circle cx="1444.0" cy="1202.9" r="11.7"/><circle cx="1455.0" cy="1205.5" r="11.7"/><circle cx="1470.2" cy="1202.9" r="11.7"/><circle cx="1477.4" cy="1201.7" r="11.7"/><circle cx="1489.2" cy="1201.7" r="11.7"/><circle cx="1501.3" cy="1204.4" r="11.7"/><circle cx="1511.4" cy="1201.5" r="11.7"/><circle cx="1525.1" cy="1201.5" r="11.7"/><circle cx="1533.4" cy="1202.8" r="11.7"/><circle cx="1545.5" cy="1201.8" r="11.7"/><circle cx="1556.9" cy="1203.0" r="11.7"/><circle cx="1569.8" cy="1204.3" r="11.7"/><circle cx="1581.7" cy="1204.8" r="11.7"/><circle cx="1592.1" cy="1204.4" r="11.7"/><circle cx="1601.4" cy="1205.7" r="11.7"/><circle cx="1613.7" cy="1206.5" r="11.7"/><circle cx="1625.3" cy="1205.1" r="11.7"/><circle cx="1633.8" cy="1205.7" r="11.7"/><circle cx="1453.0" cy="1211.4" r="11.7"/><circle cx="1463.0" cy="1211.8" r="11.7"/><circle cx="1475.1" cy="1213.3" r="11.7"/><circle cx="1487.5" cy="1215.2" r="11.7"/><circle cx="1494.0" cy="1212.6" r="11.7"/><circle cx="1509.6" cy="1213.4" r="11.7"/><circle cx="1518.0" cy="1213.3" r="11.7"/><circle cx="1531.0" cy="1216.0" r="11.7"/><circle cx="1540.8" cy="1216.2" r="11.7"/><circle cx="1552.3" cy="1211.4" r="11.7"/><circle cx="1564.6" cy="1213.2" r="11.7"/><circle cx="1571.5" cy="1216.3" r="11.7"/><circle cx="1582.5" cy="1214.0" r="11.7"/><circle cx="1606.7" cy="1212.0" r="11.7"/><circle cx="1617.2" cy="1212.0" r="11.7"/><circle cx="1457.3" cy="1223.7" r="11.7"/><circle cx="1466.6" cy="1222.6" r="11.7"/><circle cx="1478.5" cy="1220.6" r="11.7"/><circle cx="1489.6" cy="1222.6" r="11.7"/><circle cx="1501.6" cy="1224.4" r="11.7"/><circle cx="1536.1" cy="1224.2" r="11.7"/><circle cx="1546.4" cy="1224.9" r="11.7"/><circle cx="1556.5" cy="1223.8" r="11.7"/><circle cx="1569.4" cy="1223.4" r="11.7"/><circle cx="1578.3" cy="1220.9" r="11.7"/><circle cx="1588.3" cy="1222.4" r="11.7"/><circle cx="1452.8" cy="1233.2" r="11.7"/><circle cx="1464.0" cy="1232.2" r="11.7"/><circle cx="1476.1" cy="1231.3" r="11.7"/><circle cx="1484.0" cy="1231.6" r="11.7"/><circle cx="1542.5" cy="1235.0" r="11.7"/><circle cx="1553.0" cy="1232.4" r="11.7"/><circle cx="1562.4" cy="1233.0" r="11.7"/><circle cx="1576.2" cy="1231.8" r="11.7"/><circle cx="1546.4" cy="1241.8" r="11.7"/><circle cx="1450.0" cy="1279.0" r="11.7"/><circle cx="1473.8" cy="1280.2" r="11.7"/><circle cx="1445.0" cy="1287.0" r="11.7"/><circle cx="1456.6" cy="1287.0" r="11.7"/><circle cx="1465.2" cy="1291.9" r="11.7"/><circle cx="1477.9" cy="1288.6" r="11.7"/><circle cx="1646.7" cy="1090.5" r="11.7"/><circle cx="1658.6" cy="1088.9" r="11.7"/><circle cx="1621.3" cy="1098.5" r="11.7"/><circle cx="1633.8" cy="1097.5" r="11.7"/><circle cx="1651.4" cy="1099.6" r="11.7"/><circle cx="1661.9" cy="1100.6" r="11.7"/></g>
<g fill="#ff9900"><circle cx="1506.5" cy="1222.5" r="11.7"/><circle cx="1520.9" cy="1239.2" r="11.7"/></g>
<g fill="#7b00ff"><circle cx="1526.8" cy="1227.3" r="11.7"/><circle cx="1502.9" cy="1241.6" r="11.7"/><circle cx="1491.0" cy="1239.2" r="11.7"/><circle cx="1444.4" cy="1258.4" r="11.7"/><circle cx="1433.6" cy="1276.3" r="11.7"/><circle cx="1448.0" cy="1275.1" r="11.7"/><circle cx="1445.6" cy="1291.8" r="11.7"/><circle cx="1462.3" cy="1282.3" r="11.7"/><circle cx="1479.0" cy="1265.5" r="11.7"/><circle cx="1483.8" cy="1287.0" r="11.7"/><circle cx="1474.3" cy="1301.4" r="11.7"/><circle cx="1459.9" cy="1296.6" r="11.7"/><circle cx="1471.9" cy="1275.1" r="11.7"/></g>
<g fill="#ff9900"><circle cx="1691.7" cy="1254.8" r="11.7"/><circle cx="1682.2" cy="1272.7" r="11.7"/><circle cx="1728.8" cy="1296.6" r="11.7"/></g>
<g fill="#ff00bf"><circle cx="1537.6" cy="1299.5" r="11.7"/></g>
<g fill="#ff9900"><circle cx="1728.9" cy="1296.6" r="11.7"/><circle cx="1909.8" cy="1250.0" r="11.7"/><circle cx="1796.8" cy="1262.4" r="11.7"/><circle cx="1793.3" cy="1272.1" r="11.7"/><circle cx="1763.0" cy="1278.5" r="11.7"/><circle cx="1775.4" cy="1280.5" r="11.7"/><circle cx="1786.4" cy="1278.3" r="11.7"/><circle cx="1798.8" cy="1281.0" r="11.7"/><circle cx="1810.3" cy="1281.6" r="11.7"/><circle cx="1816.5" cy="1280.3" r="11.7"/><circle cx="1851.2" cy="1282.1" r="11.7"/><circle cx="1769.6" cy="1288.1" r="11.7"/><circle cx="1782.5" cy="1286.9" r="11.7"/><circle cx="1789.2" cy="1288.1" r="11.7"/><circle cx="1803.9" cy="1289.3" r="11.7"/><circle cx="1813.6" cy="1291.3" r="11.7"/><circle cx="1824.2" cy="1290.6" r="11.7"/><circle cx="1833.1" cy="1290.6" r="11.7"/><circle cx="1845.1" cy="1289.9" r="11.7"/><circle cx="1860.0" cy="1289.9" r="11.7"/><circle cx="1869.7" cy="1289.3" r="11.7"/><circle cx="1776.3" cy="1297.7" r="11.7"/><circle cx="1787.9" cy="1301.3" r="11.7"/><circle cx="1797.9" cy="1298.1" r="11.7"/><circle cx="1806.8" cy="1296.6" r="11.7"/><circle cx="1817.9" cy="1301.4" r="11.7"/><circle cx="1827.9" cy="1300.9" r="11.7"/><circle cx="1842.5" cy="1300.2" r="11.7"/><circle cx="1850.3" cy="1299.4" r="11.7"/><circle cx="1862.0" cy="1299.6" r="11.7"/><circle cx="1791.2" cy="1308.8" r="11.7"/><circle cx="1802.2" cy="1307.8" r="11.7"/><circle cx="1816.0" cy="1310.9" r="11.7"/><circle cx="1747.8" cy="1274.4" r="11.7"/><circle cx="1776.5" cy="1272.0" r="11.7"/><circle cx="1796.8" cy="1262.4" r="11.7"/><circle cx="1888.8" cy="1278.0" r="11.7"/><circle cx="1867.3" cy="1306.7" r="11.7"/><circle cx="1812.3" cy="1312.6" r="11.7"/><circle cx="1776.5" cy="1309.0" r="11.7"/><circle cx="1769.3" cy="1294.7" r="11.7"/><circle cx="1843.4" cy="1280.4" r="11.7"/><circle cx="1867.3" cy="1282.8" r="11.7"/><circle cx="1969.5" cy="1226.4" r="11.7"/><circle cx="1981.3" cy="1229.1" r="11.7"/><circle cx="1963.6" cy="1238.2" r="11.7"/><circle cx="1972.8" cy="1238.8" r="11.7"/><circle cx="1987.5" cy="1240.3" r="11.7"/><circle cx="1958.2" cy="1250.8" r="11.7"/><circle cx="1969.7" cy="1246.4" r="11.7"/><circle cx="1980.2" cy="1247.0" r="11.7"/><circle cx="1988.7" cy="1245.7" r="11.7"/><circle cx="1940.3" cy="1259.3" r="11.7"/><circle cx="1951.4" cy="1255.4" r="11.7"/><circle cx="1960.1" cy="1256.3" r="11.7"/><circle cx="1974.8" cy="1260.4" r="11.7"/><circle cx="1985.0" cy="1255.8" r="11.7"/><circle cx="1933.5" cy="1269.8" r="11.7"/><circle cx="1948.1" cy="1267.3" r="11.7"/><circle cx="1955.6" cy="1265.9" r="11.7"/><circle cx="1969.2" cy="1269.4" r="11.7"/><circle cx="1981.4" cy="1266.0" r="11.7"/><circle cx="1951.4" cy="1277.7" r="11.7"/><circle cx="1962.7" cy="1277.2" r="11.7"/><circle cx="1923.4" cy="1273.2" r="11.7"/><circle cx="1933.0" cy="1257.7" r="11.7"/><circle cx="1954.5" cy="1232.6" r="11.7"/><circle cx="1962.9" cy="1226.6" r="11.7"/><circle cx="1978.4" cy="1221.8" r="11.7"/><circle cx="1986.8" cy="1223.0" r="11.7"/><circle cx="1995.1" cy="1237.4" r="11.7"/><circle cx="1992.8" cy="1249.3" r="11.7"/><circle cx="1995.1" cy="1275.6" r="11.7"/><circle cx="1990.4" cy="1280.4" r="11.7"/><circle cx="1956.9" cy="1281.6" r="11.7"/><circle cx="1939.0" cy="1274.4" r="11.7"/><circle cx="1974.8" cy="1274.4" r="11.7"/></g>
<g fill="#004dff"><circle cx="1778.4" cy="1340.5" r="11.7"/><circle cx="1791.4" cy="1338.9" r="11.7"/><circle cx="1802.1" cy="1339.8" r="11.7"/><circle cx="1815.8" cy="1338.0" r="11.7"/><circle cx="1823.2" cy="1341.8" r="11.7"/><circle cx="1839.0" cy="1336.4" r="11.7"/><circle cx="1777.3" cy="1346.2" r="11.7"/><circle cx="1789.1" cy="1346.4" r="11.7"/><circle cx="1799.3" cy="1350.6" r="11.7"/><circle cx="1809.8" cy="1348.1" r="11.7"/><circle cx="1817.7" cy="1346.4" r="11.7"/><circle cx="1831.9" cy="1347.2" r="11.7"/><circle cx="1842.5" cy="1347.4" r="11.7"/><circle cx="1815.1" cy="1357.6" r="11.7"/><circle cx="1848.3" cy="1358.4" r="11.7"/><circle cx="1859.1" cy="1356.6" r="11.7"/><circle cx="1882.6" cy="1358.0" r="11.7"/><circle cx="1759.7" cy="1342.5" r="11.7"/><circle cx="1774.1" cy="1353.3" r="11.7"/><circle cx="1776.5" cy="1337.7" r="11.7"/><circle cx="1795.6" cy="1335.3" r="11.7"/><circle cx="1808.7" cy="1359.2" r="11.7"/><circle cx="1830.2" cy="1331.8" r="11.7"/><circle cx="1841.0" cy="1335.3" r="11.7"/><circle cx="1843.4" cy="1359.2" r="11.7"/><circle cx="1885.2" cy="1352.1" r="11.7"/><circle cx="1878.0" cy="1366.4" r="11.7"/><circle cx="1898.4" cy="1371.2" r="11.7"/><circle cx="1867.3" cy="1358.0" r="11.7"/><circle cx="1819.5" cy="1356.8" r="11.7"/><circle cx="1948.6" cy="1374.8" r="11.7"/><circle cx="1958.3" cy="1372.8" r="11.7"/><circle cx="1973.3" cy="1372.6" r="11.7"/><circle cx="1930.7" cy="1384.9" r="11.7"/><circle cx="1946.1" cy="1384.6" r="11.7"/><circle cx="1953.6" cy="1380.9" r="11.7"/><circle cx="1967.6" cy="1385.7" r="11.7"/><circle cx="1978.4" cy="1384.6" r="11.7"/><circle cx="1990.7" cy="1383.5" r="11.7"/><circle cx="2001.6" cy="1382.0" r="11.7"/><circle cx="2007.9" cy="1385.2" r="11.7"/><circle cx="2022.5" cy="1385.0" r="11.7"/><circle cx="2030.5" cy="1382.2" r="11.7"/><circle cx="2053.8" cy="1383.9" r="11.7"/><circle cx="1924.4" cy="1391.6" r="11.7"/><circle cx="1936.8" cy="1391.4" r="11.7"/><circle cx="1947.3" cy="1390.9" r="11.7"/><circle cx="1984.4" cy="1391.6" r="11.7"/><circle cx="2004.9" cy="1390.7" r="11.7"/><circle cx="2029.1" cy="1395.5" r="11.7"/><circle cx="1905.5" cy="1385.5" r="11.7"/><circle cx="1915.1" cy="1390.3" r="11.7"/><circle cx="1929.4" cy="1393.9" r="11.7"/><circle cx="1948.5" cy="1398.7" r="11.7"/><circle cx="1949.7" cy="1366.4" r="11.7"/><circle cx="1967.7" cy="1366.4" r="11.7"/><circle cx="2002.3" cy="1373.6" r="11.7"/><circle cx="2031.0" cy="1399.9" r="11.7"/><circle cx="2060.9" cy="1379.5" r="11.7"/><circle cx="2066.1" cy="1398.0" r="11.7"/><circle cx="2047.7" cy="1379.5" r="11.7"/><circle cx="1974.8" cy="1393.9" r="11.7"/><circle cx="1991.6" cy="1392.7" r="11.7"/><circle cx="2010.7" cy="1390.3" r="11.7"/><circle cx="1929.4" cy="1383.1" r="11.7"/><circle cx="2025.0" cy="1380.7" r="11.7"/><circle cx="1714.3" cy="1376.0" r="11.7"/><circle cx="1700.0" cy="1383.1" r="11.7"/><circle cx="1716.7" cy="1387.9" r="11.7"/><circle cx="1700.0" cy="1395.1" r="11.7"/><circle cx="1709.6" cy="1378.4" r="11.7"/><circle cx="1787.7" cy="1383.1" r="11.7"/><circle cx="2207.7" cy="1442.2" r="11.7"/><circle cx="2250.3" cy="1449.4" r="11.7"/><circle cx="2245.5" cy="1455.3" r="11.7"/><circle cx="2255.0" cy="1460.1" r="11.7"/><circle cx="2263.4" cy="1460.1" r="11.7"/><circle cx="2275.3" cy="1457.7" r="11.7"/><circle cx="2301.6" cy="1458.9" r="11.7"/><circle cx="2317.2" cy="1464.9" r="11.7"/><circle cx="2333.9" cy="1462.5" r="11.7"/><circle cx="2350.1" cy="1464.4" r="11.7"/><circle cx="2318.4" cy="1475.7" r="11.7"/><circle cx="2325.5" cy="1473.3" r="11.7"/></g>
<g fill="#ff0028"><circle cx="2111.6" cy="917.0" r="11.7"/><circle cx="2110.4" cy="926.1" r="11.7"/><circle cx="2123.6" cy="911.1" r="11.7"/><circle cx="2130.8" cy="906.8" r="11.7"/><circle cx="2128.4" cy="923.0" r="11.7"/><circle cx="2140.3" cy="918.2" r="11.7"/><circle cx="2149.9" cy="908.7" r="11.7"/><circle cx="2153.5" cy="915.8" r="11.7"/><circle cx="2147.0" cy="929.0" r="11.7"/><circle cx="2135.5" cy="913.5" r="11.7"/><circle cx="2399.6" cy="1142.9" r="11.7"/><circle cx="2408.0" cy="1146.5" r="11.7"/><circle cx="2410.4" cy="1152.4" r="11.7"/><circle cx="2399.6" cy="1154.8" r="11.7"/><circle cx="2403.2" cy="1148.9" r="11.7"/></g>
<g fill="#9cff00"><circle cx="1861.2" cy="1046.8" r="11.7"/><circle cx="1882.4" cy="1044.2" r="11.7"/><circle cx="1897.3" cy="1046.3" r="11.7"/><circle cx="1906.6" cy="1048.5" r="11.7"/><circle cx="1899.0" cy="1057.4" r="11.7"/><circle cx="1880.3" cy="1064.6" r="11.7"/><circle cx="1864.6" cy="1064.2" r="11.7"/><circle cx="1874.8" cy="1054.0" r="11.7"/><circle cx="1889.2" cy="1054.0" r="11.7"/></g>
<g fill="#00ff25"><circle cx="1386.3" cy="1372.0" r="11.7"/></g>
<g fill="#00ffec"><circle cx="1365.9" cy="1373.3" r="11.7"/><circle cx="1387.6" cy="1368.6" r="11.7"/><circle cx="1391.0" cy="1361.0" r="11.7"/></g>
<g fill="#00ff25"><circle cx="1367.6" cy="1356.3" r="11.7"/><circle cx="1384.6" cy="1351.6" r="11.7"/><circle cx="1387.6" cy="1357.6" r="11.7"/><circle cx="1379.9" cy="1364.4" r="11.7"/><circle cx="1402.9" cy="1352.5" r="11.7"/><circle cx="1418.6" cy="1337.6" r="11.7"/><circle cx="1423.3" cy="1348.7" r="11.7"/><circle cx="1408.0" cy="1347.4" r="11.7"/></g></g>
<g id="pe"><path d="M804.3 1791.4L878.4 1808.1M929.0 1917.6L1027.7 2018.9M1027.7 2018.9L1095.8 2010.0M1027.7 2018.9L1098.2 2014.8M1027.7 2018.9L1110.2 2023.2M1027.7 2018.9L1105.4 2012.4M929.0 1917.6L911.8 1883.4M929.0 1917.6L930.9 1878.6M929.0 1917.6L941.7 1887.0M929.0 1917.6L902.3 1904.9M929.0 1917.6L899.9 1907.3M929.0 1917.6L898.7 1909.7M905.4 1874.5L883.1 1857.1M905.4 1874.5L885.5 1864.3M905.4 1874.5L883.1 1873.8M905.4 1874.5L890.3 1847.5M905.4 1874.5L892.7 1852.3M905.4 1874.5L880.7 1877.4M905.4 1874.5L871.2 1879.8M991.4 1909.7L957.2 1881.0M991.4 1909.7L962.0 1878.6M991.4 1909.7L966.8 1876.2M991.4 1909.7L969.2 1873.8M991.4 1909.7L959.6 1883.4M991.4 1909.7L964.4 1881.0M991.4 1909.7L995.5 1938.4M991.4 1909.7L1002.6 1938.4M991.4 1909.7L1014.6 1943.1M991.4 1909.7L1024.1 1944.3M991.4 1909.7L999.0 1939.5M991.4 1909.7L1019.4 1943.1M895.1 1883.4L887.9 1892.9M890.3 1845.2L895.1 1852.3M1039.1 2018.8L1096.5 2009.2M1039.1 2020.0L1110.8 2023.6M1039.1 2017.6L1223.1 1994.9M1039.1 2018.3L1225.5 1992.5M1139.5 2006.8L1225.5 1994.9M1144.3 2009.2L1227.9 1997.3M1316.3 1997.3L1318.7 2011.6M1392.8 1999.7L1402.4 1999.7M1348.5 2038.2L1368.3 2045.8M1350.4 2034.8L1366.6 2047.5M1348.6 2036.0L1371.3 2044.9M1351.4 2037.7L1369.6 2042.6M1350.4 2040.6L1369.0 2046.8M1350.6 2034.8L1370.1 2045.7M1348.8 2034.6L1370.7 2044.9M1350.8 2040.6L1369.9 2048.1M1349.3 2040.1L1368.6 2048.2M1351.6 2035.0L1367.2 2043.1M1413.1 2039.8L1430.5 2035.4M1412.2 2042.0L1433.0 2040.1M1415.6 2040.7L1431.2 2036.3M1412.8 2039.9L1429.7 2041.0M1415.9 2044.9L1432.5 2035.7M1413.4 2043.6L1432.2 2040.5M1416.1 2039.7L1431.6 2039.1M1414.3 2040.4L1430.9 2035.0M1416.4 2045.3L1431.3 2036.5M1416.3 2043.2L1432.9 2040.4M1424.5 2064.1L1451.6 2075.6M1425.0 2065.8L1447.9 2071.0M1426.0 2063.2L1452.1 2067.7M1423.7 2059.4L1450.4 2072.1M1421.5 2059.1L1449.1 2075.4M1425.1 2058.6L1451.6 2067.9M1424.4 2058.2L1447.8 2074.9M1422.5 2059.1L1452.5 2074.9M1422.9 2066.2L1450.4 2073.1M1422.5 2066.0L1451.1 2075.8M1425.8 2059.9L1449.5 2068.2M1422.2 2057.7L1449.2 2072.4M1392.8 1997.3L1431.0 2028.4M1421.5 2009.2L1469.3 2069.0M1423.9 2009.2L1459.7 2059.4M1457.3 2040.3L1470.0 2045.1M1316.3 1906.5L1321.1 1908.9M1342.6 1910.1L1349.8 1908.9M1435.3 1907.8L1447.6 1899.5M1423.9 1904.8L1447.5 1909.0M1429.2 1906.9L1445.6 1909.9M1434.3 1900.1L1448.1 1907.6M1426.6 1902.7L1450.7 1899.6M1435.4 1905.2L1451.1 1900.9M1425.2 1907.4L1450.7 1903.0M1425.2 1895.9L1449.1 1900.1M1437.5 1903.4L1444.9 1907.1M1429.0 1910.0L1451.7 1904.4M1433.1 1905.5L1450.7 1913.2M1424.3 1899.0L1448.7 1900.3M1432.3 1893.8L1451.4 1904.6M1425.6 1904.8L1446.0 1898.3M1495.6 1930.4L1650.9 2100.0M1498.0 1929.2L1653.3 2098.9M1529.0 1959.0L1629.4 2069.0M1531.4 1957.9L1634.2 2069.0M1533.8 1960.2L1639.0 2078.5M1557.7 1997.3L1615.1 2069.0M1560.1 1997.3L1622.3 2069.0M1562.5 1998.5L1629.4 2071.4M1507.5 2014.0L1567.3 2057.0M1505.2 2016.4L1564.9 2066.6M1495.6 2018.8L1567.3 2059.4M1471.7 2016.4L1562.5 2059.4M1455.0 2040.3L1567.3 2083.3M1455.0 2042.7L1572.1 2097.7M1495.6 2080.9L1567.3 2116.8M1502.8 2083.3L1567.3 2064.2M1495.6 2083.3L1572.1 2092.9M1500.4 2085.7L1574.5 2102.4M1490.8 2088.1L1567.3 2112.0M1481.3 1971.0L1507.5 1957.9M1483.6 1973.4L1509.9 1960.2M1514.7 2002.1L1639.0 1985.3M1447.8 1973.4L1627.0 1975.8M1400.0 1992.5L1459.7 2069.0M1400.0 1997.3L1447.8 2069.0M1423.9 2011.6L1455.0 2069.0M1455.0 2037.9L1564.9 2069.0M1758.5 1985.3L1765.6 1987.7M1603.1 2078.5L1610.3 2083.3M1505.5 1989.6L1627.4 1983.2M1506.6 1992.4L1627.8 1982.9M1505.3 1988.9L1625.8 1988.6M1507.5 1986.9L1628.8 1986.1M1504.6 1988.6L1627.9 1985.0M1506.0 1991.3L1625.3 1987.3M1507.5 1993.5L1627.6 1982.1M1502.8 1987.5L1629.1 1983.9M1504.5 1993.0L1626.1 1985.7M1504.8 1987.0L1627.4 1987.8M1503.5 1988.1L1626.6 1982.0M1505.1 1992.4L1627.8 1985.6M1506.8 1987.6L1627.4 1984.4M1505.6 1987.3L1628.3 1982.4M1400.0 1894.2L1451.9 1906.0M1400.0 1894.6L1444.8 1906.6M1400.0 1897.5L1443.9 1903.7M1400.0 1897.8L1449.6 1899.9M1400.0 1900.0L1449.3 1908.1M1400.0 1886.4L1448.1 1900.2M1400.0 1889.6L1443.3 1906.0M1400.0 1898.2L1448.0 1908.5M1400.0 1895.7L1447.4 1903.3M1400.0 1900.4L1451.0 1909.5M1400.0 1889.5L1445.8 1900.3M1400.0 1891.9L1451.1 1904.8M1400.0 1898.3L1443.0 1902.3M1400.0 1892.9L1452.4 1905.0M1419.0 2060.9L1448.6 2070.3M1416.8 2058.2L1446.7 2076.7M1420.0 2060.4L1448.1 2075.3M1417.4 2058.8L1446.2 2077.6M1417.0 2062.5L1445.8 2075.5M1418.3 2058.5L1449.4 2069.2M1417.0 2063.4L1447.8 2069.9M1421.4 2063.7L1445.9 2073.0M1417.4 2057.6L1448.4 2070.5M1420.1 2055.1L1446.2 2076.8M1418.6 2058.6L1448.3 2073.5M1418.6 2054.9L1448.9 2078.2M1400.0 2042.8L1427.2 2039.6M1400.0 2039.6L1424.6 2036.6M1400.0 2038.8L1426.4 2036.5M1400.0 2041.0L1427.9 2038.4M1400.0 2039.9L1424.6 2039.7M1400.0 2043.7L1427.8 2039.1M1400.0 2043.6L1425.1 2039.6M1400.0 2043.3L1426.6 2037.6M1488.9 1931.3L1513.0 1944.4M1489.7 1929.2L1513.4 1943.1M1489.9 1931.3L1511.8 1943.6M1489.0 1929.0L1514.2 1941.6M1489.7 1931.8L1513.0 1940.6M1491.1 1931.2L1510.7 1943.0M1489.0 1929.6L1510.3 1940.9M1493.1 1929.9L1514.7 1942.0M1641.2 2090.5L1665.1 2103.2M1641.3 2090.6L1666.5 2105.7M1640.7 2095.3L1660.4 2104.1M1640.0 2091.8L1660.6 2103.5M1640.7 2094.7L1665.7 2103.5M1641.0 2092.9L1660.3 2104.6M1638.6 2090.9L1663.5 2104.2M1639.3 2094.9L1664.3 2104.4M1643.8 2088.4L1696.3 2117.1M1646.1 2087.2L1698.7 2115.9M1648.5 2089.6L1697.5 2118.3M1603.8 2082.3L1609.2 2084.2M1602.7 2083.2L1608.3 2082.8M1602.2 2080.3L1608.4 2083.2M1601.6 2080.6L1608.4 2084.4M1602.0 2079.6L1608.0 2084.3M1602.7 2082.1L1610.3 2083.8M1601.6 2082.1L1610.1 2083.7M1603.7 2080.5L1610.7 2085.4M1027.7 2019.0L830.6 2061.3M1027.7 2019.0L836.5 2064.8M1027.7 2019.0L813.8 2065.6M785.5 2076.3L814.2 2066.0M785.7 2076.7L814.6 2066.1M786.4 2074.6L812.6 2065.5M786.6 2073.9L814.5 2065.0M785.7 2073.8L815.0 2066.9M787.2 2076.0L812.7 2065.4" fill="none" stroke="#000" stroke-width="1.1"/>
<g fill="#9cff00"><circle cx="731.4" cy="1783.0" r="11.7"/><circle cx="742.1" cy="1772.3" r="11.7"/><circle cx="756.5" cy="1771.1" r="11.7"/><circle cx="773.2" cy="1774.7" r="11.7"/><circle cx="740.9" cy="1790.2" r="11.7"/><circle cx="754.1" cy="1786.6" r="11.7"/><circle cx="766.0" cy="1783.0" r="11.7"/><circle cx="782.8" cy="1787.8" r="11.7"/><circle cx="792.3" cy="1791.4" r="11.7"/><circle cx="880.7" cy="1887.0" r="11.7"/></g>
<g fill="#7b00ff"><circle cx="831.8" cy="1908.5" r="11.7"/><circle cx="844.9" cy="1907.3" r="11.7"/><circle cx="859.2" cy="1906.1" r="11.7"/><circle cx="873.6" cy="1907.3" r="11.7"/><circle cx="887.9" cy="1907.3" r="11.7"/><circle cx="852.1" cy="1895.3" r="11.7"/><circle cx="868.8" cy="1895.3" r="11.7"/><circle cx="890.3" cy="1897.7" r="11.7"/></g>
<g fill="#9cff00"><circle cx="905.8" cy="1811.8" r="11.7"/><circle cx="918.1" cy="1810.2" r="11.7"/><circle cx="928.6" cy="1811.6" r="11.7"/><circle cx="886.0" cy="1820.5" r="11.7"/><circle cx="900.1" cy="1821.2" r="11.7"/><circle cx="909.4" cy="1819.9" r="11.7"/><circle cx="921.2" cy="1821.8" r="11.7"/><circle cx="932.4" cy="1819.7" r="11.7"/><circle cx="943.4" cy="1817.6" r="11.7"/><circle cx="882.3" cy="1832.6" r="11.7"/><circle cx="894.9" cy="1830.1" r="11.7"/><circle cx="906.5" cy="1828.4" r="11.7"/><circle cx="915.7" cy="1832.4" r="11.7"/><circle cx="927.2" cy="1829.7" r="11.7"/><circle cx="936.6" cy="1830.1" r="11.7"/><circle cx="910.5" cy="1837.8" r="11.7"/><circle cx="921.2" cy="1839.4" r="11.7"/><circle cx="931.5" cy="1838.7" r="11.7"/><circle cx="916.6" cy="1846.8" r="11.7"/><circle cx="924.1" cy="1846.4" r="11.7"/><circle cx="939.3" cy="1847.7" r="11.7"/><circle cx="930.1" cy="1861.0" r="11.7"/><circle cx="943.5" cy="1857.1" r="11.7"/><circle cx="955.1" cy="1860.5" r="11.7"/><circle cx="937.3" cy="1868.8" r="11.7"/><circle cx="948.0" cy="1869.1" r="11.7"/><circle cx="957.7" cy="1867.3" r="11.7"/><circle cx="884.3" cy="1818.9" r="11.7"/><circle cx="895.1" cy="1811.7" r="11.7"/><circle cx="905.8" cy="1810.5" r="11.7"/><circle cx="915.4" cy="1803.3" r="11.7"/><circle cx="928.5" cy="1808.1" r="11.7"/><circle cx="941.7" cy="1815.3" r="11.7"/><circle cx="946.5" cy="1822.4" r="11.7"/><circle cx="936.9" cy="1834.4" r="11.7"/><circle cx="950.0" cy="1854.7" r="11.7"/><circle cx="960.8" cy="1861.9" r="11.7"/><circle cx="958.4" cy="1870.2" r="11.7"/><circle cx="947.7" cy="1875.0" r="11.7"/><circle cx="935.7" cy="1869.0" r="11.7"/><circle cx="923.8" cy="1861.9" r="11.7"/><circle cx="909.4" cy="1847.5" r="11.7"/><circle cx="881.9" cy="1833.2" r="11.7"/><circle cx="919.0" cy="1823.6" r="11.7"/><circle cx="930.9" cy="1845.2" r="11.7"/><circle cx="837.3" cy="1857.0" r="11.7"/><circle cx="846.6" cy="1859.6" r="11.7"/><circle cx="858.6" cy="1857.2" r="11.7"/><circle cx="866.9" cy="1856.3" r="11.7"/><circle cx="787.4" cy="1865.8" r="11.7"/><circle cx="798.8" cy="1868.0" r="11.7"/><circle cx="807.3" cy="1867.0" r="11.7"/><circle cx="819.3" cy="1867.3" r="11.7"/><circle cx="828.5" cy="1865.2" r="11.7"/><circle cx="840.7" cy="1869.3" r="11.7"/><circle cx="852.5" cy="1864.5" r="11.7"/><circle cx="864.7" cy="1868.1" r="11.7"/><circle cx="803.7" cy="1875.1" r="11.7"/><circle cx="823.6" cy="1877.7" r="11.7"/><circle cx="832.5" cy="1875.7" r="11.7"/><circle cx="780.4" cy="1866.7" r="11.7"/><circle cx="794.7" cy="1866.7" r="11.7"/><circle cx="813.8" cy="1864.3" r="11.7"/><circle cx="825.8" cy="1859.5" r="11.7"/><circle cx="842.5" cy="1854.7" r="11.7"/><circle cx="861.6" cy="1849.9" r="11.7"/><circle cx="873.6" cy="1854.7" r="11.7"/><circle cx="871.2" cy="1866.7" r="11.7"/><circle cx="861.6" cy="1871.4" r="11.7"/><circle cx="844.9" cy="1873.8" r="11.7"/><circle cx="823.4" cy="1878.6" r="11.7"/><circle cx="804.3" cy="1876.2" r="11.7"/><circle cx="787.5" cy="1871.4" r="11.7"/><circle cx="832.9" cy="1869.0" r="11.7"/><circle cx="905.4" cy="1874.5" r="11.7"/><circle cx="889.8" cy="1904.4" r="11.7"/><circle cx="929.0" cy="1917.6" r="11.7"/><circle cx="991.4" cy="1909.7" r="11.7"/><circle cx="997.8" cy="1951.5" r="11.7"/><circle cx="1007.4" cy="1947.9" r="11.7"/><circle cx="1014.6" cy="1955.1" r="11.7"/><circle cx="1033.7" cy="1952.7" r="11.7"/><circle cx="1032.5" cy="1959.9" r="11.7"/><circle cx="1020.5" cy="1968.2" r="11.7"/><circle cx="1009.8" cy="1962.3" r="11.7"/></g>
<g fill="#00ffec"><circle cx="1027.7" cy="2018.9" r="11.7"/></g>
<g fill="#00ff25"><circle cx="1254.5" cy="2007.1" r="11.7"/><circle cx="1266.3" cy="2004.4" r="11.7"/><circle cx="1275.6" cy="2005.8" r="11.7"/><circle cx="1288.0" cy="2008.1" r="11.7"/><circle cx="1114.7" cy="2017.6" r="11.7"/><circle cx="1130.4" cy="2018.2" r="11.7"/><circle cx="1242.0" cy="2017.5" r="11.7"/><circle cx="1249.6" cy="2016.9" r="11.7"/><circle cx="1259.5" cy="2014.0" r="11.7"/><circle cx="1275.3" cy="2017.5" r="11.7"/><circle cx="1283.9" cy="2019.1" r="11.7"/><circle cx="1294.5" cy="2018.7" r="11.7"/><circle cx="1122.2" cy="2028.6" r="11.7"/><circle cx="1133.7" cy="2026.5" r="11.7"/><circle cx="1155.6" cy="2024.5" r="11.7"/><circle cx="1164.3" cy="2028.0" r="11.7"/><circle cx="1211.8" cy="2027.9" r="11.7"/><circle cx="1220.4" cy="2026.6" r="11.7"/><circle cx="1232.3" cy="2025.1" r="11.7"/><circle cx="1246.4" cy="2026.3" r="11.7"/><circle cx="1256.3" cy="2027.7" r="11.7"/><circle cx="1269.4" cy="2026.0" r="11.7"/><circle cx="1278.8" cy="2026.3" r="11.7"/><circle cx="1289.4" cy="2027.4" r="11.7"/><circle cx="1300.2" cy="2026.5" r="11.7"/><circle cx="1129.7" cy="2038.1" r="11.7"/><circle cx="1137.3" cy="2037.1" r="11.7"/><circle cx="1151.3" cy="2033.9" r="11.7"/><circle cx="1163.6" cy="2038.5" r="11.7"/><circle cx="1171.1" cy="2038.4" r="11.7"/><circle cx="1183.2" cy="2035.9" r="11.7"/><circle cx="1197.6" cy="2037.8" r="11.7"/><circle cx="1204.1" cy="2035.5" r="11.7"/><circle cx="1240.5" cy="2033.3" r="11.7"/><circle cx="1258.9" cy="2035.0" r="11.7"/><circle cx="1273.3" cy="2036.0" r="11.7"/><circle cx="1281.3" cy="2038.6" r="11.7"/><circle cx="1134.8" cy="2045.1" r="11.7"/><circle cx="1142.4" cy="2048.0" r="11.7"/><circle cx="1156.7" cy="2047.2" r="11.7"/><circle cx="1164.7" cy="2047.5" r="11.7"/><circle cx="1175.8" cy="2047.6" r="11.7"/><circle cx="1189.0" cy="2044.7" r="11.7"/><circle cx="1200.7" cy="2047.9" r="11.7"/><circle cx="1242.4" cy="2043.9" r="11.7"/><circle cx="1094.2" cy="2055.2" r="11.7"/><circle cx="1107.0" cy="2057.9" r="11.7"/><circle cx="1116.2" cy="2057.0" r="11.7"/><circle cx="1129.3" cy="2055.9" r="11.7"/><circle cx="1138.7" cy="2054.3" r="11.7"/><circle cx="1147.9" cy="2053.1" r="11.7"/><circle cx="1159.1" cy="2056.5" r="11.7"/><circle cx="1171.3" cy="2053.3" r="11.7"/><circle cx="1181.4" cy="2057.1" r="11.7"/><circle cx="1196.9" cy="2056.1" r="11.7"/><circle cx="1204.7" cy="2053.7" r="11.7"/><circle cx="1238.0" cy="2057.7" r="11.7"/><circle cx="1088.2" cy="2063.3" r="11.7"/><circle cx="1100.8" cy="2065.0" r="11.7"/><circle cx="1112.9" cy="2065.7" r="11.7"/><circle cx="1123.8" cy="2066.9" r="11.7"/><circle cx="1133.1" cy="2063.8" r="11.7"/><circle cx="1147.5" cy="2062.9" r="11.7"/><circle cx="1190.6" cy="2066.5" r="11.7"/><circle cx="1198.4" cy="2064.9" r="11.7"/><circle cx="1211.5" cy="2066.7" r="11.7"/><circle cx="1224.3" cy="2066.6" r="11.7"/><circle cx="1234.2" cy="2067.0" r="11.7"/><circle cx="1128.1" cy="2073.8" r="11.7"/><circle cx="1195.2" cy="2071.7" r="11.7"/><circle cx="1203.5" cy="2073.1" r="11.7"/><circle cx="1218.0" cy="2075.5" r="11.7"/><circle cx="1229.2" cy="2073.3" r="11.7"/><circle cx="1239.4" cy="2074.2" r="11.7"/></g>
<g fill="#ff9900"><circle cx="1230.3" cy="2006.8" r="11.7"/></g>
<g fill="#00ff25"><circle cx="1084.0" cy="2064.2" r="11.7"/><circle cx="1094.1" cy="2054.6" r="11.7"/><circle cx="1106.0" cy="2008.8" r="11.7"/><circle cx="1125.2" cy="2012.8" r="11.7"/><circle cx="1163.4" cy="2014.0" r="11.7"/><circle cx="1261.8" cy="1989.6" r="11.7"/><circle cx="1282.9" cy="2002.1" r="11.7"/><circle cx="1294.8" cy="2006.8" r="11.7"/><circle cx="1327.1" cy="2020.0" r="11.7"/><circle cx="1294.8" cy="2035.5" r="11.7"/><circle cx="1273.3" cy="2040.3" r="11.7"/><circle cx="1239.9" cy="2079.7" r="11.7"/><circle cx="1208.8" cy="2080.9" r="11.7"/><circle cx="1125.2" cy="2075.0" r="11.7"/><circle cx="1144.3" cy="2066.6" r="11.7"/><circle cx="1187.3" cy="2071.4" r="11.7"/><circle cx="1227.9" cy="2022.4" r="11.7"/><circle cx="1201.6" cy="2014.0" r="11.7"/><circle cx="1242.3" cy="2021.2" r="11.7"/></g>
<g fill="#ff9900"><circle cx="1183.7" cy="2009.7" r="11.7"/><circle cx="1286.8" cy="1882.8" r="11.7"/><circle cx="1299.3" cy="1884.4" r="11.7"/><circle cx="1343.9" cy="1883.1" r="11.7"/><circle cx="1357.0" cy="1881.9" r="11.7"/><circle cx="1272.0" cy="1893.6" r="11.7"/><circle cx="1284.6" cy="1892.2" r="11.7"/><circle cx="1294.0" cy="1891.6" r="11.7"/><circle cx="1304.1" cy="1890.7" r="11.7"/><circle cx="1316.5" cy="1890.2" r="11.7"/><circle cx="1329.1" cy="1893.5" r="11.7"/><circle cx="1339.6" cy="1889.7" r="11.7"/><circle cx="1349.4" cy="1892.0" r="11.7"/><circle cx="1359.0" cy="1894.9" r="11.7"/><circle cx="1373.8" cy="1892.3" r="11.7"/><circle cx="1384.6" cy="1890.7" r="11.7"/><circle cx="1393.1" cy="1892.5" r="11.7"/><circle cx="1254.9" cy="1904.4" r="11.7"/><circle cx="1268.7" cy="1902.1" r="11.7"/><circle cx="1278.6" cy="1904.5" r="11.7"/><circle cx="1290.6" cy="1900.8" r="11.7"/><circle cx="1302.0" cy="1900.3" r="11.7"/><circle cx="1310.5" cy="1904.5" r="11.7"/><circle cx="1324.3" cy="1900.9" r="11.7"/><circle cx="1332.3" cy="1902.6" r="11.7"/><circle cx="1346.5" cy="1903.0" r="11.7"/><circle cx="1358.1" cy="1903.2" r="11.7"/><circle cx="1368.6" cy="1902.5" r="11.7"/><circle cx="1377.1" cy="1901.6" r="11.7"/><circle cx="1389.0" cy="1902.1" r="11.7"/><circle cx="1274.9" cy="1913.2" r="11.7"/><circle cx="1284.8" cy="1910.2" r="11.7"/><circle cx="1296.3" cy="1912.1" r="11.7"/><circle cx="1307.5" cy="1910.9" r="11.7"/><circle cx="1318.3" cy="1913.2" r="11.7"/><circle cx="1327.3" cy="1912.4" r="11.7"/><circle cx="1340.6" cy="1914.3" r="11.7"/><circle cx="1352.5" cy="1913.2" r="11.7"/><circle cx="1359.2" cy="1912.2" r="11.7"/><circle cx="1373.4" cy="1909.3" r="11.7"/><circle cx="1383.3" cy="1913.6" r="11.7"/><circle cx="1396.8" cy="1913.9" r="11.7"/><circle cx="1277.1" cy="1920.2" r="11.7"/><circle cx="1289.1" cy="1919.1" r="11.7"/><circle cx="1301.3" cy="1920.4" r="11.7"/><circle cx="1309.3" cy="1919.8" r="11.7"/><circle cx="1321.7" cy="1920.8" r="11.7"/><circle cx="1335.0" cy="1919.0" r="11.7"/><circle cx="1343.0" cy="1920.1" r="11.7"/><circle cx="1353.9" cy="1922.6" r="11.7"/><circle cx="1364.6" cy="1918.7" r="11.7"/><circle cx="1378.2" cy="1922.5" r="11.7"/><circle cx="1390.8" cy="1921.5" r="11.7"/><circle cx="1399.2" cy="1923.3" r="11.7"/><circle cx="1285.9" cy="1931.3" r="11.7"/><circle cx="1296.8" cy="1933.2" r="11.7"/><circle cx="1306.7" cy="1933.5" r="11.7"/><circle cx="1316.7" cy="1930.1" r="11.7"/><circle cx="1329.8" cy="1931.0" r="11.7"/><circle cx="1337.9" cy="1931.8" r="11.7"/><circle cx="1350.0" cy="1928.8" r="11.7"/><circle cx="1363.1" cy="1930.8" r="11.7"/><circle cx="1375.0" cy="1931.0" r="11.7"/><circle cx="1385.9" cy="1929.7" r="11.7"/><circle cx="1393.0" cy="1931.0" r="11.7"/><circle cx="1288.6" cy="1941.2" r="11.7"/><circle cx="1302.7" cy="1938.3" r="11.7"/><circle cx="1314.0" cy="1937.9" r="11.7"/><circle cx="1322.9" cy="1941.3" r="11.7"/><circle cx="1336.1" cy="1939.7" r="11.7"/><circle cx="1347.0" cy="1941.3" r="11.7"/><circle cx="1355.5" cy="1938.6" r="11.7"/><circle cx="1365.3" cy="1939.7" r="11.7"/><circle cx="1377.1" cy="1939.7" r="11.7"/><circle cx="1390.7" cy="1939.8" r="11.7"/><circle cx="1400.9" cy="1937.9" r="11.7"/><circle cx="1285.3" cy="1948.9" r="11.7"/><circle cx="1296.5" cy="1949.8" r="11.7"/><circle cx="1306.4" cy="1950.1" r="11.7"/><circle cx="1317.6" cy="1949.2" r="11.7"/><circle cx="1328.3" cy="1951.4" r="11.7"/><circle cx="1338.2" cy="1950.6" r="11.7"/><circle cx="1349.9" cy="1949.9" r="11.7"/><circle cx="1360.6" cy="1950.3" r="11.7"/><circle cx="1373.5" cy="1948.3" r="11.7"/><circle cx="1381.5" cy="1951.9" r="11.7"/><circle cx="1392.3" cy="1951.7" r="11.7"/><circle cx="1243.5" cy="1962.4" r="11.7"/><circle cx="1257.0" cy="1961.0" r="11.7"/><circle cx="1267.2" cy="1960.5" r="11.7"/><circle cx="1275.2" cy="1961.5" r="11.7"/><circle cx="1288.0" cy="1961.7" r="11.7"/><circle cx="1299.6" cy="1962.0" r="11.7"/><circle cx="1308.4" cy="1962.4" r="11.7"/><circle cx="1320.1" cy="1959.8" r="11.7"/><circle cx="1333.3" cy="1962.4" r="11.7"/><circle cx="1345.8" cy="1962.4" r="11.7"/><circle cx="1357.9" cy="1959.3" r="11.7"/><circle cx="1364.8" cy="1957.7" r="11.7"/><circle cx="1379.1" cy="1962.2" r="11.7"/><circle cx="1389.9" cy="1958.9" r="11.7"/><circle cx="1400.7" cy="1960.6" r="11.7"/><circle cx="1238.4" cy="1970.4" r="11.7"/><circle cx="1248.8" cy="1969.5" r="11.7"/><circle cx="1284.5" cy="1967.6" r="11.7"/><circle cx="1296.3" cy="1970.2" r="11.7"/><circle cx="1307.7" cy="1970.9" r="11.7"/><circle cx="1316.7" cy="1970.5" r="11.7"/><circle cx="1326.9" cy="1970.2" r="11.7"/><circle cx="1336.7" cy="1968.5" r="11.7"/><circle cx="1350.2" cy="1971.5" r="11.7"/><circle cx="1362.3" cy="1971.6" r="11.7"/><circle cx="1374.4" cy="1972.0" r="11.7"/><circle cx="1384.1" cy="1970.0" r="11.7"/><circle cx="1394.4" cy="1967.8" r="11.7"/><circle cx="1234.5" cy="1979.3" r="11.7"/><circle cx="1298.0" cy="1978.3" r="11.7"/><circle cx="1313.2" cy="1979.9" r="11.7"/><circle cx="1322.0" cy="1979.5" r="11.7"/><circle cx="1333.4" cy="1979.2" r="11.7"/><circle cx="1346.7" cy="1981.6" r="11.7"/><circle cx="1354.0" cy="1980.4" r="11.7"/><circle cx="1369.3" cy="1979.6" r="11.7"/><circle cx="1377.9" cy="1978.3" r="11.7"/><circle cx="1388.9" cy="1979.4" r="11.7"/><circle cx="1400.8" cy="1976.8" r="11.7"/><circle cx="1327.9" cy="1988.0" r="11.7"/><circle cx="1338.7" cy="1988.4" r="11.7"/><circle cx="1351.8" cy="1986.7" r="11.7"/><circle cx="1223.1" cy="1978.2" r="11.7"/><circle cx="1230.3" cy="1966.2" r="11.7"/><circle cx="1242.3" cy="1956.7" r="11.7"/><circle cx="1251.8" cy="1951.9" r="11.7"/><circle cx="1269.7" cy="1925.6" r="11.7"/><circle cx="1268.5" cy="1918.4" r="11.7"/><circle cx="1254.2" cy="1901.7" r="11.7"/><circle cx="1261.4" cy="1886.2" r="11.7"/><circle cx="1278.1" cy="1881.4" r="11.7"/><circle cx="1304.4" cy="1877.8" r="11.7"/><circle cx="1345.0" cy="1879.0" r="11.7"/><circle cx="1364.1" cy="1880.2" r="11.7"/><circle cx="1388.0" cy="1881.4" r="11.7"/><circle cx="1411.9" cy="1875.4" r="11.7"/><circle cx="1400.0" cy="1982.9" r="11.7"/><circle cx="1380.9" cy="1994.9" r="11.7"/><circle cx="1364.1" cy="1985.3" r="11.7"/><circle cx="1340.2" cy="1999.7" r="11.7"/><circle cx="1325.9" cy="1994.9" r="11.7"/><circle cx="1235.1" cy="1984.1" r="11.7"/><circle cx="1292.4" cy="1885.0" r="11.7"/><circle cx="1328.3" cy="1886.2" r="11.7"/><circle cx="1411.9" cy="1889.7" r="11.7"/><circle cx="1309.2" cy="2037.9" r="11.7"/><circle cx="1321.1" cy="2040.3" r="11.7"/><circle cx="1330.7" cy="2045.1" r="11.7"/><circle cx="1340.2" cy="2033.1" r="11.7"/><circle cx="1328.3" cy="2030.7" r="11.7"/><circle cx="1318.7" cy="2028.4" r="11.7"/><circle cx="1362.0" cy="2060.5" r="11.7"/><circle cx="1376.9" cy="2055.9" r="11.7"/><circle cx="1385.2" cy="2058.3" r="11.7"/><circle cx="1394.4" cy="2057.9" r="11.7"/><circle cx="1356.5" cy="2065.3" r="11.7"/><circle cx="1366.9" cy="2068.2" r="11.7"/><circle cx="1377.6" cy="2065.7" r="11.7"/><circle cx="1402.1" cy="2067.4" r="11.7"/><circle cx="1353.4" cy="2057.0" r="11.7"/><circle cx="1366.5" cy="2059.4" r="11.7"/><circle cx="1380.9" cy="2052.3" r="11.7"/><circle cx="1402.4" cy="2051.1" r="11.7"/><circle cx="1411.9" cy="2057.0" r="11.7"/><circle cx="1407.1" cy="2069.0" r="11.7"/><circle cx="1392.8" cy="2066.6" r="11.7"/><circle cx="1373.7" cy="2069.0" r="11.7"/><circle cx="1354.6" cy="2067.8" r="11.7"/><circle cx="1504.1" cy="1863.6" r="11.7"/><circle cx="1452.2" cy="1870.5" r="11.7"/><circle cx="1462.0" cy="1871.9" r="11.7"/><circle cx="1476.8" cy="1868.1" r="11.7"/><circle cx="1488.5" cy="1870.7" r="11.7"/><circle cx="1500.1" cy="1870.6" r="11.7"/><circle cx="1510.5" cy="1870.5" r="11.7"/><circle cx="1446.3" cy="1879.9" r="11.7"/><circle cx="1458.1" cy="1880.6" r="11.7"/><circle cx="1470.9" cy="1879.8" r="11.7"/><circle cx="1480.1" cy="1880.4" r="11.7"/><circle cx="1465.9" cy="1888.1" r="11.7"/><circle cx="1476.3" cy="1888.7" r="11.7"/><circle cx="1443.0" cy="1885.0" r="11.7"/><circle cx="1452.6" cy="1868.2" r="11.7"/><circle cx="1471.7" cy="1865.8" r="11.7"/><circle cx="1500.4" cy="1864.7" r="11.7"/><circle cx="1518.3" cy="1863.5" r="11.7"/><circle cx="1512.3" cy="1870.6" r="11.7"/><circle cx="1502.8" cy="1875.4" r="11.7"/><circle cx="1490.8" cy="1880.2" r="11.7"/><circle cx="1478.9" cy="1896.9" r="11.7"/><circle cx="1459.7" cy="1894.5" r="11.7"/><circle cx="1455.0" cy="1916.0" r="11.7"/><circle cx="1469.3" cy="1911.3" r="11.7"/><circle cx="1481.3" cy="1913.6" r="11.7"/><circle cx="1471.7" cy="1925.6" r="11.7"/><circle cx="1459.7" cy="1925.6" r="11.7"/><circle cx="1486.0" cy="1923.2" r="11.7"/><circle cx="1499.2" cy="1907.7" r="11.7"/><circle cx="1508.7" cy="1923.2" r="11.7"/><circle cx="1413.1" cy="1874.2" r="11.7"/><circle cx="1404.8" cy="1887.4" r="11.7"/><circle cx="1416.7" cy="1910.1" r="11.7"/><circle cx="1404.8" cy="1906.5" r="11.7"/><circle cx="1400.0" cy="1925.6" r="11.7"/><circle cx="1426.3" cy="1932.8" r="11.7"/><circle cx="1439.4" cy="1936.3" r="11.7"/><circle cx="1414.3" cy="1942.3" r="11.7"/><circle cx="1400.0" cy="1947.1" r="11.7"/><circle cx="1428.7" cy="1949.5" r="11.7"/><circle cx="1447.8" cy="1942.3" r="11.7"/><circle cx="1407.2" cy="1959.0" r="11.7"/><circle cx="1423.9" cy="1963.8" r="11.7"/><circle cx="1440.6" cy="1959.0" r="11.7"/><circle cx="1459.7" cy="1971.0" r="11.7"/><circle cx="1472.9" cy="1945.4" r="11.7"/><circle cx="1519.5" cy="1950.7" r="11.7"/><circle cx="1525.5" cy="1951.9" r="11.7"/><circle cx="1433.7" cy="1985.6" r="11.7"/><circle cx="1454.3" cy="1984.7" r="11.7"/><circle cx="1465.0" cy="1983.7" r="11.7"/><circle cx="1478.1" cy="1983.4" r="11.7"/><circle cx="1426.9" cy="1992.5" r="11.7"/><circle cx="1437.6" cy="1993.4" r="11.7"/><circle cx="1451.3" cy="1991.6" r="11.7"/><circle cx="1458.8" cy="1995.4" r="11.7"/><circle cx="1474.5" cy="1990.0" r="11.7"/><circle cx="1483.7" cy="1993.7" r="11.7"/><circle cx="1493.9" cy="1994.0" r="11.7"/><circle cx="1489.8" cy="2001.8" r="11.7"/><circle cx="1407.2" cy="1985.3" r="11.7"/><circle cx="1423.9" cy="1985.3" r="11.7"/><circle cx="1447.8" cy="1985.3" r="11.7"/><circle cx="1459.7" cy="1975.8" r="11.7"/><circle cx="1471.7" cy="1982.9" r="11.7"/><circle cx="1495.6" cy="1987.7" r="11.7"/><circle cx="1493.2" cy="1997.3" r="11.7"/><circle cx="1505.2" cy="2008.0" r="11.7"/><circle cx="1481.3" cy="2006.8" r="11.7"/><circle cx="1469.3" cy="1997.3" r="11.7"/><circle cx="1443.0" cy="1999.7" r="11.7"/><circle cx="1419.1" cy="1994.9" r="11.7"/><circle cx="1556.5" cy="1987.7" r="11.7"/><circle cx="1775.2" cy="1988.9" r="11.7"/><circle cx="1661.0" cy="1980.9" r="11.7"/><circle cx="1693.4" cy="1980.9" r="11.7"/><circle cx="1702.0" cy="1983.0" r="11.7"/><circle cx="1715.5" cy="1982.3" r="11.7"/><circle cx="1727.6" cy="1981.7" r="11.7"/><circle cx="1737.1" cy="1983.4" r="11.7"/><circle cx="1746.1" cy="1981.7" r="11.7"/><circle cx="1720.7" cy="1988.3" r="11.7"/><circle cx="1637.3" cy="1986.5" r="11.7"/><circle cx="1653.3" cy="1984.1" r="11.7"/><circle cx="1664.1" cy="1973.4" r="11.7"/><circle cx="1674.8" cy="1982.9" r="11.7"/><circle cx="1691.6" cy="1977.0" r="11.7"/><circle cx="1705.9" cy="1977.0" r="11.7"/><circle cx="1720.2" cy="1980.6" r="11.7"/><circle cx="1737.0" cy="1977.0" r="11.7"/><circle cx="1747.7" cy="1981.8" r="11.7"/><circle cx="1734.6" cy="1982.9" r="11.7"/><circle cx="1716.6" cy="1989.6" r="11.7"/><circle cx="1680.8" cy="1986.5" r="11.7"/><circle cx="1435.8" cy="2034.3" r="11.7"/><circle cx="1447.8" cy="2035.5" r="11.7"/><circle cx="1400.0" cy="2052.3" r="11.7"/><circle cx="1409.6" cy="2059.4" r="11.7"/><circle cx="1400.0" cy="2071.4" r="11.7"/><circle cx="1455.0" cy="2078.5" r="11.7"/><circle cx="1469.3" cy="2076.1" r="11.7"/><circle cx="1483.6" cy="2078.5" r="11.7"/><circle cx="1492.0" cy="2080.9" r="11.7"/><circle cx="1469.3" cy="2088.1" r="11.7"/></g>
<g fill="#004dff"><circle cx="1635.4" cy="1925.6" r="11.7"/><circle cx="1646.1" cy="1922.0" r="11.7"/><circle cx="1660.5" cy="1916.0" r="11.7"/><circle cx="1672.4" cy="1924.4" r="11.7"/><circle cx="1685.6" cy="1918.4" r="11.7"/><circle cx="1660.5" cy="1928.0" r="11.7"/><circle cx="1693.9" cy="1937.5" r="11.7"/><circle cx="1684.4" cy="1930.4" r="11.7"/></g>
<g fill="#ff9900"><circle cx="1590.1" cy="2078.0" r="11.7"/><circle cx="1623.8" cy="2082.6" r="11.7"/><circle cx="1587.5" cy="2089.0" r="11.7"/><circle cx="1594.2" cy="2087.4" r="11.7"/><circle cx="1604.9" cy="2087.6" r="11.7"/><circle cx="1619.9" cy="2087.2" r="11.7"/><circle cx="1627.1" cy="2088.4" r="11.7"/><circle cx="1579.9" cy="2099.8" r="11.7"/><circle cx="1591.1" cy="2100.6" r="11.7"/><circle cx="1602.4" cy="2099.7" r="11.7"/><circle cx="1613.9" cy="2100.9" r="11.7"/><circle cx="1624.4" cy="2099.7" r="11.7"/><circle cx="1634.0" cy="2097.9" r="11.7"/><circle cx="1584.7" cy="2108.7" r="11.7"/><circle cx="1598.4" cy="2108.9" r="11.7"/><circle cx="1608.0" cy="2110.7" r="11.7"/><circle cx="1618.0" cy="2107.2" r="11.7"/><circle cx="1627.5" cy="2108.0" r="11.7"/><circle cx="1638.6" cy="2108.6" r="11.7"/><circle cx="1649.0" cy="2110.6" r="11.7"/><circle cx="1614.6" cy="2119.1" r="11.7"/><circle cx="1621.4" cy="2117.0" r="11.7"/><circle cx="1636.6" cy="2119.8" r="11.7"/><circle cx="1645.6" cy="2121.2" r="11.7"/><circle cx="1654.4" cy="2119.8" r="11.7"/><circle cx="1669.9" cy="2120.6" r="11.7"/><circle cx="1651.1" cy="2130.2" r="11.7"/><circle cx="1659.8" cy="2129.8" r="11.7"/><circle cx="1673.0" cy="2130.8" r="11.7"/><circle cx="1685.1" cy="2128.2" r="11.7"/><circle cx="1694.7" cy="2130.3" r="11.7"/><circle cx="1706.8" cy="2129.5" r="11.7"/><circle cx="1703.1" cy="2136.2" r="11.7"/><circle cx="1719.1" cy="2144.9" r="11.7"/><circle cx="1740.0" cy="2146.7" r="11.7"/><circle cx="1756.0" cy="2157.2" r="11.7"/><circle cx="1574.5" cy="2063.3" r="11.7"/><circle cx="1588.8" cy="2071.7" r="11.7"/><circle cx="1575.7" cy="2088.4" r="11.7"/><circle cx="1581.6" cy="2105.2" r="11.7"/><circle cx="1577.3" cy="2123.8" r="11.7"/><circle cx="1621.1" cy="2078.9" r="11.7"/><circle cx="1639.0" cy="2077.7" r="11.7"/><circle cx="1629.4" cy="2090.8" r="11.7"/><circle cx="1612.7" cy="2119.5" r="11.7"/><circle cx="1639.0" cy="2126.7" r="11.7"/><circle cx="1655.7" cy="2137.4" r="11.7"/><circle cx="1674.8" cy="2136.2" r="11.7"/><circle cx="1662.9" cy="2114.7" r="11.7"/><circle cx="1708.3" cy="2121.9" r="11.7"/><circle cx="1703.5" cy="2145.8" r="11.7"/><circle cx="1727.4" cy="2143.4" r="11.7"/><circle cx="1746.5" cy="2145.8" r="11.7"/><circle cx="1764.4" cy="2159.6" r="11.7"/><circle cx="1762.1" cy="2171.6" r="11.7"/><circle cx="1686.8" cy="2129.0" r="11.7"/><circle cx="1600.7" cy="2112.3" r="11.7"/><circle cx="1717.8" cy="2141.0" r="11.7"/><circle cx="1600.7" cy="2081.3" r="11.7"/><circle cx="1615.1" cy="2102.8" r="11.7"/></g>
<g fill="#ff0028"><circle cx="734.2" cy="2080.4" r="11.7"/><circle cx="758.9" cy="2075.6" r="11.7"/><circle cx="760.1" cy="2084.0" r="11.7"/><circle cx="774.4" cy="2076.8" r="11.7"/><circle cx="786.3" cy="2076.8" r="11.7"/><circle cx="782.8" cy="2080.4" r="11.7"/><circle cx="813.8" cy="2065.6" r="11.7"/><circle cx="830.6" cy="2061.3" r="11.7"/><circle cx="836.5" cy="2064.8" r="11.7"/></g>
<g fill="#ff00bf"><circle cx="896.3" cy="2338.5" r="11.7"/><circle cx="904.6" cy="2332.5" r="11.7"/><circle cx="902.3" cy="2343.3" r="11.7"/><circle cx="922.6" cy="2333.7" r="11.7"/><circle cx="932.1" cy="2340.9" r="11.7"/><circle cx="929.7" cy="2343.3" r="11.7"/><circle cx="914.2" cy="2337.3" r="11.7"/></g></g>
<rect x="44.6" y="9.8" width="1164.4" height="637.2" fill="none" stroke="#222" stroke-width="1.3"/>
<text x="87.0" y="666.5" text-anchor="middle">−1.00</text>
<text x="219.9" y="666.5" text-anchor="middle">−0.75</text>
<text x="352.8" y="666.5" text-anchor="middle">−0.50</text>
<text x="485.7" y="666.5" text-anchor="middle">−0.25</text>
<text x="618.6" y="666.5" text-anchor="middle">0.00</text>
<text x="751.5" y="666.5" text-anchor="middle">0.25</text>
<text x="884.4" y="666.5" text-anchor="middle">0.50</text>
<text x="1017.3" y="666.5" text-anchor="middle">0.75</text>
<text x="1150.2" y="666.5" text-anchor="middle">1.00</text>
<text x="34.6" y="40.0" text-anchor="end">1.00</text>
<text x="34.6" y="116.5" text-anchor="end">0.75</text>
<text x="34.6" y="192.9" text-anchor="end">0.50</text>
<text x="34.6" y="269.4" text-anchor="end">0.25</text>
<text x="34.6" y="345.9" text-anchor="end">0.00</text>
<text x="34.6" y="422.3" text-anchor="end">−0.25</text>
<text x="34.6" y="498.8" text-anchor="end">−0.50</text>
<text x="34.6" y="575.3" text-anchor="end">−0.75</text>
<text x="34.6" y="651.7" text-anchor="end">−1.00</text>
<path d="M87.0 647.0v5M219.9 647.0v5M352.8 647.0v5M485.7 647.0v5M618.6 647.0v5M751.5 647.0v5M884.4 647.0v5M1017.3 647.0v5M1150.2 647.0v5M44.6 34.6h-5M44.6 111.1h-5M44.6 187.5h-5M44.6 264.0h-5M44.6 340.5h-5M44.6 416.9h-5M44.6 493.4h-5M44.6 569.9h-5M44.6 646.3h-5" stroke="#222" stroke-width="1.2" fill="none"/>
<rect x="1307.0" y="9.9" width="1163.8" height="637.7" fill="none" stroke="#222" stroke-width="1.3"/>
<text x="1422.1" y="667.1" text-anchor="middle">−0.4</text>
<text x="1560.4" y="667.1" text-anchor="middle">−0.3</text>
<text x="1698.6" y="667.1" text-anchor="middle">−0.2</text>
<text x="1836.9" y="667.1" text-anchor="middle">−0.1</text>
<text x="1975.1" y="667.1" text-anchor="middle">0.0</text>
<text x="2113.4" y="667.1" text-anchor="middle">0.1</text>
<text x="2251.6" y="667.1" text-anchor="middle">0.2</text>
<text x="2389.9" y="667.1" text-anchor="middle">0.3</text>
<text x="1297.0" y="30.4" text-anchor="end">0.75</text>
<text x="1297.0" y="114.2" text-anchor="end">0.50</text>
<text x="1297.0" y="197.9" text-anchor="end">0.25</text>
<text x="1297.0" y="281.7" text-anchor="end">0.00</text>
<text x="1297.0" y="365.5" text-anchor="end">−0.25</text>
<text x="1297.0" y="449.3" text-anchor="end">−0.50</text>
<text x="1297.0" y="533.1" text-anchor="end">−0.75</text>
<text x="1297.0" y="616.8" text-anchor="end">−1.00</text>
<path d="M1422.1 647.6v5M1560.4 647.6v5M1698.6 647.6v5M1836.9 647.6v5M1975.1 647.6v5M2113.4 647.6v5M2251.6 647.6v5M2389.9 647.6v5M1307.0 25.0h-5M1307.0 108.8h-5M1307.0 192.5h-5M1307.0 276.3h-5M1307.0 360.1h-5M1307.0 443.9h-5M1307.0 527.7h-5M1307.0 611.4h-5" stroke="#222" stroke-width="1.2" fill="none"/>
<rect x="44.6" y="873.0" width="1164.4" height="637.7" fill="none" stroke="#222" stroke-width="1.3"/>
<text x="60.6" y="1530.2" text-anchor="middle">−0.8</text>
<text x="198.9" y="1530.2" text-anchor="middle">−0.6</text>
<text x="337.2" y="1530.2" text-anchor="middle">−0.4</text>
<text x="475.5" y="1530.2" text-anchor="middle">−0.2</text>
<text x="613.8" y="1530.2" text-anchor="middle">0.0</text>
<text x="752.1" y="1530.2" text-anchor="middle">0.2</text>
<text x="890.4" y="1530.2" text-anchor="middle">0.4</text>
<text x="1028.7" y="1530.2" text-anchor="middle">0.6</text>
<text x="1167.0" y="1530.2" text-anchor="middle">0.8</text>
<text x="34.6" y="912.1" text-anchor="end">1.00</text>
<text x="34.6" y="984.8" text-anchor="end">0.75</text>
<text x="34.6" y="1057.5" text-anchor="end">0.50</text>
<text x="34.6" y="1130.2" text-anchor="end">0.25</text>
<text x="34.6" y="1202.9" text-anchor="end">0.00</text>
<text x="34.6" y="1275.6" text-anchor="end">−0.25</text>
<text x="34.6" y="1348.3" text-anchor="end">−0.50</text>
<text x="34.6" y="1421.0" text-anchor="end">−0.75</text>
<text x="34.6" y="1493.7" text-anchor="end">−1.00</text>
<path d="M60.6 1510.7v5M198.9 1510.7v5M337.2 1510.7v5M475.5 1510.7v5M613.8 1510.7v5M752.1 1510.7v5M890.4 1510.7v5M1028.7 1510.7v5M1167.0 1510.7v5M44.6 906.7h-5M44.6 979.4h-5M44.6 1052.1h-5M44.6 1124.8h-5M44.6 1197.5h-5M44.6 1270.2h-5M44.6 1342.9h-5M44.6 1415.6h-5M44.6 1488.3h-5" stroke="#222" stroke-width="1.2" fill="none"/>
<rect x="1307.0" y="872.9" width="1163.8" height="637.7" fill="none" stroke="#222" stroke-width="1.3"/>
<text x="1379.4" y="1530.1" text-anchor="middle">−0.4</text>
<text x="1528.3" y="1530.1" text-anchor="middle">−0.2</text>
<text x="1677.1" y="1530.1" text-anchor="middle">0.0</text>
<text x="1826.0" y="1530.1" text-anchor="middle">0.2</text>
<text x="1974.9" y="1530.1" text-anchor="middle">0.4</text>
<text x="2123.8" y="1530.1" text-anchor="middle">0.6</text>
<text x="2272.6" y="1530.1" text-anchor="middle">0.8</text>
<text x="2421.5" y="1530.1" text-anchor="middle">1.0</text>
<text x="1297.0" y="912.4" text-anchor="end">1.00</text>
<text x="1297.0" y="992.4" text-anchor="end">0.75</text>
<text x="1297.0" y="1072.5" text-anchor="end">0.50</text>
<text x="1297.0" y="1152.5" text-anchor="end">0.25</text>
<text x="1297.0" y="1232.5" text-anchor="end">0.00</text>
<text x="1297.0" y="1312.5" text-anchor="end">−0.25</text>
<text x="1297.0" y="1392.6" text-anchor="end">−0.50</text>
<text x="1297.0" y="1472.6" text-anchor="end">−0.75</text>
<path d="M1379.4 1510.6v5M1528.3 1510.6v5M1677.1 1510.6v5M1826.0 1510.6v5M1974.9 1510.6v5M2123.8 1510.6v5M2272.6 1510.6v5M2421.5 1510.6v5M1307.0 907.0h-5M1307.0 987.0h-5M1307.0 1067.1h-5M1307.0 1147.1h-5M1307.0 1227.1h-5M1307.0 1307.1h-5M1307.0 1387.2h-5M1307.0 1467.2h-5" stroke="#222" stroke-width="1.2" fill="none"/>
<rect x="667.0" y="1737.3" width="1173.6" height="642.0" fill="none" stroke="#222" stroke-width="1.3"/>
<text x="808.5" y="2398.8" text-anchor="middle">−0.4</text>
<text x="1036.8" y="2398.8" text-anchor="middle">−0.2</text>
<text x="1265.2" y="2398.8" text-anchor="middle">0.0</text>
<text x="1493.6" y="2398.8" text-anchor="middle">0.2</text>
<text x="1721.9" y="2398.8" text-anchor="middle">0.4</text>
<text x="657.0" y="1752.3" text-anchor="end">0.6</text>
<text x="657.0" y="1826.9" text-anchor="end">0.4</text>
<text x="657.0" y="1901.4" text-anchor="end">0.2</text>
<text x="657.0" y="1976.0" text-anchor="end">0.0</text>
<text x="657.0" y="2050.6" text-anchor="end">−0.2</text>
<text x="657.0" y="2125.1" text-anchor="end">−0.4</text>
<text x="657.0" y="2199.7" text-anchor="end">−0.6</text>
<text x="657.0" y="2274.2" text-anchor="end">−0.8</text>
<text x="657.0" y="2348.8" text-anchor="end">−1.0</text>
<path d="M808.5 2379.3v5M1036.8 2379.3v5M1265.2 2379.3v5M1493.6 2379.3v5M1721.9 2379.3v5M667.0 1746.9h-5M667.0 1821.5h-5M667.0 1896.0h-5M667.0 1970.6h-5M667.0 2045.2h-5M667.0 2119.7h-5M667.0 2194.3h-5M667.0 2268.8h-5M667.0 2343.4h-5" stroke="#222" stroke-width="1.2" fill="none"/>
<text class="cap" x="603.0" y="817.5" text-anchor="middle">(a) Spectral Clustering</text><text class="cap" x="1854.0" y="817.5" text-anchor="middle">(b) Affinity Propagation</text><text class="cap" x="592.0" y="1680.5" text-anchor="middle">(c) Average Linkage</text><text class="cap" x="1854.0" y="1680.5" text-anchor="middle">(d) Single Linkage</text><text class="cap" x="1222.3" y="2547.5" text-anchor="middle">(e) Complete Linkage</text>
</svg>
</body></html>
